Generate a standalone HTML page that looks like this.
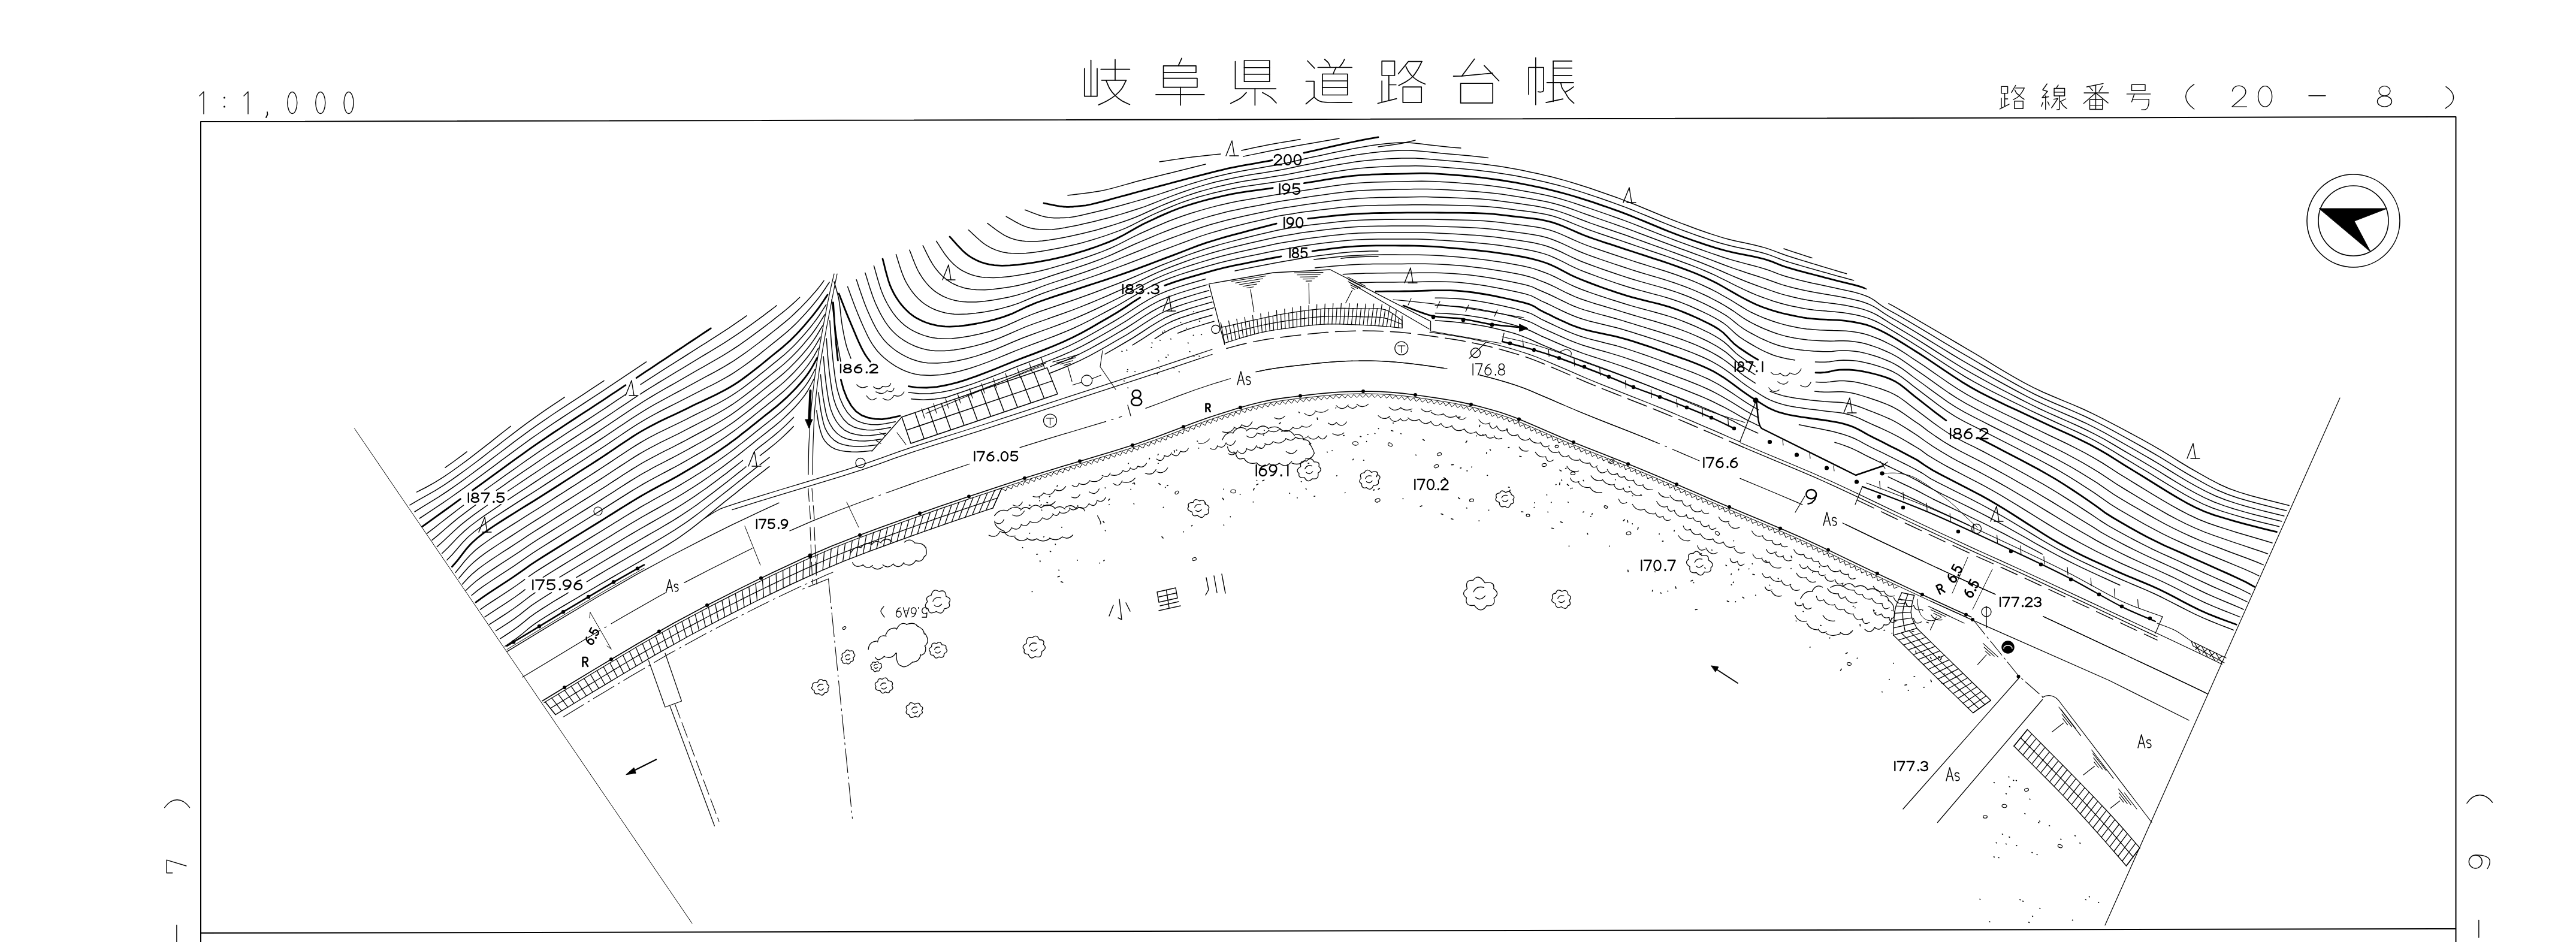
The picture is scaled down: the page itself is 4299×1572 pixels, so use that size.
<!DOCTYPE html>
<html><head><meta charset="utf-8"><title>岐阜県道路台帳</title>
<style>html,body{margin:0;padding:0;background:#fff;font-family:"Liberation Sans",sans-serif}svg{display:block}</style></head>
<body>
<svg width="4299" height="1572" viewBox="0 0 4299 1572" fill="none" stroke="#000" stroke-width="1.5" stroke-linecap="round" stroke-linejoin="round">
<path d="M335 1572L335 203L4098.5 195L4098.5 1572" stroke-width="2" stroke-linecap="butt"/>
<path d="M335 1557L4098.5 1550" stroke-width="2" stroke-linecap="butt"/>
<path d="M333 160L340 153L340 190" stroke-width="1.4"/>
<path d="M407 160L414 153L414 190" stroke-width="1.4"/>
<circle cx="374.5" cy="163" r="1.6" fill="#000" stroke="none"/>
<circle cx="374.5" cy="178" r="1.6" fill="#000" stroke="none"/>
<path d="M446 187L446.5 191L444 196" stroke-width="1.8"/>
<ellipse cx="487.8" cy="171.5" rx="8" ry="18" stroke-width="1.4"/>
<ellipse cx="534.8" cy="171.5" rx="8" ry="18" stroke-width="1.4"/>
<ellipse cx="582" cy="171.5" rx="8" ry="18" stroke-width="1.4"/>
<circle cx="3927.5" cy="368.5" r="77.5" stroke-width="1.6" fill="none"/>
<circle cx="3927.5" cy="368.5" r="58.5" stroke-width="1.6" fill="none"/>
<path d="M3870.5 348L3983.5 348L3929 369L3956 420Z" stroke-width="1" fill="#000"/>
<path d="M3661.7 140.7C3643 153 3643 169 3661.7 182" stroke-width="1.4"/>
<path d="M4082 144.6C4099 156 4099 170 4081 180.9" stroke-width="1.4"/>
<path d="M3725.5 152C3727 140 3747 140 3748 153C3748 160 3742 163 3725 178.1L3749.5 178.1" stroke-width="1.4"/>
<ellipse cx="3780.1" cy="160.9" rx="11.6" ry="17.3" stroke-width="1.4"/>
<path d="M3853 159.7L3881 159.7" stroke-width="1.4"/>
<ellipse cx="3979.5" cy="151.8" rx="9.5" ry="8.2" stroke-width="1.4"/>
<ellipse cx="3979.5" cy="169.2" rx="12" ry="9" stroke-width="1.4"/>
<path d="M274.7 1347.7C287 1330.5 304 1330.5 316.5 1347.7" stroke-width="1.4"/>
<path d="M287.7 1456.8L278.1 1456.8L278.1 1435.2L310.8 1445" stroke-width="1.4"/>
<path d="M294.9 1544L294.9 1572" stroke-width="1.4"/>
<path d="M4116.9 1340.4C4129 1322.5 4147 1322.5 4159.6 1339" stroke-width="1.4"/>
<circle cx="4131.3" cy="1438" r="11" stroke-width="1.4" fill="none"/>
<path d="M4131 1427C4148 1426 4156 1432 4155.3 1438C4155 1443 4153 1447 4151 1449.6" stroke-width="1.4"/>
<path d="M4136.8 1535.4L4136.8 1564.3" stroke-width="1.4"/>
<path d="M1809.8 114.4L1809.8 160.6L1831 160.6L1831 114.4" stroke-width="1.7"/>
<path d="M1820.6 100.6L1820.6 160.6" stroke-width="1.7"/>
<path d="M1861 99.4L1861 133.8" stroke-width="1.7"/>
<path d="M1837.2 115.6L1885.4 115.6" stroke-width="1.7"/>
<path d="M1838.5 133.8L1879.5 133.8" stroke-width="1.7"/>
<path d="M1879.5 133.8C1878.2 136.1 1875.1 143.7 1872 148C1868.9 152.3 1865 156.1 1861 159.4C1857 162.7 1852.6 165.4 1848 168C1843.4 170.6 1835.9 173.8 1833.5 175" stroke-width="1.7"/>
<path d="M1846 134.4C1847 136.7 1849.5 143.8 1852 148C1854.5 152.2 1857.7 156.1 1861 159.4C1864.3 162.7 1867.9 165.5 1872 168C1876.1 170.5 1883.2 173.3 1885.4 174.4" stroke-width="1.7"/>
<path d="M1972.2 97.2L1966.6 109.4" stroke-width="1.7"/>
<path d="M1941.6 145.6L1941.6 109.8L1996 109.8L1996 121.2L1941.6 121.2" stroke-width="1.7"/>
<path d="M1941.6 130.6L1997.9 130.6L1997.9 145.6L1941.6 145.6" stroke-width="1.7"/>
<path d="M1970 145.6L1970 175.6" stroke-width="1.7"/>
<path d="M1929 157.9L2009.8 157.9" stroke-width="1.7"/>
<path d="M2076.5 101L2118.8 101L2118.8 136.2L2076.5 136.2L2076.5 101" stroke-width="1.7"/>
<path d="M2076.5 112.9L2118.8 112.9" stroke-width="1.7"/>
<path d="M2076.5 124L2118.8 124" stroke-width="1.7"/>
<path d="M2061.5 102.5L2061.5 148.1L2129.4 148.1" stroke-width="1.7"/>
<path d="M2094.4 148.1L2094.4 175.6" stroke-width="1.7"/>
<path d="M2080 154.4C2078.3 156 2074.4 161 2070 164C2065.6 167 2056.5 171.1 2053.8 172.5" stroke-width="1.7"/>
<path d="M2106.9 154.4C2109.1 155.7 2116.2 159.1 2120 162C2123.8 164.9 2128.3 170.2 2130 171.9" stroke-width="1.7"/>
<path d="M2181.9 101.5L2193.8 113.8" stroke-width="1.7"/>
<path d="M2210.6 99C2211.7 100 2215.4 102.8 2217 105C2218.6 107.2 2219.5 111.2 2220 112.5" stroke-width="1.7"/>
<path d="M2243.8 99C2243.1 100.2 2241.5 103.8 2240 106C2238.5 108.2 2235.8 111.4 2235 112.5" stroke-width="1.7"/>
<path d="M2199.4 112.5L2256.2 112.5" stroke-width="1.7"/>
<path d="M2230 112.5C2229.5 113.4 2227.8 116.2 2227 118C2226.2 119.8 2225.3 122.6 2225 123.5" stroke-width="1.7"/>
<path d="M2206.9 123.5L2248.8 123.5L2248.8 158.5L2206.9 158.5L2206.9 123.5" stroke-width="1.7"/>
<path d="M2206.9 135L2248.8 135" stroke-width="1.7"/>
<path d="M2206.9 146.2L2248.8 146.2" stroke-width="1.7"/>
<path d="M2179.4 135.6L2193.1 135.6L2193.1 161.9L2179.4 173.5" stroke-width="1.7"/>
<path d="M2193.1 161.9C2194.1 162.8 2196.8 165.7 2199 167C2201.2 168.3 2202.8 169.3 2206.2 170C2209.8 170.7 2211.7 170.8 2220 171C2228.3 171.2 2250.2 171.2 2256.2 171.2" stroke-width="1.7"/>
<path d="M2306.2 101.9L2327.5 101.9L2327.5 126L2306.2 126L2306.2 101.9" stroke-width="1.7"/>
<path d="M2317.8 126L2317.8 168.1" stroke-width="1.7"/>
<path d="M2317.8 141.5L2329.8 141.5" stroke-width="1.7"/>
<path d="M2306.2 135L2306.2 170" stroke-width="1.7"/>
<path d="M2299.4 172.5L2330.6 164.6" stroke-width="1.7"/>
<path d="M2333.6 123.3L2350.4 102.6L2372.9 102.6" stroke-width="1.7"/>
<path d="M2372.9 102.6C2371.8 104.8 2368.6 111.8 2366 116C2363.4 120.2 2360.7 124.7 2357.5 128C2354.3 131.3 2350.9 133.6 2347 136C2343.1 138.4 2336.4 141.6 2334.3 142.7" stroke-width="1.7"/>
<path d="M2346.2 111C2347 112.5 2349.1 117.2 2351 120C2352.9 122.8 2354.8 125.5 2357.5 128C2360.2 130.5 2363.5 132.9 2367 135C2370.5 137.1 2376.6 139.4 2378.5 140.3" stroke-width="1.7"/>
<path d="M2341.3 145.1L2372.2 145.1L2372.2 171.1L2341.3 171.1L2341.3 145.1" stroke-width="1.7"/>
<path d="M2460.7 98.4L2439.7 126.8" stroke-width="1.7"/>
<path d="M2425.6 127.2L2439.7 126.8L2491 122" stroke-width="1.7"/>
<path d="M2476.9 109.4L2501.5 135" stroke-width="1.7"/>
<path d="M2437.6 139.2L2491.2 139.2L2491.2 171.9L2437.6 171.9L2437.6 139.2" stroke-width="1.7"/>
<path d="M2562.9 96.3L2562.9 174.7" stroke-width="1.7"/>
<path d="M2551.1 157.5L2551.1 112.5L2576 112.5L2576 148" stroke-width="1.7"/>
<path d="M2576 148C2575.9 148.7 2576.2 151.1 2575.5 152C2574.8 152.9 2573.4 153.3 2572 153.5C2570.6 153.7 2567.7 153.2 2566.8 153.2" stroke-width="1.7"/>
<path d="M2592.1 101.9L2592.1 169.4" stroke-width="1.7"/>
<path d="M2592.1 101.9L2623.3 101.9" stroke-width="1.7"/>
<path d="M2592.1 113.6L2623.3 113.6" stroke-width="1.7"/>
<path d="M2592.1 125.8L2623.3 125.8" stroke-width="1.7"/>
<path d="M2581.6 137.8L2625.9 137.8" stroke-width="1.7"/>
<path d="M2580.2 171.2L2608.3 165.2" stroke-width="1.7"/>
<path d="M2604.8 138.5C2605.2 139.9 2605.8 144.4 2607 147C2608.2 149.6 2610 151.1 2611.8 153.9C2613.6 156.7 2615.5 160.9 2618 164C2620.5 167.1 2625.2 170.8 2626.6 172.2" stroke-width="1.7"/>
<path d="M2625.9 144.8C2624.8 145.7 2621.3 148.5 2619 150C2616.7 151.5 2613 153.2 2611.8 153.9" stroke-width="1.7"/>
<path d="M3340 144.4L3350.6 144.4L3350.6 155.6L3340 155.6L3340 144.4" stroke-width="1.4"/>
<path d="M3345.6 155.6L3345.6 176.9" stroke-width="1.4"/>
<path d="M3345.6 165L3350.6 165" stroke-width="1.4"/>
<path d="M3340 163.8L3340 179.4" stroke-width="1.4"/>
<path d="M3337.5 181.9L3353.1 173.8" stroke-width="1.4"/>
<path d="M3356.9 154.4L3363.8 142.5" stroke-width="1.4"/>
<path d="M3363.8 146.9L3378.1 146.9" stroke-width="1.4"/>
<path d="M3378.1 146.9C3377.6 147.9 3376.3 150.9 3375 153C3373.7 155.1 3371.5 157.7 3370 159.4C3368.5 161.1 3367.7 161.9 3366 163C3364.3 164.1 3361 165.7 3360 166.2" stroke-width="1.4"/>
<path d="M3362.5 150C3362.9 150.8 3363.8 153.4 3365 155C3366.2 156.6 3368.5 158.1 3370 159.4C3371.5 160.7 3372.7 162 3374 163C3375.3 164 3377.4 165.2 3378.1 165.6" stroke-width="1.4"/>
<path d="M3361.9 168.8L3376.2 168.8L3376.2 181.2L3361.9 181.2L3361.9 168.8" stroke-width="1.4"/>
<path d="M3416.2 140L3409 150L3417 152.5L3408 163L3419 161.5" stroke-width="1.4"/>
<path d="M3413.8 160L3413.8 182.5" stroke-width="1.4"/>
<path d="M3409.4 170.6L3406.9 177.5" stroke-width="1.4"/>
<path d="M3417.5 170L3420 175.6" stroke-width="1.4"/>
<path d="M3435 141.9L3431.9 146.9" stroke-width="1.4"/>
<path d="M3428.1 147.5L3445.6 147.5L3445.6 160L3428.1 160L3428.1 147.5" stroke-width="1.4"/>
<path d="M3428.1 153.8L3445.6 153.8" stroke-width="1.4"/>
<path d="M3436.9 160L3436.9 182.5L3432.5 183.1" stroke-width="1.4"/>
<path d="M3427.5 165.6L3434.4 164.4L3423.8 180" stroke-width="1.4"/>
<path d="M3447.5 165L3438.8 169.4" stroke-width="1.4"/>
<path d="M3438.8 169.4C3439.5 170.5 3441.2 174 3443 176C3444.8 178 3448.3 180.4 3449.4 181.2" stroke-width="1.4"/>
<path d="M3510 139.4L3482.5 145" stroke-width="1.4"/>
<path d="M3497.5 142.5L3497.5 182.5" stroke-width="1.4"/>
<path d="M3478.1 155L3518.8 155" stroke-width="1.4"/>
<path d="M3487.5 145.6L3492.5 151.2" stroke-width="1.4"/>
<path d="M3508.8 143.8L3503.1 152.5" stroke-width="1.4"/>
<path d="M3497.5 155L3477.5 172.5" stroke-width="1.4"/>
<path d="M3497.5 155L3518.1 171.9" stroke-width="1.4"/>
<path d="M3487.5 166.2L3508.8 166.2L3508.8 182.5L3487.5 182.5L3487.5 166.2" stroke-width="1.4"/>
<path d="M3487.5 175.6L3508.8 175.6" stroke-width="1.4"/>
<path d="M3557.5 141.2L3580 141.2L3580 151.2L3557.5 151.2L3557.5 141.2" stroke-width="1.4"/>
<path d="M3549.4 156.9L3588.8 156.9" stroke-width="1.4"/>
<path d="M3561.9 156.9L3557.5 170" stroke-width="1.4"/>
<path d="M3558.8 165.6 L3586.2 165.6" stroke-width="1.4"/>
<path d="M3586.2 165.6C3586.2 166.8 3586.4 170.6 3586 173C3585.6 175.4 3584.8 178.3 3583.8 180C3582.8 181.7 3581.7 182.5 3580 183C3578.3 183.5 3574.8 183.1 3573.8 183.1" stroke-width="1.4"/>
<path d="M591.5 715L1155 1541" stroke-width="1"/>
<path d="M3905 664L3513 1544" stroke-width="1.2"/>
<path d="M872 1130L913.2 1105.2L972.2 1069.4L1038.2 1030.2L1100 995L1112 988.5" stroke-width="1.2" stroke-dasharray="150 10 3 10"/>
<path d="M1142 972.4L1184.8 950.2L1240.8 922.2L1255 915.3" stroke-width="1.2" stroke-dasharray="150 10 3 10"/>
<path d="M1318 885.9L1355.9 869.4L1400.4 851.5L1443.6 835.3L1488.3 819.2L1536.5 802L1587.2 784.6L1618 774.3" stroke-width="1.2" stroke-dasharray="150 10 3 10"/>
<path d="M1702 746.9L1747.8 732.6L1795 718.5L1839.7 705.2L1872 695.1" stroke-width="1.2" stroke-dasharray="150 10 3 10"/>
<path d="M1912 681.4L1938.1 671.7L1966.4 660.9L1993.3 651L2019.4 642.3L2043.6 634.7L2062 629.2" stroke-width="1.2" stroke-dasharray="150 10 3 10"/>
<path d="M2096 620.6L2115.3 616.7L2135.7 613.5L2155.5 611L2175 608.8L2194.2 606.6L2212.9 604.8L2231.4 603.4L2250 602.5L2268.5 602.1L2286.9 602.1L2305.5 602.6L2325 603.8L2346.1 605.8L2368.4 608.5L2390.3 611.5L2410 614.5L2415 615.3" stroke-width="1.2" stroke-dasharray="150 10 3 10"/>
<path d="M2468 625.5L2481.5 628.8L2497.1 633L2512.4 637.4L2526.7 641.9L2539 646.2L2549.5 650.2L2559.7 654.5L2571.6 659.6L2585.8 665.6L2601.1 672.2L2618.1 679.6L2637.6 687.8L2661 697.2L2688.4 708.1L2717.1 719.3L2743.9 730L2767.3 739.6L2788.8 748.7L2808.9 757.4L2827.9 765.5L2836 769" stroke-width="1.2" stroke-dasharray="150 10 3 10"/>
<path d="M2904 798.4L2931.9 810L2966 824.2L3001 839.1L3008 842.1" stroke-width="1.2" stroke-dasharray="150 10 3 10"/>
<path d="M3075 872.8L3104.4 886.9L3135 901.6L3164.8 915.7L3194 929.4L3222.6 942.8L3250.9 956L3277.9 968.4L3299.9 978.3L3322.8 988.6L3330 991.8" stroke-width="1.2" stroke-dasharray="150 10 3 10"/>
<path d="M3410 1028.8L3471.8 1057.7L3548.2 1093.5L3614 1124.4L3654 1143.3L3672.8 1152.3L3679.5 1155.6L3681.9 1157L3684 1158" stroke-width="1.2" stroke-dasharray="150 10 3 10"/>
<path d="M2096 620.6L2115.3 616.7L2135.7 613.5L2155.5 611L2175 608.8L2194.2 606.6L2212.9 604.8L2231.4 603.4L2250 602.5L2268.5 602.1L2286.9 602.1L2305.5 602.6L2325 603.8L2346.1 605.8L2368.4 608.5L2390.3 611.5L2410 614.5" stroke-width="1.3"/>
<path d="M2470 626L2485.4 629.8L2500.9 634.1L2516.1 638.6L2530 643L2541.8 647.2L2552 651.2L2562.5 655.7L2575 661L2589.5 667.2L2605.1 674L2622.7 681.5L2643 690L2667.6 699.9L2695.6 710.9L2724.1 722.1L2750 732.5L2760 736.6" stroke-width="1.3"/>
<path d="M3080 875.2L3104.4 886.9L3135 901.6L3164.8 915.7L3194 929.4L3222.6 942.8L3250.9 956L3277.9 968.4L3299.9 978.3L3322.8 988.6L3330 991.8" stroke-width="1.3"/>
<path d="M3410 1028.8L3471.8 1057.7L3548.2 1093.5L3614 1124.4L3654 1143.3L3672.8 1152.3L3679.5 1155.6L3681.9 1157L3684 1158" stroke-width="1.3"/>
<path d="M905 1169.7L939.6 1148.7L998.5 1113.1L1064 1074.2L1124.5 1039.7L1180.1 1010L1235.8 981.6L1289.9 955.2L1340.9 931.5L1386.7 911.8L1429.3 895L1471.9 879.3L1517.3 863L1565.8 845.8L1616.2 828.7L1666.8 811.9L1715.6 796.1L1762.6 781.4L1809.5 767.4L1854.5 754L1896 740.9L1932.3 728.3L1963.6 716.6L1991.1 706.1L2016.3 697.1L2041.2 688.9L2064.1 681.8L2085.2 675.7L2105.3 670.7L2124.2 666.9L2142.7 664.1L2161.5 661.7L2180.9 659.4L2199.5 657.3L2217.3 655.6L2234.6 654.3L2251.7 653.5L2269.2 653.1L2286.2 653.1L2303.3 653.5L2321.1 654.6L2340.5 656.4L2361.7 659L2382.9 662L2402.2 664.9L2418.2 667.5L2432 669.9L2444.8 672.6L2458.2 675.6L2472.4 679.2L2487 683.2L2501.1 687.3L2513.8 691.4L2523.7 694.9L2532.4 698.3L2542.4 702.6L2555.3 708L2569.2 714L2584.8 720.7L2602.8 728.5L2623.7 737.2L2648.8 747.3L2677 758.3L2705.3 769.5L2730.7 779.7L2753 789L2773.9 797.8L2793.6 806.3L2812.4 814.4L2827.8 821L2840.8 826.7L2855.6 833.2L2876 841.9L2904.4 853.8L2937.6 867.6L2972.3 882.3L3005.2 896.5L3036 910.7L3066.8 925.4L3097.6 940.3L3128.2 954.9L3157.8 968.8L3186.8 982.4L3215.3 995.7L3243.7 1008.8L3268.4 1020.1L3289.9 1029.7L3290 1029.7" stroke-width="1.6"/>
<path d="M1660 818.4L1704.9 803.7L1752 788.8L1799 774.7L1844.7 761.1L1887.2 748L1925.1 735.2L1957.6 723.1L1985.9 712.3L2011.3 703L2036.4 694.6L2059.7 687.3L2081.1 681L2101.3 675.8L2120.2 671.7L2138.6 668.7L2157.2 666.2L2176.5 664L2195.4 661.8L2213.3 660L2230.5 658.6L2247.6 657.6L2264.9 657.1L2281.9 657L2298.8 657.4L2316.4 658.3L2335 659.9L2355.9 662.3L2377.1 665.2L2397.1 668.2L2413.8 670.8L2427.9 673.3L2440.8 675.8L2453.8 678.7L2467.8 682.1L2482.3 686L2496.5 690.1L2509.6 694.2L2520.1 697.8L2528.7 701.1L2538.1 705.1L2550.3 710.3L2564 716.1L2579.1 722.6L2596.5 730.1L2616.6 738.6L2640.7 748.3L2668.3 759.3L2696.9 770.5L2723.3 781L2746.1 790.4L2767.2 799.3L2787.2 807.9L2806.2 816.1L2822.7 823.2L2836 828.9L2850 835.1L2868.6 843.1L2895.2 854.3L2927.5 867.7L2962.1 882.3L2995.7 896.7L3026.6 910.7L3057.4 925.3L3088.2 940.2L3118.9 954.9L3148.8 969L3177.9 982.6L3206.5 996L3234.9 1009.2L3261.1 1021.2L3282.8 1030.9L3290 1034.1" stroke-width="1"/>
<circle cx="942" cy="1147.3" r="3" fill="#000" stroke="none"/>
<circle cx="1020" cy="1100.2" r="3" fill="#000" stroke="none"/>
<circle cx="1100" cy="1053.4" r="3" fill="#000" stroke="none"/>
<circle cx="1180" cy="1010.1" r="3" fill="#000" stroke="none"/>
<circle cx="1270" cy="964.7" r="3" fill="#000" stroke="none"/>
<circle cx="1352" cy="926.6" r="3" fill="#000" stroke="none"/>
<circle cx="1435" cy="892.9" r="3" fill="#000" stroke="none"/>
<circle cx="1535" cy="856.6" r="3" fill="#000" stroke="none"/>
<circle cx="1617" cy="828.4" r="3" fill="#000" stroke="none"/>
<circle cx="1710" cy="797.9" r="3" fill="#000" stroke="none"/>
<circle cx="1802" cy="769.6" r="3" fill="#000" stroke="none"/>
<circle cx="1890" cy="742.9" r="3" fill="#000" stroke="none"/>
<circle cx="1975" cy="712.2" r="3" fill="#000" stroke="none"/>
<circle cx="2070" cy="680" r="3" fill="#000" stroke="none"/>
<circle cx="2170" cy="660.7" r="3" fill="#000" stroke="none"/>
<circle cx="2275" cy="653" r="3" fill="#000" stroke="none"/>
<circle cx="2362" cy="659.1" r="3" fill="#000" stroke="none"/>
<circle cx="2455" cy="674.9" r="3" fill="#000" stroke="none"/>
<circle cx="2535" cy="699.4" r="3" fill="#000" stroke="none"/>
<circle cx="2626" cy="738.1" r="3" fill="#000" stroke="none"/>
<circle cx="2717" cy="774.2" r="3" fill="#000" stroke="none"/>
<circle cx="2798" cy="808.2" r="3" fill="#000" stroke="none"/>
<circle cx="2886" cy="846.1" r="3" fill="#000" stroke="none"/>
<circle cx="2971" cy="881.7" r="3" fill="#000" stroke="none"/>
<circle cx="3051" cy="917.8" r="3" fill="#000" stroke="none"/>
<circle cx="3133" cy="957.1" r="3" fill="#000" stroke="none"/>
<circle cx="3208" cy="992.3" r="3" fill="#000" stroke="none"/>
<circle cx="3281" cy="1025.7" r="3" fill="#000" stroke="none"/>
<path d="M908 1172.6L941.7 1152.2L1000.6 1116.5L1066 1077.6L1126.5 1043.2L1182 1013.6L1237.6 985.1L1291.6 958.8L1342.5 935.2L1388.2 915.5L1430.7 898.8L1473.2 883.1L1518.6 866.7L1567.1 849.6L1617.5 832.5L1668.1 815.7L1672 814.4" stroke-width="1.2"/>
<path d="M927 1192.6L969.2 1167L1030.7 1130L1095.5 1091.7L1153 1059.5L1208.3 1030.3L1263.3 1002.5L1316.2 977L1365.3 954.6L1409.1 936.2L1450.7 920.1L1493.4 904.5L1539.6 887.9L1588.3 870.9L1638.7 853.8L1657 847.8" stroke-width="1.4"/>
<path d="M910 1171.4L927 1192.6M920.8 1164.9L937.3 1186.4M931.6 1158.3L947.7 1180.1M942.3 1151.8L958 1173.8M953.1 1145.2L968.3 1167.6M963.9 1138.7L978.7 1161.3M974.7 1132.2L989 1155M985.4 1125.7L999.4 1148.8M996.2 1119.1L1009.7 1142.5M1007 1112.6L1020.1 1136.3M1017.8 1106.2L1030.4 1130.1M1028.6 1099.7L1040.8 1123.9M1039.5 1093.3L1051.2 1117.7M1050.3 1086.8L1061.6 1111.5M1061.2 1080.5L1072 1105.4M1072.1 1074.1L1082.5 1099.3M1083 1067.8L1092.9 1093.2M1093.9 1061.5L1103.4 1087.2M1104.8 1055.3L1113.9 1081.2M1115.8 1049.1L1124.4 1075.2M1126.9 1043L1135 1069.4M1137.9 1037L1145.6 1063.6M1149 1031L1156.2 1057.8M1160.1 1025.1L1166.8 1052.1M1171.3 1019.2L1177.5 1046.4M1182.4 1013.3L1188.2 1040.8M1193.6 1007.5L1198.9 1035.2M1204.8 1001.7L1209.7 1029.6M1216 996L1220.4 1024.1M1227.3 990.3L1231.2 1018.6M1238.5 984.7L1242 1013.1M1249.8 979.1L1252.8 1007.7M1261.1 973.5L1263.6 1002.4M1272.5 968L1274.5 997M1283.8 962.5L1285.3 991.7M1295.2 957.1L1296.2 986.5M1306.6 951.7L1307.1 981.3M1318 946.4L1318.1 976.1M1329.4 941.1L1329 971M1340.9 935.9L1340 966M1352.4 930.8L1351 961M1364 925.7L1362 956M1375.6 920.8L1373.1 951.2M1387.2 915.9L1384.2 946.4M1398.9 911.2L1395.4 941.8M1410.6 906.5L1406.6 937.2M1422.3 902L1417.8 932.7M1434.1 897.5L1429.1 928.3M1445.9 893.1L1440.4 924M1457.7 888.7L1451.7 919.8M1469.6 884.4L1463 915.6M1481.4 880.2L1474.4 911.4M1493.3 875.9L1485.7 907.3M1505.1 871.6L1497.1 903.2M1517 867.3L1508.5 899.1M1528.8 863.1L1519.9 895M1540.7 858.9L1531.2 890.9M1552.6 854.7L1542.6 886.8M1564.5 850.5L1554 882.8M1576.4 846.4L1565.4 878.8M1588.3 842.3L1576.8 874.8M1600.3 838.3L1588.3 870.9M1612.2 834.2L1599.7 867M1624.1 830.2L1611.1 863.1M1636.1 826.3L1622.6 859.2M1648.1 822.3L1634.1 855.4M1660 818.3L1645.5 851.6M1672 814.4L1657 847.8" stroke-width="1.3"/>
<path d="M918.5 1182L929.1 1175.6L939.6 1169.2L950.2 1162.8L960.7 1156.4L971.3 1150L981.8 1143.6L992.4 1137.2L1003 1130.8L1013.5 1124.5L1024.1 1118.1L1034.7 1111.8L1045.3 1105.5L1056 1099.2L1066.6 1092.9L1077.3 1086.7L1087.9 1080.5L1098.6 1074.3L1109.4 1068.2L1120.1 1062.2L1130.9 1056.2L1141.7 1050.3L1152.6 1044.4L1163.5 1038.6L1174.4 1032.8L1185.3 1027L1196.3 1021.3L1207.2 1015.7L1218.2 1010L1229.2 1004.5L1240.3 998.9L1251.3 993.4L1262.4 987.9L1273.5 982.5L1284.6 977.1L1295.7 971.8L1306.9 966.5L1318 961.3L1329.2 956.1L1340.5 950.9L1351.7 945.9L1363 940.9L1374.3 936L1385.7 931.2L1397.1 926.5L1408.6 921.9L1420.1 917.4L1431.6 912.9L1443.1 908.6L1454.7 904.3L1466.3 900L1477.9 895.8L1489.5 891.6L1501.1 887.4L1512.7 883.2L1524.3 879L1536 874.9L1547.6 870.8L1559.2 866.7L1570.9 862.6L1582.6 858.6L1594.3 854.6L1605.9 850.6L1617.6 846.7L1629.3 842.7L1641.1 838.8L1652.8 835L1664.5 831.1" stroke-width="1.3"/>
<path d="M910 1171.4L927 1192.6" stroke-width="1.3"/>
<path d="M1672 814.4L1657 847.8" stroke-width="1.3"/>
<path d="M940 1196.5L988.8 1166.8L1052.1 1128.8L1115.9 1091.5L1171.5 1060.9L1226.7 1032.1L1281.1 1004.9L1333.2 980.1L1380.6 958.8L1390 954.9" stroke-width="1.1" stroke-dasharray="40 8 3 8"/>
<path d="M1672 815.5L1678.5 819.1L1681.5 812.4L1688 816L1691 809.3L1697.5 812.9L1700.6 806.2L1707 809.9L1710.1 803.1L1716.5 806.8L1719.6 800L1726.1 803.7L1729.2 797L1735.6 800.7L1738.7 794L1745.1 797.8L1748.3 791L1754.7 794.8L1757.8 788.1L1764.2 791.9L1767.4 785.2L1773.8 789L1777 782.3L1783.4 786.1L1786.6 779.4L1793 783.3L1796.2 776.6L1802.6 780.4L1805.8 773.7L1812.2 777.6L1815.4 770.9L1821.8 774.7L1825 768L1831.4 771.9L1834.6 765.2L1841 769L1844.2 762.3L1850.6 766.1L1853.8 759.4L1860.2 763.2L1863.3 756.5L1869.8 760.3L1872.9 753.5L1879.4 757.3L1882.5 750.5L1888.9 754.3L1892 747.5L1898.5 751.2L1901.5 744.4L1908 748L1911 741.1L1917.5 744.7L1920.5 737.9L1927 741.4L1929.9 734.5L1936.5 738L1939.3 731.1L1945.9 734.5L1948.7 727.6L1955.3 731L1958 724L1964.7 727.4L1967.4 720.5L1974 723.8L1976.7 716.9L1983.4 720.2L1986.1 713.3L1992.7 716.7L1995.5 709.8L2002 713.2L2004.9 706.3L2011.4 709.9L2014.3 703L2020.8 706.6L2023.8 699.8L2030.3 703.5L2033.3 696.7L2039.8 700.4L2042.8 693.6L2049.3 697.3L2052.4 690.6L2058.8 694.4L2061.9 687.6L2068.3 691.5L2071.5 684.8L2077.8 688.7L2081.2 682L2087.4 686L2090.8 679.4L2097 683.5L2100.5 677L2106.7 681.2L2110.3 674.7L2116.3 679.1L2120.1 672.8L2126 677.3L2130 671L2135.7 675.7L2139.9 669.5L2145.6 674.3L2149.8 668.1L2155.4 673L2159.7 666.9L2165.3 671.8L2169.7 665.8L2175.3 670.6L2179.6 664.6L2185.2 669.5L2189.6 663.4L2195.1 668.3L2199.5 662.3L2205.1 667.3L2209.5 661.3L2214.9 666.3L2219.4 660.4L2224.9 665.5L2229.4 659.7L2234.8 664.8L2239.4 659L2244.7 664.3L2249.4 658.6L2254.6 663.9L2259.4 658.2L2264.5 663.6L2269.4 658.1L2274.5 663.5L2279.4 658L2284.4 663.5L2289.5 658.1L2294.3 663.7L2299.5 658.4L2304.2 664.1L2309.5 658.9L2314.1 664.6L2319.5 659.5L2324 665.4L2329.4 660.3L2333.9 666.3L2339.4 661.3L2343.7 667.4L2349.3 662.5L2353.6 668.6L2359.3 663.8L2363.5 669.9L2369.2 665.1L2373.4 671.2L2379.1 666.5L2383.3 672.7L2389 668L2393.1 674.1L2398.9 669.5L2403 675.7L2408.8 671L2412.8 677.2L2418.7 672.6L2422.7 678.9L2428.5 674.4L2432.4 680.7L2438.4 676.3L2442.1 682.7L2448.1 678.4L2451.8 684.9L2457.9 680.7L2461.4 687.2L2467.6 683.1L2471.1 689.7L2477.3 685.7L2480.6 692.3L2486.9 688.3L2490.2 695L2496.6 691.2L2499.7 697.9L2506.1 694.1L2509.2 700.9L2515.6 697.3L2518.4 704.1L2525 700.7L2527.6 707.7L2534.3 704.5L2536.7 711.6L2543.5 708.5L2545.9 715.5L2552.7 712.4L2555.2 719.4L2561.9 716.3L2564.3 723.3L2571.1 720.2L2573.5 727.3L2580.3 724.2L2582.7 731.3L2589.5 728.2L2591.9 735.3L2598.7 732.2L2601.1 739.2L2607.9 736.1L2610.4 743.1L2617.1 739.9L2619.7 746.9L2626.4 743.7L2629 750.7L2635.7 747.4L2638.3 754.4L2645 751.1L2647.6 758.1L2654.3 754.8L2657 761.8L2663.6 758.5L2666.3 765.4L2672.9 762.1L2675.6 769.1L2682.3 765.8L2684.9 772.8L2691.6 769.5L2694.2 776.4L2700.9 773.1L2703.5 780.1L2710.2 776.8L2712.8 783.8L2719.5 780.6L2722.1 787.5L2728.8 784.3L2731.3 791.3L2738 788.1L2740.5 795.1L2747.3 792L2749.8 799L2756.5 795.9L2759 802.9L2765.7 799.8L2768.2 806.8L2774.9 803.7L2777.4 810.7L2784.1 807.7L2786.6 814.7L2793.3 811.6L2795.7 818.6L2802.5 815.6L2805 822.6L2811.7 819.5L2814.1 826.5L2820.9 823.5L2823.3 830.5L2830.1 827.5L2832.5 834.5L2839.3 831.5L2841.7 838.5L2848.4 835.5L2850.8 842.5L2857.6 839.5L2860.1 846.5L2866.8 843.4L2869.3 850.5L2876 847.4L2878.5 854.4L2885.3 851.3L2887.8 858.3L2894.5 855.1L2897 862.1L2903.7 859L2906.3 866L2913 862.8L2915.5 869.8L2922.2 866.6L2924.7 873.6L2931.5 870.5L2934 877.5L2940.7 874.3L2943.2 881.3L2950 878.2L2952.4 885.2L2959.2 882.1L2961.6 889.1L2968.4 886L2970.8 893L2977.6 889.9L2980 897L2986.8 893.9L2989.2 901L2996 897.9L2998.3 905L3005.1 902L3007.4 909.1L3014.2 906.1L3016.5 913.2L3023.3 910.3L3025.5 917.4L3032.4 914.6L3034.6 921.7L3041.5 918.8L3043.6 925.9L3050.5 923.1L3052.6 930.2L3059.5 927.5L3061.7 934.6L3068.5 931.8L3070.7 938.9L3077.6 936.1L3079.7 943.3L3086.6 940.5L3088.7 947.6L3095.6 944.8L3097.7 952L3104.6 949.2L3106.8 956.3L3113.7 953.5L3115.8 960.6L3122.7 957.8L3124.9 964.9L3131.8 962.1L3133.9 969.2L3140.8 966.3L3143 973.4L3149.9 970.6L3152.1 977.7L3158.9 974.8L3161.1 981.9L3168 979.1" stroke-width="1"/>
<path d="M846.4 1087.1L874.8 1069.9L930.5 1036.1L996.3 996.8L1061.1 959.4L1119 928L1176.4 898.4L1220 876.7" stroke-width="1.3"/>
<path d="M846 1083.8L885.6 1059.9L944.9 1024L1011.5 984.4L1074.5 948.5L1075 948.3" stroke-width="1"/>
<path d="M846 1078L883.1 1055.6L942.3 1019.7L1008.9 980.1L1072.1 944.2L1075 942.6" stroke-width="2.6"/>
<circle cx="857" cy="1071.4" r="3.2" fill="#000" stroke="none"/>
<circle cx="900" cy="1045.3" r="3.2" fill="#000" stroke="none"/>
<circle cx="940" cy="1021.1" r="3.2" fill="#000" stroke="none"/>
<circle cx="982" cy="996" r="3.2" fill="#000" stroke="none"/>
<circle cx="1024" cy="971.3" r="3.2" fill="#000" stroke="none"/>
<circle cx="1064" cy="948.6" r="3.2" fill="#000" stroke="none"/>
<path d="M1175 865.5L1179.5 862.6L1185.9 858.4L1192.8 854.2L1198.4 851.2L1202.3 849.2L1209.1 846.6L1223.1 841.9L1244.1 835.2L1270.2 827.1L1300 818L1335.3 807.3L1375.1 795.4L1413.5 783.7L1445.5 773.2L1472.6 763.6L1499.7 753.9L1531.2 743.3L1567.2 731.9L1605.3 720L1643 708L1679.3 696.2L1715.3 684.3L1752.3 672.2L1791.4 659.4L1832.4 646.1L1873.6 632.7L1913.3 619.6L1956 605.4L1995.5 592.2L2023 583" stroke-width="1.3"/>
<path d="M1222 850.7L1238.9 845.3L1263.4 837.6L1292.1 828.8L1325.1 818.8L1364 807.1L1403.6 795.1L1438.1 784.1L1466.5 774.3L1493.1 764.7L1522.5 754.6L1557.3 743.4L1594.9 731.6L1633 719.6L1669.7 707.7L1705.8 695.9L1742.3 683.9L1780.5 671.4L1821.1 658.2L1862.5 644.7L1902.5 631.6L1944.2 617.8L1985.8 603.9L2018.3 593L2023 591.4" stroke-width="1.3"/>
<path d="M1220 876.7L1273.4 851.3L1300 839.2" stroke-width="1.3"/>
<path d="M2047 581.5L2065 576.6L2088.9 570.9L2112.3 566.5L2134.2 563.3L2154.6 560.8L2174.1 558.5L2193.8 556.4L2213.5 554.6L2233.3 553.2L2253.2 552.4L2272.8 552L2292.5 552.2L2312.9 552.9L2334.4 554.3L2357.5 556.7L2380.8 559.7L2402.8 562.8L2422.2 565.8L2439.2 568.6L2454.8 571.5L2469.9 574.7L2485.6 578.3L2502.2 582.6L2518.7 587.2L2534.6 591.9L2549.4 596.8L2562.5 601.6L2574 606.2L2585 610.9L2598 616.4L2613.2 622.9L2629.2 629.9L2646.9 637.5L2667.4 645.9L2692.7 656L2721.1 667.2L2749.4 678.4L2774.9 688.7L2797.7 698.2L2818.8 707.2L2838.3 715.6L2856.6 723.4L2871.5 729.9L2884.7 735.7L2900 742.3L2910 746.6" stroke-dasharray="34 12"/>
<path d="M2386 554.4L2403.7 556.9L2423.1 559.9L2440.2 562.7L2456 565.6L2471.2 568.8L2487.1 572.5L2503.7 576.8L2520.4 581.4L2536.4 586.2L2551.4 591.1L2564.7 596L2576.3 600.7L2587.3 605.4L2600.3 610.9L2615.6 617.4L2631.6 624.4L2649.2 632L2669.6 640.4L2694.9 650.4L2723.3 661.6L2751.6 672.8L2777.2 683.1L2800 692.7L2821.1 701.6L2840.7 710.1L2859 717.9L2873.9 724.4L2887.1 730.2L2902.4 736.8L2905 737.9" stroke-width="1.2"/>
<path d="M2905 744.5L2928.4 754.4L2959.3 767.3L2994.2 781.8L3029.5 796.9L3062.7 811.8L3094.9 826.8L3126.2 841.9L3156.5 856.5L3186.1 870.5L3215.2 884.2L3243.8 897.5L3271.9 910.6L3298.7 922.9L3320.3 932.7L3343.4 943L3374.9 957.4L3423.1 979.8L3493 1012.4L3569.4 1048.3L3600 1062.6" stroke-width="1.3"/>
<path d="M3100 834.8L3124 846.4L3154.4 861L3184 875L3213.1 888.7L3241.7 902.1L3269.8 915.2L3296.6 927.5L3318.3 937.2L3341.3 947.5L3372.8 961.9L3421 984.3L3490.8 1016.9L3567.3 1052.8L3600 1068.1" stroke-width="1.4" stroke-dasharray="30 14"/>
<path d="M2905 739L2923.7 747L2953 759.2L2987.2 773.5L3022.8 788.5L3056.7 803.5L3089 818.5L3120.6 833.6L3151.2 848.4L3180.9 862.5L3210.1 876.3L3238.8 889.7L3267 902.8L3294.6 915.6L3317.1 925.8L3339.1 935.6L3367.9 948.7L3410.8 968.5L3476.3 999.1L3552.8 1034.9L3622.9 1067.8L3669.9 1090L3693.4 1101.2L3703.7 1106.3L3707.4 1108.2L3708.2 1108.6" stroke-width="1.2"/>
<path d="M3292.5 1035L3520 1135.5L3653 1202" stroke-width="1.3"/>
<path d="M1616.4 383.8L1617.9 385.1L1619.4 386.5L1620.8 387.8L1622.3 389.2L1623.7 390.6L1625.2 391.9L1626.6 393.3L1628.1 394.6L1629.5 396L1631 397.3L1632.5 398.6L1634 400L1635.5 401.3L1637 402.6L1638.6 403.8L1640.2 405.1L1641.8 406.3L1643.4 407.5L1645 408.6L1646.7 409.7L1648.4 410.7L1650.2 411.7L1651.9 412.7L1653.7 413.6L1655.6 414.5L1657.4 415.3L1659.2 416.1L1661.1 416.9L1663 417.6L1664.9 418.2L1666.8 418.8L1668.8 419.4L1670.7 419.9L1672.7 420.4L1674.7 420.9L1676.6 421.3L1678.6 421.6L1680.6 421.9L1682.7 422.2L1688 422.8L1700.3 423.2L1712.5 422.5L1724.6 421.2L1736.7 419.5L1748.8 417.5L1760.9 415.3L1772.9 412.9L1784.8 410.3L1796.8 407.5L1808.6 404.4L1820.4 401L1832.1 397.4L1843.8 393.6L1855.3 389.6L1866.8 385.4L1878.2 380.9L1889.2 375.7L1900.1 370.2L1910.9 364.5L1921.9 359.1L1933 354.1L1944.2 349.2L1955.5 344.5L1966.9 339.9L1978.3 335.7L1990 331.9L2001.7 328.3L2013.5 325.1L2025.4 322L2037.3 319.2L2049.2 316.5L2061.2 314L2073.3 311.8L2085.4 309.9L2097.5 308.2L2109.6 306.5L2121.7 304.7L2133.9 302.9L2146 301L2157.5 299L2168.8 296.9L2180.1 295L2191.3 293L2202.6 291L2213.9 289L2225.2 287L2236.5 285.2L2247.8 283.5L2259.2 282L2270.6 280.7L2282 279.7L2293.4 278.9L2304.8 278.2L2316.2 277.7L2327.7 277.3L2339.2 277.1L2350.6 276.9L2362.1 276.8L2373.5 276.9L2384.9 277.4L2396.4 278.1L2407.8 279L2419.2 279.9L2430.6 280.8L2442 281.8L2453.5 282.9L2464.9 284.1L2476.2 285.4L2487.6 286.8L2499 288.4L2510.3 290.2L2521.6 292.1L2532.9 294.1L2544.1 296.3L2555.4 298.5L2566.6 300.9L2577.8 303.5L2588.9 306.2L2600 309L2608.8 311.4L2617.6 313.9L2626.3 316.5L2635.1 319.1L2643.8 321.9L2652.4 324.7L2661.1 327.6L2669.7 330.5L2678.3 333.5L2686.9 336.5L2695.5 339.6L2704.1 342.7L2712.7 345.9L2721.2 349.2L2729.6 352.6L2738.1 356.1L2746.5 359.5L2754.9 363L2763.4 366.5L2771.8 370L2780.2 373.4L2788.7 376.8L2797.2 380.1L2805.8 383.4L2814.3 386.5L2822.9 389.6L2831.5 392.7L2840.1 395.7L2848.7 398.6L2857.4 401.5L2866.1 404.2L2874.9 406.8L2883.7 409.1L2892.5 411.2L2901.5 413.2L2910.4 415L2919.3 416.8L2928.2 418.8L2937.1 420.8L2945.1 423L2951.2 424.9L2957.4 427.1L2963.4 429.4L2969.4 431.8L2975.5 434.1L2981.6 436.2L2987.8 438.1L2994 440L3000.2 441.8L3006.4 443.6L3012.6 445.4L3018.8 447.2L3025 448.9L3031.3 450.7L3037.5 452.4L3043.7 454.2L3050 455.9L3056.2 457.7L3062.4 459.4L3068.6 461.2L3074.9 462.8L3081.1 464.5L3087.4 466.2L3093.6 467.9"/>
<path d="M1647.8 372.6L1649.3 373.7L1650.7 374.7L1652.2 375.8L1653.6 376.9L1655.1 378L1656.5 379.1L1658 380.2L1659.5 381.3L1660.9 382.4L1662.4 383.5L1663.9 384.6L1665.3 385.6L1666.9 386.7L1668.4 387.7L1669.9 388.7L1671.4 389.7L1673 390.7L1674.6 391.6L1676.1 392.5L1677.8 393.4L1679.4 394.2L1681.1 395L1682.8 395.8L1684.5 396.5L1686.3 397.2L1688 397.8L1689.8 398.4L1691.5 399L1693.3 399.5L1695.1 400L1696.9 400.4L1698.8 400.8L1700.6 401.2L1702.4 401.5L1704.3 401.8L1706.1 402.1L1708 402.3L1709.9 402.5L1711.7 402.7L1716.8 403.1L1728.2 403.1L1739.6 402.1L1750.9 400.6L1762.2 398.7L1773.4 396.7L1784.7 394.5L1795.9 392.1L1807 389.5L1818.1 386.8L1829.2 383.9L1840.2 380.8L1851.2 377.5L1862.1 374.1L1873 370.5L1883.8 366.7L1894.5 362.7L1905 358.3L1915.4 353.5L1925.7 348.7L1936.1 344.1L1946.6 339.8L1957.2 335.5L1967.9 331.4L1978.6 327.4L1989.4 323.7L2000.3 320.2L2011.3 317.1L2022.4 314.1L2033.5 311.3L2044.7 308.8L2055.8 306.3L2067.1 304.1L2078.4 302.1L2089.7 300.3L2101 298.6L2112.3 296.9L2123.6 295.1L2134.9 293.3L2146.2 291.4L2157.5 289.3L2168.7 286.9L2180 284.8L2191.3 282.7L2202.5 280.6L2213.8 278.4L2225.1 276.3L2236.4 274.3L2247.7 272.4L2259 270.6L2270.4 269.1L2281.8 267.8L2293.2 266.7L2304.6 265.7L2316 264.9L2327.5 264.4L2338.9 264.1L2350.4 263.9L2361.9 264.1L2373.3 264.7L2384.7 265.5L2396.1 266.5L2407.6 267.4L2419 268.4L2430.5 269.3L2441.9 270.4L2453.3 271.5L2464.7 272.7L2476.1 274L2487.5 275.4L2498.9 277L2510.2 278.8L2521.5 280.8L2532.8 282.8L2544.1 285L2555.3 287.4L2566.6 289.8L2577.7 292.4L2588.9 295.1L2600 298L2608.8 300.4L2617.6 302.9L2626.3 305.5L2635.1 308.2L2643.8 311L2652.5 313.8L2661.1 316.7L2669.8 319.7L2678.4 322.7L2687 325.7L2695.6 328.8L2704.2 331.9L2712.7 335.2L2721.2 338.5L2729.7 341.8L2738.2 345.3L2746.6 348.8L2755.1 352.2L2763.5 355.7L2771.9 359.2L2780.4 362.7L2788.9 366.1L2797.4 369.4L2805.9 372.6L2814.5 375.8L2823 379L2831.6 382.2L2840.2 385.2L2848.8 388.2L2857.5 391.1L2866.2 393.9L2874.9 396.6L2883.7 399L2892.6 401.2L2901.5 403.2L2910.4 405.1L2919.4 407L2928.3 409L2937.1 411.2L2945.1 413.4L2951.4 415.4L2957.7 417.6L2963.8 419.9L2970 422.3L2976.2 424.5L2982.5 426.7L2988.8 428.7L2995.1 430.7L3001.4 432.7L3007.7 434.6L3014 436.5L3020.3 438.5L3026.6 440.4L3033 442.3L3039.3 444.2L3045.6 446.1L3051.9 448L3058.3 449.9L3064.6 451.8L3070.9 453.7L3077.3 455.5L3081.5 456.7"/>
<path d="M1679.2 361.4L1680.7 362.2L1682.1 363L1683.6 363.9L1685 364.7L1686.5 365.5L1687.9 366.4L1689.4 367.2L1690.8 368L1692.3 368.8L1693.7 369.6L1695.2 370.5L1696.7 371.3L1698.2 372L1699.7 372.8L1701.2 373.6L1702.7 374.3L1704.2 375.1L1705.7 375.8L1707.3 376.5L1708.9 377.1L1710.5 377.7L1712.1 378.3L1713.7 378.9L1715.3 379.4L1717 379.8L1718.6 380.3L1720.3 380.7L1722 381.1L1723.6 381.4L1725.3 381.7L1727 382L1728.7 382.2L1730.5 382.4L1732.2 382.6L1733.9 382.8L1735.6 382.9L1737.4 383L1739.1 383.1L1740.8 383.2L1745.5 383.3L1756.1 383L1766.7 381.7L1777.2 380L1787.6 378L1798.1 375.9L1808.5 373.6L1818.8 371.2L1829.2 368.7L1839.5 366.1L1849.8 363.4L1860.1 360.5L1870.3 357.6L1880.5 354.5L1890.7 351.3L1900.8 348L1910.9 344.6L1920.8 340.8L1930.6 336.9L1940.4 332.9L1950.3 329.1L1960.2 325.4L1970.2 321.8L1980.3 318.3L1990.3 314.9L2000.5 311.6L2010.7 308.6L2020.9 305.8L2031.3 303.1L2041.6 300.7L2052 298.4L2062.5 296.2L2072.9 294.2L2083.4 292.3L2093.9 290.6L2104.5 288.9L2115 287.2L2125.5 285.5L2136 283.7L2146.5 281.8L2157.5 279.5L2168.7 277L2179.9 274.7L2191.2 272.4L2202.4 270.1L2213.7 267.8L2225 265.6L2236.3 263.4L2247.5 261.3L2258.9 259.3L2270.2 257.5L2281.6 255.9L2292.9 254.5L2304.3 253.2L2315.8 252.2L2327.2 251.4L2338.7 251.1L2350.2 251L2361.7 251.5L2373.1 252.4L2384.5 253.6L2395.9 254.8L2407.4 255.9L2418.8 256.9L2430.3 257.9L2441.7 258.9L2453.2 260L2464.6 261.2L2476 262.5L2483.6 263.5"/>
<path d="M2977 415L2983.4 417.2L2989.8 419.4L2996.2 421.5L3002.6 423.5L3009 425.6L3015.4 427.7L3021.8 429.8L3024 430.4"/>
<path d="M1710.6 350.2L1712.1 350.7L1713.5 351.3L1715 351.9L1716.4 352.4L1717.9 353L1719.3 353.6L1720.8 354.1L1722.2 354.7L1723.7 355.3L1725.1 355.8L1726.6 356.4L1728 356.9L1729.5 357.4L1731 358L1732.5 358.5L1733.9 359L1735.4 359.5L1736.9 359.9L1738.4 360.4L1739.9 360.8L1741.5 361.2L1743 361.6L1744.6 361.9L1746.1 362.2L1747.7 362.5L1749.2 362.8L1750.8 363L1752.4 363.2L1754 363.3L1755.6 363.5L1757.1 363.6L1758.7 363.7L1760.3 363.7L1761.9 363.7L1763.5 363.7L1765.1 363.7L1766.7 363.7L1768.3 363.7L1769.9 363.6L1774.3 363.5L1784.1 362.9L1793.8 361.4L1803.5 359.4L1813.1 357.3L1822.7 355.1L1832.2 352.8L1841.8 350.4L1851.4 347.9L1860.9 345.4L1870.4 342.9L1880 340.3L1889.5 337.6L1898.9 334.9L1908.4 332.2L1917.8 329.3L1927.3 326.4L1936.6 323.4L1945.9 320.3L1955.2 317.1L1964.5 314.1L1973.9 311.1L1983.2 308.1L1992.6 305.2L2002.1 302.4L2011.5 299.6L2021 297L2030.6 294.5L2040.1 292.2L2049.8 290L2059.4 288L2069.1 286L2078.8 284.2L2088.5 282.5L2098.2 280.9L2108 279.3L2117.7 277.6L2127.4 275.9L2137.1 274.1L2146.8 272.3L2157.5 269.8L2168.6 267L2179.8 264.5L2191.1 262.1L2202.4 259.7L2213.6 257.2L2224.9 254.8L2236.1 252.5L2247.4 250.2L2258.7 248L2270 245.9L2281.4 244L2292.7 242.3L2304.1 240.7L2315.5 239.4L2327 238.5L2338.5 238.1L2350 238.1L2361.5 238.9L2372.9 240.2L2384.3 241.7L2395.7 243.1L2407.2 244.3L2418.6 245.4L2430.1 246.4L2437.8 247.1"/>
<path d="M1742 339L1743.5 339.3L1744.9 339.6L1746.3 339.9L1747.8 340.2L1749.2 340.5L1750.7 340.8L1752.1 341.1L1753.6 341.4L1755 341.7L1756.5 342L1757.9 342.3L1759.4 342.5L1760.8 342.8L1762.3 343.1L1763.7 343.4L1765.2 343.6L1766.6 343.9L1768.1 344.1L1769.6 344.3L1771 344.5L1772.5 344.7L1774 344.9L1775.4 345L1776.9 345.1L1778.4 345.2L1779.9 345.3L1781.3 345.3L1782.8 345.3L1784.3 345.3L1785.8 345.2L1787.2 345.2L1788.7 345.1L1790.2 345L1791.7 344.8L1793.1 344.7L1794.6 344.6L1796.1 344.4L1797.5 344.3L1799 344.1L1803 343.7L1812 342.8L1820.9 341L1829.7 338.8L1838.5 336.6L1847.3 334.3L1856 331.9L1864.8 329.5L1873.5 327.2L1882.3 324.8L1891.1 322.4L1899.8 320L1908.6 317.7L1917.3 315.4L1926.1 313L1934.9 310.6L1943.6 308.3L1952.4 306L1961.1 303.6L1969.9 301.3L1978.7 299L1987.5 296.7L1996.2 294.4L2005 292.1L2013.8 289.8L2022.6 287.6L2031.4 285.4L2040.2 283.3L2049 281.2L2057.9 279.3L2066.8 277.6L2075.7 275.9L2084.6 274.3L2093.6 272.8L2102.5 271.2L2111.5 269.7L2120.4 268L2123.3 267.4" stroke-width="2.8"/>
<path d="M2176 255.2L2187.3 252.6L2198.5 250.1L2209.8 247.5L2221 244.9L2232.3 242.4L2243.5 239.9L2254.8 237.5L2266.1 235.1L2277.4 232.9L2288.7 230.8L2300.1 228.9" stroke-width="2.8"/>
<path d="M1495.4 424.6L1496.6 428.2L1497.7 431.9L1498.8 435.5L1500 439.2L1501.1 442.9L1502.3 446.5L1503.5 450.1L1504.7 453.7L1506.1 457.3L1507.5 460.9L1509 464.4L1510.6 467.9L1512.4 471.3L1514.3 474.7L1516.3 478L1518.4 481.2L1520.6 484.4L1522.9 487.5L1525.3 490.5L1527.8 493.4L1530.4 496.3L1533.1 499L1536 501.6L1538.9 504.1L1542 506.5L1545.1 508.7L1548.4 510.7L1551.8 512.7L1555.2 514.4L1558.7 516L1562.3 517.5L1566 518.8L1569.7 520L1573.4 521L1577.1 521.9L1580.9 522.7L1584.7 523.3L1588.6 523.8L1592.4 524.2L1599.9 524.6L1614.5 524.1L1629.1 522.6L1643.6 520.4L1658.1 517.7L1672.3 514.4L1686.5 510.5L1700.4 505.9L1713.9 500.3L1727.3 494.5L1741 489.2L1754.9 484.4L1768.8 479.8L1782.7 475.2L1796.7 470.6L1810.6 465.9L1824.5 461.1L1838.3 456.2L1852 451.2L1865.7 446.1L1879.5 441L1893.2 435.8L1906.9 430.5L1920.6 425.2L1934.2 419.9L1948 414.7L1961.7 409.6L1975.5 404.5L1989.2 399.4L2003 394.4L2017 389.9L2031.1 385.7L2045.2 381.8L2059.4 378.1L2073.6 374.6L2087.9 371.1L2102.2 367.7L2116.4 364.4L2130.7 361.1L2145.1 358.5L2157.3 356.7L2168.3 354.8L2179.3 353.3L2190.4 351.9L2201.4 350.5L2212.5 349.2L2223.5 347.9L2234.6 346.6L2245.7 345.5L2256.8 344.6L2267.9 343.8L2279 343.3L2290.2 342.9L2301.3 342.6L2312.4 342.4L2323.6 342.2L2334.7 342.1L2345.8 341.9L2357 341.8L2368.1 341.7L2379.3 341.7L2390.4 341.9L2401.5 342.1L2412.7 342.3L2423.8 342.5L2434.9 342.8L2446.1 343.1L2457.2 343.4L2468.3 343.9L2479.4 344.6L2490.5 345.4L2501.6 346.6L2512.6 348L2523.7 349.5L2534.7 351L2545.8 352.3L2556.8 353.7L2567.8 355.4L2578.8 357.4L2589.6 360L2598.6 362.7L2607.5 365.9L2616.2 369.3L2624.9 372.9L2633.6 376.4L2642.3 379.9L2651.1 383.3L2660 386.4L2668.9 389.5L2677.8 392.5L2686.7 395.5L2695.6 398.5L2704.5 401.4L2713.5 404.5L2722.3 407.5L2731.2 410.6L2740.1 413.6L2749 416.7L2757.9 419.7L2766.8 422.8L2775.7 425.8L2784.6 428.9L2793.5 432L2802.3 435.2L2811.1 438.5L2820 441.8L2828.7 445.1L2837.5 448.6L2846.1 452.3L2854.7 456L2863.3 459.9L2871.7 464.1L2880.1 468.2L2888.4 472.4L2896.8 476.6L2905.2 480.7L2913.6 484.6L2922.1 488.5L2930.8 492.1L2938.8 495.2L2945.4 497.6L2952 499.9L2958.6 502.2L2965.3 504.3L2972 506.2L2978.7 508L2985.5 509.7L2992.4 511.2L2999.2 512.6L3006.1 514L3012.9 515.3L3019.8 516.3L3026.8 517.2L3033.7 517.9L3040.7 518.6L3047.6 519.1L3054.6 519.7L3061.5 520.3L3068.5 521L3075.4 521.8L3082.3 522.8L3089.2 524L3096.1 525.3L3102.9 526.7L3109.7 528.5L3116.4 530.6L3122.9 533L3129.4 535.8L3135.7 538.8L3141.8 542.1L3147.8 545.7L3153.8 549.3L3159.8 552.9L3165.8 556.5L3171.8 560.1L3177.7 563.8L3183.7 567.4L3189.7 571.1L3195.6 574.8L3207.4 582.1L3221.9 591.6L3236.3 601.1L3250.8 610.6L3265.4 619.9L3280.1 629L3295.2 637.6L3310.4 645.9L3325.7 653.9L3341.2 661.6L3356.7 669.3L3372.2 676.9L3387.7 684.6L3403.4 692L3419.1 699.3L3434.8 706.5L3450.6 713.6L3466.4 720.8L3482 728.2L3497.4 736.1L3512.5 744.6L3527.4 753.4L3542.1 762.5L3557 771.4L3571.8 780.3L3586.6 789.2L3601.4 798.3L3616.1 807.4L3630.9 816.4L3645.9 825.1L3661 833.4L3676.6 841.1L3692.5 847.8L3708.9 853.4L3725.4 858.4L3742 863.3L3758.8 867.7L3775.6 871.9L3792.4 876.1L3803.6 878.8"/>
<path d="M1517.8 417.2L1519.1 420.3L1520.3 423.5L1521.5 426.6L1522.7 429.8L1523.9 432.9L1525.2 436L1526.4 439.2L1527.7 442.3L1529.1 445.4L1530.5 448.5L1532 451.5L1533.6 454.5L1535.4 457.5L1537.2 460.4L1539 463.2L1541 466L1543.1 468.8L1545.2 471.4L1547.4 474.1L1549.7 476.6L1552.1 479L1554.7 481.4L1557.2 483.6L1559.9 485.8L1562.7 487.8L1565.5 489.7L1568.5 491.5L1571.5 493.2L1574.6 494.7L1577.7 496.1L1580.9 497.4L1584.2 498.6L1587.5 499.6L1590.8 500.6L1594.1 501.4L1597.5 502.1L1600.9 502.7L1604.3 503.2L1607.7 503.6L1614.7 504.1L1629 503.9L1643.2 502.7L1657.3 500.7L1671.4 498.3L1685.3 495.4L1699.1 491.9L1712.8 487.9L1726.1 483L1739.4 477.9L1752.7 473.1L1766.3 468.6L1779.8 464.2L1793.4 459.7L1806.9 455.2L1820.4 450.5L1833.8 445.6L1847.1 440.4L1860.2 435.1L1873.3 429.6L1886.5 424.3L1899.7 419L1913 413.6L1926.2 408.3L1939.5 403.1L1952.8 398L1966.2 393.1L1979.6 388.3L1993.1 383.5L2006.6 379L2020.2 374.8L2033.9 370.9L2047.7 367.3L2061.6 364L2075.5 360.8L2089.4 357.8L2103.4 354.8L2117.3 351.9L2131.2 348.9L2145.3 346.6L2157.4 344.7L2168.4 342.9L2179.5 341.3L2190.6 339.8L2201.7 338.3L2212.9 336.8L2224 335.3L2235.1 334L2246.3 332.8L2257.4 331.8L2268.6 330.9L2279.8 330.4L2291 329.9L2302.2 329.6L2313.4 329.4L2324.7 329.3L2335.9 329.1L2347.1 328.9L2358.3 328.7L2369.5 328.5L2380.7 328.6L2391.9 328.9L2403.1 329.2L2414.4 329.6L2425.6 330L2436.7 330.4L2447.9 330.9L2459.1 331.5L2470.3 332.1L2481.5 333L2492.6 334L2503.8 335.4L2514.9 336.9L2526 338.5L2537.1 340.1L2548.2 341.7L2559.3 343.3L2570.3 345.2L2581.3 347.4L2592.2 350L2601.1 352.6L2610 355.6L2618.7 358.8L2627.4 362.1L2636.1 365.5L2644.8 368.8L2653.6 372.1L2662.4 375.1L2671.2 378.2L2680.1 381.2L2688.9 384.2L2697.7 387.2L2706.6 390.3L2715.4 393.3L2724.1 396.5L2732.9 399.6L2741.7 402.8L2750.5 406L2759.2 409.1L2768 412.3L2776.8 415.4L2785.6 418.6L2794.4 421.8L2803.1 425L2811.9 428.2L2820.6 431.4L2829.4 434.7L2838.1 438L2846.7 441.5L2855.4 445L2864 448.6L2872.5 452.3L2880.9 456L2889.4 459.6L2897.9 463.2L2906.5 466.7L2915 470.2L2923.7 473.5L2932.4 476.7L2940.3 479.6L2946.8 481.8L2953.2 484.1L2959.7 486.4L2966.1 488.5L2972.7 490.6L2979.2 492.4L2985.8 494.1L2992.5 495.7L2999.1 497.2L3005.8 498.7L3012.5 500L3019.2 501.2L3025.9 502.3L3032.7 503.2L3039.4 504.1L3046.2 504.9L3052.9 505.7L3059.7 506.6L3066.4 507.5L3073.1 508.5L3079.9 509.6L3086.6 510.9L3093.3 512.2L3099.9 513.7L3106.6 515.4L3113.1 517.4L3119.5 519.7L3125.8 522.4L3131.9 525.5L3137.8 528.9L3143.5 532.5L3149.3 536.2L3155.1 539.8L3160.9 543.3L3166.8 546.8L3172.7 550.3L3178.6 553.8L3184.4 557.3L3190.3 560.8L3202.2 568.1L3217.1 577.5L3231.9 587L3246.7 596.4L3261.6 605.7L3276.6 614.9L3291.9 623.6L3307.2 632.2L3322.7 640.6L3338.2 648.8L3353.8 656.9L3369.4 665L3385 672.9L3400.8 680.7L3416.8 688.1L3432.8 695.3L3448.9 702.4L3465 709.5L3480.9 717L3496.6 724.9L3512.1 733.2L3527.3 742L3542.4 751L3557.6 759.8L3572.8 768.7L3587.9 777.6L3603 786.7L3617.9 796L3632.9 805.2L3648.1 814.1L3663.5 822.6L3679.1 830.6L3695.1 837.8L3711.6 843.9L3728.3 849.2L3745.2 854.1L3762.2 858.7L3779.3 863L3796.3 867.2L3807.7 870"/>
<path d="M1540.2 409.8L1541.5 412.4L1542.8 415L1544.1 417.7L1545.4 420.3L1546.7 423L1548 425.6L1549.4 428.2L1550.7 430.8L1552.1 433.5L1553.6 436L1555.1 438.6L1556.6 441.1L1558.3 443.6L1560 446.1L1561.8 448.5L1563.6 450.8L1565.5 453.1L1567.5 455.4L1569.6 457.6L1571.7 459.7L1573.9 461.8L1576.2 463.7L1578.5 465.6L1580.9 467.4L1583.4 469.1L1586 470.8L1588.6 472.3L1591.2 473.7L1594 475L1596.7 476.2L1599.5 477.4L1602.4 478.4L1605.3 479.3L1608.2 480.2L1611.1 480.9L1614 481.6L1617 482.1L1620 482.6L1623 483L1629.6 483.6L1643.4 483.7L1657.2 482.7L1671 481.1L1684.7 478.9L1698.3 476.4L1711.8 473.3L1725.1 469.8L1738.3 465.7L1751.4 461.3L1764.5 457L1777.7 452.8L1790.9 448.6L1804 444.2L1817.2 439.7L1830.2 435L1843.1 430.1L1855.9 424.7L1868.4 419L1880.9 413.2L1893.6 407.5L1906.3 402.1L1919.1 396.7L1931.8 391.4L1944.7 386.2L1957.6 381.2L1970.7 376.5L1983.8 372.1L1996.9 367.7L2010.1 363.6L2023.4 359.7L2036.8 356.2L2050.3 352.8L2063.8 349.9L2077.4 347.1L2091 344.5L2104.6 341.9L2118.1 339.3L2131.7 336.8L2145.4 334.6L2157.4 332.8L2168.6 330.9L2179.7 329.2L2190.9 327.6L2202.1 326L2213.2 324.4L2224.4 322.8L2235.6 321.4L2246.8 320L2258.1 318.9L2269.3 318.1L2280.6 317.4L2291.9 317L2303.2 316.7L2314.5 316.4L2325.7 316.3L2337 316.1L2348.3 315.9L2359.6 315.6L2370.9 315.4L2382.2 315.5L2393.5 315.8L2404.8 316.3L2416 316.8L2427.3 317.4L2438.6 318L2449.8 318.7L2461.1 319.5L2472.3 320.4L2483.6 321.4L2494.8 322.7L2506 324.1L2517.1 325.7L2528.3 327.5L2539.4 329.2L2550.6 331L2561.7 332.9L2572.8 335L2583.8 337.3L2594.8 340L2603.7 342.5L2612.5 345.3L2621.3 348.3L2630 351.4L2638.7 354.6L2647.4 357.7L2656.1 360.8L2664.8 363.9L2673.6 366.9L2682.3 369.9L2691.1 372.9L2699.8 376L2708.6 379.1L2717.3 382.2L2725.9 385.4L2734.6 388.7L2743.3 392L2751.9 395.2L2760.6 398.5L2769.2 401.8L2777.9 405L2786.6 408.3L2795.3 411.5L2803.9 414.7L2812.6 417.8L2821.3 421L2830 424.2L2838.7 427.4L2847.4 430.7L2856 433.9L2864.7 437.2L2873.2 440.5L2881.8 443.7L2890.4 446.9L2899.1 449.9L2907.8 452.8L2916.4 455.7L2925.2 458.5L2933.9 461.3L2941.9 463.9L2948.2 466L2954.5 468.2L2960.8 470.5L2967 472.8L2973.3 474.9L2979.7 476.8L2986.1 478.6L2992.6 480.2L2999.1 481.8L3005.6 483.3L3012.1 484.8L3018.6 486.1L3025.1 487.3L3031.6 488.5L3038.2 489.6L3044.7 490.7L3051.3 491.8L3057.8 492.9L3064.3 494L3070.9 495.2L3077.4 496.5L3083.9 497.8L3090.5 499.2L3097 500.7L3103.4 502.3L3109.8 504.2L3116.1 506.5L3122.2 509.1L3128.1 512.1L3133.8 515.6L3139.2 519.4L3144.7 523.2L3150.3 526.7L3156.1 530.1L3161.9 533.4L3167.7 536.7L3173.4 540.1L3179.2 543.5L3184.9 546.9L3197 554.1L3212.2 563.5L3227.4 572.9L3242.6 582.2L3257.8 591.5L3273.1 600.7L3288.6 609.7L3304.1 618.5L3319.6 627.3L3335.2 636L3350.8 644.5L3366.5 653L3382.3 661.3L3398.3 669.3L3414.5 676.9L3430.8 684.1L3447.2 691.2L3463.5 698.3L3479.8 705.7L3495.8 713.6L3511.6 721.9L3527.2 730.6L3542.7 739.4L3558.2 748.2L3573.7 757.1L3589.2 766L3604.5 775.2L3619.7 784.5L3634.9 793.9L3650.3 803.1L3665.9 811.8L3681.6 820.1L3697.7 827.8L3714.3 834.3L3731.3 839.9L3748.4 845L3765.6 849.6L3782.9 854L3800.3 858.3L3811.8 861.1"/>
<path d="M1562.6 402.4L1564 404.5L1565.4 406.6L1566.8 408.7L1568.1 410.9L1569.5 413L1570.9 415.2L1572.3 417.3L1573.7 419.4L1575.1 421.5L1576.6 423.6L1578.1 425.7L1579.7 427.7L1581.3 429.7L1582.9 431.7L1584.6 433.7L1586.3 435.6L1588 437.5L1589.9 439.3L1591.7 441.1L1593.7 442.8L1595.6 444.5L1597.7 446.1L1599.8 447.6L1601.9 449.1L1604.1 450.5L1606.4 451.8L1608.6 453L1611 454.2L1613.3 455.3L1615.7 456.4L1618.1 457.3L1620.6 458.2L1623.1 459L1625.5 459.7L1628.1 460.4L1630.6 461L1633.2 461.5L1635.7 462L1638.3 462.4L1644.5 463.1L1657.9 463.6L1671.3 462.8L1684.7 461.4L1698 459.6L1711.2 457.3L1724.4 454.8L1737.5 451.8L1750.5 448.4L1763.4 444.7L1776.2 440.9L1789.1 437L1801.9 432.9L1814.7 428.7L1827.4 424.3L1840 419.6L1852.5 414.5L1864.7 408.9L1876.6 402.9L1888.6 396.7L1900.6 390.8L1912.9 385.3L1925.1 379.8L1937.5 374.5L1949.9 369.3L1962.5 364.5L1975.1 360L1987.9 355.8L2000.8 351.9L2013.7 348.1L2026.7 344.6L2039.7 341.4L2052.8 338.4L2066 335.7L2079.2 333.4L2092.5 331.2L2105.8 329L2119 326.8L2132.3 324.6L2145.6 322.6L2157.5 320.8L2168.7 318.9L2179.9 317.2L2191.2 315.5L2202.4 313.7L2213.6 312L2224.9 310.3L2236.1 308.7L2247.4 307.3L2258.7 306.1L2270 305.2L2281.4 304.5L2292.7 304L2304.1 303.7L2315.5 303.5L2326.8 303.3L2338.2 303.1L2349.6 302.8L2360.9 302.5L2372.3 302.3L2383.7 302.4L2395 302.8L2406.4 303.4L2417.7 304.1L2429.1 304.8L2440.4 305.7L2451.7 306.5L2463 307.5L2474.3 308.6L2485.6 309.8L2496.9 311.3L2508.2 312.8L2519.4 314.6L2530.6 316.4L2541.8 318.4L2553 320.4L2564.1 322.5L2575.3 324.8L2586.4 327.3L2597.4 330L2606.3 332.5L2615 335.1L2623.8 337.9L2632.5 340.7L2641.2 343.7L2649.9 346.6L2658.6 349.6L2667.3 352.6L2675.9 355.6L2684.6 358.6L2693.3 361.7L2701.9 364.7L2710.6 367.9L2719.2 371.1L2727.7 374.4L2736.3 377.8L2744.8 381.1L2753.4 384.5L2761.9 387.9L2770.4 391.3L2779 394.6L2787.6 397.9L2796.2 401.2L2804.8 404.4L2813.4 407.5L2822 410.6L2830.7 413.7L2839.3 416.8L2848 419.9L2856.7 422.9L2865.3 425.8L2874 428.7L2882.7 431.5L2891.5 434.1L2900.2 436.5L2909 438.9L2917.9 441.2L2926.7 443.5L2935.5 445.9L2943.5 448.2L2949.7 450.2L2955.8 452.4L2961.8 454.7L2967.9 457.1L2974 459.3L2980.2 461.2L2986.5 463L2992.7 464.7L2999 466.4L3005.3 468L3011.6 469.5L3017.9 471L3024.3 472.4L3030.6 473.8L3036.9 475.1L3043.3 476.5L3049.6 477.8L3056 479.2L3062.3 480.5L3068.6 481.9L3075 483.3L3081.3 484.7L3087.6 486.1L3094 487.6L3100.3 489.2L3106.5 491.1L3112.6 493.2L3118.6 495.7L3124.4 498.8L3129.8 502.4L3134.9 506.3L3140.2 510.1L3145.6 513.6L3151.2 516.9L3156.9 520.1L3162.6 523.2L3168.3 526.4L3173.9 529.6L3179.5 532.9L3191.8 540.1L3207.4 549.4L3222.9 558.7L3238.5 568.1L3254 577.4L3269.6 586.6L3285.3 595.7L3300.9 604.9L3316.6 614L3332.2 623.1L3347.9 632.2L3363.7 641L3379.6 649.7L3395.8 658L3412.2 665.7L3428.8 673L3445.4 680L3462.1 687.1L3478.7 694.5L3495 702.3L3511.2 710.6L3527.1 719.2L3543 727.9L3558.9 736.7L3574.7 745.5L3590.5 754.5L3606.1 763.6L3621.5 773.1L3636.9 782.7L3652.5 792L3668.3 800.9L3684.1 809.7L3700.3 817.8L3717 824.8L3734.2 830.7L3751.6 835.8L3769.1 840.5L3786.6 845L3804.2 849.4L3815.9 852.3"/>
<path d="M1414.6 478.4L1416.3 483.1L1418 487.7L1419.7 492.4L1421.4 497.1L1423.1 501.8L1424.9 506.4L1426.6 511.1L1428.4 515.7L1430.3 520.3L1432.1 524.9L1434.1 529.5L1436 534.1L1438 538.7L1440 543.3L1442 547.8L1444.1 552.3L1446.2 556.8L1448.4 561.3L1450.7 565.7L1453.1 570L1455.7 574.2L1458.5 578.3L1461.5 582.3L1464.6 586.2L1467.9 589.8L1471.4 593.4L1475.1 596.7L1478.9 599.9L1482.8 603L1486.8 605.9L1490.9 608.6L1495.1 611.3L1499.4 613.7L1503.8 616L1508.3 618.1L1512.9 620L1517.6 621.6L1522.3 623.1L1527.2 624.3L1535.9 625.8L1552.6 626.6L1569.3 625.5L1585.9 623L1602.3 619.2L1618.4 614.7L1634.3 609.4L1650 603.6L1665.6 597.4L1681.1 591L1696.6 584.6L1712.3 578.6L1728 572.7L1743.7 566.9L1759.4 561L1774.9 554.8L1790.3 548.2L1805.5 541.1L1820.5 533.6L1835.3 525.9L1850 518L1864.8 510.1L1879.3 501.7L1893.6 493.1L1908 484.7L1922.7 476.8L1938 469.8L1953.6 463.7L1969.4 458.1L1985.4 453L2001.4 448.2L2017.5 443.5L2033.7 439L2049.9 434.9L2066.3 431.3L2082.7 427.8L2099.1 424.4L2115.5 421L2132 417.8L2148.5 414.9L2161.1 412.7L2171.6 410.8L2182.2 409.2L2192.9 407.7L2203.5 406.3L2214.2 405L2224.9 403.7L2235.6 402.5L2246.2 401.4L2257 400.5L2267.7 399.9L2278.4 399.5L2289.2 399.2L2299.9 399L2310.7 399L2321.4 398.9L2332.1 399L2342.9 399L2353.6 399L2364.4 399.1L2375.1 399.3L2385.9 399.8L2396.6 400.4L2407.3 401L2418 401.7L2428.7 402.4L2439.5 403.2L2450.2 404L2460.9 404.9L2471.6 405.9L2482.3 407L2492.9 408.2L2503.6 409.6L2514.2 411.2L2524.9 412.7L2535.5 414.4L2546.1 416.2L2556.6 418.2L2567.1 420.7L2577.4 423.6L2586.1 426.6L2594.5 430.2L2602.8 434.1L2611 438.2L2619.1 442.4L2627.4 446.4L2635.8 450.1L2644.3 453.5L2652.9 456.8L2661.5 459.9L2670.1 463.1L2678.8 466.1L2687.4 469.1L2696.1 472.1L2704.8 475L2713.5 477.8L2722.3 480.5L2731.1 483L2740 485.4L2748.8 487.7L2757.7 490.1L2766.6 492.4L2775.4 494.9L2784.2 497.5L2792.9 500.3L2801.6 503.3L2810.2 506.6L2818.7 510L2827.1 513.7L2835.4 517.5L2843.7 521.4L2852 525.4L2860.1 529.6L2868.1 534.1L2875.9 539L2883.1 544.5L2889.8 550.7L2896.4 556.9L2903.6 562.6L2910.8 567.4L2917.5 571.5L2924.3 575.5L2931.1 579.4L2938 583.1L2945.1 586.6L2952.3 589.8L2959.6 592.7L2967.1 595.1L2974.7 597.1L2982.5 598.8L2990.2 600.1L2995.4 600.9"/>
<path d="M3029.5 604L3037.4 604.3L3045.3 604.3L3053.1 603.7L3060.9 602.5L3068.6 601.4L3076.5 601L3084.3 601.2L3092.2 601.7L3100 602.6L3107.8 604L3115.5 605.7L3123.1 607.6L3130.7 609.7L3138.2 612.1L3145.7 614.6L3153 617.5L3160.1 620.8L3167 624.7L3173.6 629.1L3179.9 633.8L3186.1 638.7L3192.2 643.6L3198.5 648.4L3209.4 656.6L3222.6 666.6L3235.8 676.6L3249.2 686.2L3263.2 695.2L3277.6 703.2L3292.4 710.7L3307.2 718L3321.9 725.6L3336.6 733.1L3351.4 740.7L3366.1 748.2L3380.8 755.8L3395.5 763.4L3410.1 771.1L3424.6 779L3439 787.2L3453.2 795.6L3467.2 804.4L3481.1 813.3L3495 822.4L3508.5 831.9L3522 841.4L3536.1 850.1L3550.4 858.4L3564.7 866.7L3579.2 874.8L3593.7 882.7L3608.3 890.3L3623.2 897.6L3638.2 904.5L3653.3 911.3L3668.5 917.9L3683.7 924.2L3699 930.5L3714.3 936.8L3729.6 943.1L3744.8 949.4L3759.9 956.1L3769.7 960.9"/>
<path d="M1429.2 466.8L1430.8 471.3L1432.3 475.9L1433.8 480.4L1435.4 485L1436.9 489.5L1438.5 494.1L1440.1 498.6L1441.7 503.1L1443.4 507.6L1445.2 512L1447 516.5L1448.9 520.9L1450.9 525.3L1452.8 529.7L1454.9 534L1457 538.3L1459.2 542.6L1461.4 546.8L1463.8 551L1466.3 555.1L1469 559L1471.8 562.9L1474.8 566.7L1477.9 570.2L1481.3 573.7L1484.8 576.9L1488.4 580L1492.2 583L1496.1 585.8L1500.1 588.4L1504.1 590.9L1508.3 593.2L1512.5 595.4L1516.9 597.4L1521.3 599.2L1525.8 600.8L1530.4 602.2L1535 603.4L1539.7 604.4L1548.2 605.7L1564.5 606L1580.8 604.7L1596.9 602.2L1612.9 598.7L1628.7 594.4L1644.2 589.3L1659.5 583.7L1674.6 577.5L1689.7 571L1704.8 564.8L1720.1 559L1735.4 553.4L1750.8 547.9L1766.1 542.3L1781.4 536.4L1796.5 530.3L1811.5 523.8L1826.3 517L1841 510L1855.6 502.9L1870.2 495.7L1884.6 488.2L1898.9 480.4L1913.3 472.7L1927.8 465.4L1942.8 458.9L1958 452.9L1973.4 447.4L1988.9 442.2L2004.5 437.4L2020.2 432.8L2035.9 428.3L2051.7 424.2L2067.7 420.5L2083.6 416.9L2099.6 413.4L2115.5 410L2131.5 406.6L2147.6 403.8L2160.1 401.7L2170.8 399.8L2181.5 398.2L2192.2 396.8L2202.9 395.5L2213.7 394.1L2224.4 392.8L2235.2 391.7L2246 390.6L2256.8 389.8L2267.6 389.1L2278.4 388.7L2289.2 388.4L2300 388.2L2310.8 388.1L2321.7 388L2332.5 388L2343.3 388L2354.1 388L2365 388L2375.8 388.2L2386.6 388.6L2397.4 389L2408.2 389.5L2419 390.1L2429.8 390.6L2440.6 391.2L2451.4 391.9L2462.2 392.6L2473 393.5L2483.8 394.5L2494.6 395.6L2505.3 397L2516 398.5L2526.7 400L2537.4 401.5L2548.1 403.2L2558.8 405.1L2569.3 407.4L2579.8 410.2L2588.5 413.2L2597.1 416.7L2605.5 420.5L2613.8 424.6L2622.1 428.6L2630.5 432.5L2639 436.2L2647.6 439.5L2656.3 442.8L2665 445.9L2673.7 449L2682.4 452L2691.2 455L2700 458L2708.7 460.9L2717.5 463.7L2726.4 466.5L2735.2 469.1L2744.1 471.6L2753 474.1L2761.9 476.6L2770.8 479.1L2779.7 481.7L2788.5 484.5L2797.3 487.4L2806 490.5L2814.6 493.8L2823.2 497.3L2831.7 501L2840.1 504.9L2848.4 508.8L2856.7 513L2864.9 517.3L2872.9 521.9L2880.8 526.7L2888.3 532L2895.4 537.8L2902.5 543.5L2910 548.8L2917.4 553.3L2924.1 557L2930.9 560.6L2937.7 564.1L2944.6 567.3L2951.6 570.4L2958.8 573.2L2966 575.8L2973.4 578L2980.9 579.8L2988.4 581.4L2996 582.7L3003.7 583.8L3011.3 584.7L3019 585.3L3026.7 585.9L3034.4 586.3L3042.1 586.7L3049.8 586.7L3057.5 586.4L3065.1 585.6L3072.7 585L3080.3 585L3088 585.5L3095.6 586.2L3103.2 587.3L3110.8 588.9L3118.2 590.9L3125.6 593L3132.9 595.3L3140.1 597.9L3147.3 600.7L3154.3 603.7L3161.2 607.1L3167.9 611L3174.4 615.2L3180.6 619.7L3186.8 624.3L3192.9 629L3199.1 633.5L3210.2 641.5L3223.6 651.4L3237.1 661.2L3250.7 670.8L3264.7 679.9L3279.1 688.2L3293.9 695.9L3308.8 703.4L3323.6 711L3338.5 718.5L3353.4 725.9L3368.3 733.4L3383.2 740.9L3398.1 748.4L3412.9 756L3427.7 763.6L3442.4 771.6L3456.9 779.7L3471.2 788.1L3485.4 796.8L3499.5 805.7L3513.2 815.1L3527 824.6L3541.2 833.3L3555.5 841.8L3569.9 850.2L3584.3 858.5L3598.8 866.7L3613.5 874.7L3628.3 882.2L3643.3 889.4L3658.5 896.3L3673.8 902.9L3689.3 908.9L3704.9 914.8L3720.4 920.7L3736 926.5L3751.6 932.3L3767 938.3L3777.2 942.6"/>
<path d="M1443.8 455.2L1445.2 459.6L1446.6 464L1447.9 468.4L1449.3 472.9L1450.7 477.3L1452.1 481.7L1453.6 486.1L1455.1 490.5L1456.6 494.8L1458.3 499.2L1460 503.5L1461.8 507.7L1463.7 511.9L1465.7 516.1L1467.8 520.3L1469.9 524.4L1472.1 528.4L1474.5 532.4L1476.9 536.3L1479.5 540.1L1482.2 543.9L1485 547.5L1488.1 551L1491.3 554.3L1494.6 557.5L1498.1 560.5L1501.7 563.4L1505.5 566L1509.3 568.5L1513.3 570.9L1517.3 573.1L1521.5 575.1L1525.6 577L1529.9 578.7L1534.2 580.3L1538.6 581.6L1543.1 582.8L1547.6 583.8L1552.2 584.6L1560.5 585.5L1576.4 585.5L1592.2 584L1607.9 581.5L1623.5 578.1L1638.9 574L1654.1 569.3L1669 563.7L1683.7 557.5L1698.2 551.1L1712.9 544.9L1727.8 539.4L1742.9 534.1L1757.9 528.8L1772.9 523.5L1787.9 518.1L1802.7 512.4L1817.5 506.5L1832.1 500.4L1846.7 494.2L1861.2 487.8L1875.7 481.4L1890 474.6L1904.2 467.6L1918.5 460.7L1932.9 454.1L1947.6 448L1962.5 442.2L1977.4 436.7L1992.4 431.4L2007.6 426.6L2022.8 422L2038.2 417.6L2053.6 413.5L2069 409.8L2084.5 406.1L2100 402.5L2115.5 399L2131.1 395.5L2146.7 392.7L2159.2 390.7L2169.9 388.8L2180.7 387.3L2191.5 385.9L2202.3 384.6L2213.2 383.3L2224 382L2234.8 380.9L2245.7 379.8L2256.6 379L2267.4 378.3L2278.3 377.8L2289.2 377.5L2300.1 377.3L2311 377.2L2321.9 377.1L2332.8 377L2343.8 377L2354.7 376.9L2365.6 377L2376.5 377.1L2387.4 377.3L2398.3 377.7L2409.2 378L2420 378.4L2430.9 378.8L2441.8 379.2L2452.7 379.7L2463.6 380.3L2474.5 381L2485.3 381.9L2496.2 383L2507 384.4L2517.8 385.9L2528.6 387.3L2539.4 388.7L2550.2 390.2L2561 391.9L2571.6 394.1L2582.2 396.8L2591 399.7L2599.7 403.2L2608.2 406.9L2616.7 410.9L2625.1 414.9L2633.6 418.7L2642.2 422.3L2650.9 425.6L2659.7 428.8L2668.5 431.9L2677.3 434.9L2686.1 437.9L2695 440.9L2703.8 443.8L2712.7 446.7L2721.5 449.6L2730.4 452.5L2739.4 455.2L2748.3 457.9L2757.2 460.5L2766.2 463.1L2775.1 465.8L2784 468.6L2792.8 471.5L2801.7 474.6L2810.4 477.7L2819.1 481.1L2827.7 484.6L2836.3 488.4L2844.8 492.3L2853.2 496.3L2861.4 500.6L2869.7 505L2877.8 509.6L2885.7 514.5L2893.5 519.5L2901 524.9L2908.5 530.2L2916.4 535L2924 539.1L2930.7 542.5L2937.5 545.7L2944.3 548.7L2951.2 551.5L2958.2 554.2L2965.3 556.7L2972.4 558.9L2979.7 560.9L2987 562.6L2994.4 564.1L3001.8 565.3L3009.3 566.3L3016.7 567.2L3024.2 567.8L3031.8 568.3L3039.3 568.7L3046.8 569L3054.3 569.2L3061.8 569.1L3069.3 568.8L3076.7 568.7L3084.2 569.1L3091.6 569.8L3099.1 570.7L3106.4 572.1L3113.7 573.8L3120.9 576L3128 578.4L3135.1 580.9L3142 583.7L3148.9 586.7L3155.7 589.9L3162.3 593.4L3168.8 597.2L3175.1 601.3L3181.3 605.6L3187.4 609.9L3193.6 614.3L3199.7 618.6L3211 626.4L3224.7 636.1L3238.3 645.9L3252.1 655.5L3266.2 664.6L3280.6 673.2L3295.4 681.1L3310.3 688.8L3325.3 696.4L3340.4 703.8L3355.5 711.2L3370.6 718.5L3385.6 726L3400.7 733.4L3415.7 740.8L3430.8 748.3L3445.7 755.9L3460.5 763.8L3475.2 771.9L3489.7 780.3L3504 789.1L3518 798.4L3531.9 807.7L3546.2 816.5L3560.6 825.1L3575 833.8L3589.5 842.3L3604 850.7L3618.6 859L3633.4 866.9L3648.4 874.4L3663.7 881.4L3679.2 887.9L3694.9 893.6L3710.8 899.1L3726.6 904.6L3742.5 909.9L3758.4 915.2L3774.2 920.5L3784.6 924.3"/>
<path d="M1458.4 443.6L1459.7 447.9L1460.9 452.2L1462.1 456.5L1463.3 460.8L1464.5 465L1465.8 469.3L1467.1 473.6L1468.4 477.8L1469.8 482.1L1471.3 486.3L1473 490.4L1474.7 494.5L1476.6 498.6L1478.6 502.6L1480.6 506.5L1482.8 510.4L1485.1 514.2L1487.5 518L1490 521.6L1492.7 525.2L1495.4 528.7L1498.3 532.1L1501.4 535.3L1504.6 538.4L1507.9 541.3L1511.4 544.1L1515 546.7L1518.8 549.1L1522.6 551.3L1526.5 553.4L1530.5 555.3L1534.6 557L1538.8 558.6L1542.9 560.1L1547.2 561.3L1551.5 562.4L1555.9 563.4L1560.2 564.1L1564.6 564.7L1572.7 565.3L1588.2 564.9L1603.6 563.2L1618.9 560.7L1634.1 557.6L1649.1 553.7L1664 549.2L1678.5 543.8L1692.7 537.5L1706.8 531.1L1721.1 525.1L1735.6 519.8L1750.3 514.7L1765 509.8L1779.7 504.8L1794.3 499.7L1808.9 494.5L1823.5 489.2L1838 483.8L1852.4 478.3L1866.8 472.7L1881.2 467L1895.4 461L1909.6 454.9L1923.8 448.8L1938 442.8L1952.4 437.1L1966.9 431.5L1981.4 425.9L1996 420.7L2010.7 415.8L2025.5 411.2L2040.4 406.9L2055.4 402.9L2070.4 399L2085.4 395.3L2100.5 391.6L2115.6 387.9L2130.6 384.4L2145.9 381.6L2158.2 379.7L2169 377.8L2179.9 376.3L2190.8 375L2201.7 373.7L2212.6 372.4L2223.5 371.2L2234.5 370.1L2245.4 369.1L2256.4 368.2L2267.3 367.5L2278.3 367L2289.3 366.7L2300.2 366.4L2311.2 366.3L2322.2 366.2L2333.2 366.1L2344.2 366L2355.2 365.9L2366.1 365.9L2377.1 366L2388.1 366.1L2399.1 366.3L2410.1 366.5L2421 366.8L2432 367L2443 367.2L2454 367.6L2464.9 368L2475.9 368.6L2486.9 369.4L2497.8 370.4L2508.7 371.8L2519.6 373.2L2530.5 374.6L2541.4 375.8L2552.3 377.2L2563.1 378.8L2573.9 380.8L2584.6 383.4L2593.5 386.3L2602.3 389.6L2611 393.4L2619.5 397.2L2628.1 401.1L2636.7 404.9L2645.4 408.4L2654.2 411.6L2663.1 414.8L2672 417.8L2680.9 420.8L2689.8 423.8L2698.8 426.8L2707.7 429.7L2716.6 432.6L2725.5 435.6L2734.5 438.5L2743.5 441.3L2752.4 444.1L2761.4 446.9L2770.4 449.7L2779.3 452.5L2788.3 455.5L2797.2 458.5L2806 461.7L2814.8 464.9L2823.6 468.3L2832.3 471.9L2840.9 475.7L2849.4 479.7L2857.9 483.8L2866.2 488.2L2874.4 492.8L2882.6 497.4L2890.7 502.2L2898.7 507.1L2906.6 512L2914.6 516.8L2922.8 521.3L2930.6 525L2937.3 527.9L2944.1 530.7L2950.9 533.3L2957.8 535.8L2964.7 538L2971.8 540.1L2978.8 542.1L2985.9 543.8L2993.1 545.3L3000.3 546.7L3007.6 547.9L3014.9 548.9L3022.2 549.6L3029.5 550.2L3036.8 550.7L3044.2 551L3051.5 551.3L3058.8 551.6L3066.2 551.7L3073.5 551.9L3080.7 552.3L3088 553.1L3095.3 554.1L3102.5 555.2L3109.6 556.8L3116.7 558.8L3123.6 561.1L3130.5 563.7L3137.3 566.5L3143.9 569.5L3150.5 572.8L3157 576.2L3163.4 579.7L3169.7 583.5L3175.9 587.4L3182.1 591.4L3188.1 595.5L3194.2 599.6L3200.4 603.7L3211.8 611.2L3225.7 620.9L3239.6 630.5L3253.5 640.1L3267.7 649.4L3282.1 658.1L3296.9 666.3L3311.9 674.2L3327.1 681.7L3342.3 689.1L3357.5 696.4L3372.8 703.7L3388 711.1L3403.3 718.4L3418.5 725.7L3433.8 733L3449 740.3L3464.1 747.9L3479.1 755.7L3493.9 763.9L3508.5 772.5L3522.7 781.6L3536.9 790.9L3551.3 799.7L3565.7 808.5L3580.2 817.3L3594.6 826.1L3609.2 834.8L3623.8 843.3L3638.5 851.5L3653.5 859.3L3668.8 866.5L3684.5 872.8L3700.5 878.3L3716.6 883.4L3732.7 888.5L3748.9 893.3L3765.1 898L3781.3 902.7L3792 906"/>
<path d="M1473 432L1474.1 436.1L1475.2 440.3L1476.2 444.5L1477.2 448.6L1478.3 452.8L1479.4 456.9L1480.6 461.1L1481.7 465.2L1483 469.3L1484.4 473.4L1485.9 477.4L1487.6 481.3L1489.5 485.2L1491.4 489L1493.5 492.7L1495.7 496.4L1498.1 500L1500.5 503.5L1503.1 507L1505.8 510.3L1508.7 513.5L1511.6 516.6L1514.7 519.6L1517.9 522.5L1521.2 525.2L1524.7 527.7L1528.3 530L1532 532.1L1535.9 534.1L1539.8 535.9L1543.7 537.5L1547.8 539L1551.9 540.3L1556 541.4L1560.2 542.4L1564.4 543.3L1568.6 543.9L1572.9 544.5L1577.1 544.8L1585 545.1L1600.1 544.3L1615.1 542.5L1629.9 540L1644.7 537L1659.4 533.4L1673.8 529.1L1688 523.9L1701.7 517.6L1715.3 511.1L1729.2 505.3L1743.4 500.2L1757.7 495.4L1772.1 490.7L1786.4 486.1L1800.8 481.4L1815.1 476.7L1829.5 472L1843.8 467.3L1858.1 462.5L1872.4 457.7L1886.6 452.6L1900.8 447.4L1914.9 442.1L1929 436.8L1943.1 431.4L1957.3 426.1L1971.3 420.7L1985.4 415.2L1999.5 409.9L2013.8 404.9L2028.2 400.5L2042.7 396.2L2057.2 392.2L2071.8 388.3L2086.3 384.4L2101 380.6L2115.6 376.9L2130.2 373.2" stroke-width="2.8"/>
<path d="M2182.8 364.9L2193.8 363.6L2204.8 362.4L2215.8 361.2L2226.8 360L2237.8 358.9L2248.8 358L2259.8 357.1L2270.9 356.5L2281.9 356.1L2293 355.7L2304 355.5L2315.1 355.3L2326.2 355.2L2337.2 355.1L2348.3 354.9L2359.4 354.8L2370.4 354.8L2381.5 354.9L2392.5 354.9L2403.6 355L2414.7 355.1L2425.7 355.1L2436.8 355.2L2447.9 355.3L2458.9 355.5L2470 355.8L2481 356.3L2492.1 357.1L2503.1 358.3L2514.1 359.6L2525 361L2536 362.2L2547 363.4L2558 364.6L2569 366.2L2579.8 368.3L2590 370.9L2599 373.9L2607.9 377.3L2616.6 381L2625.3 384.8L2634 388.6L2642.7 392.2L2651.6 395.6L2660.5 398.7L2669.5 401.8L2678.5 404.8L2687.5 407.7L2696.5 410.7L2705.5 413.6L2714.5 416.6L2723.6 419.5L2732.6 422.5L2741.6 425.4L2750.6 428.4L2759.6 431.3L2768.6 434.2L2777.6 437.2L2786.6 440.3L2795.5 443.4L2804.4 446.6L2813.3 449.9L2822.2 453.3L2831 456.8L2839.7 460.5L2848.4 464.4L2856.9 468.5L2865.4 472.8L2873.7 477.4L2881.9 482.1L2890.1 486.8L2898.4 491.5L2906.6 496.1L2915 500.6L2923.5 504.8L2932.1 508.7L2939.5 511.7L2946.2 514.2L2953 516.5L2959.8 518.6L2966.7 520.6L2973.6 522.5L2980.6 524.1L2987.6 525.7L2994.6 527.1L3001.6 528.5L3008.7 529.8L3015.7 530.9L3022.9 531.7L3030 532.3L3037.1 532.8L3044.3 533.2L3051.4 533.5L3058.6 533.8L3065.8 534.1L3072.9 534.6L3080 535.3L3087.1 536.3L3094.2 537.5L3101.2 538.8L3108.2 540.3L3115.1 542.2L3121.9 544.5L3128.6 547.2L3135.1 550.1L3141.6 553.2L3147.9 556.5L3154.2 560L3160.4 563.6L3166.5 567.2L3172.6 571L3178.7 574.8L3184.8 578.6L3190.9 582.4L3196.9 586.2L3203 590L3217.3 599.3L3231.4 608.8L3245.5 618.4L3259.7 627.9L3274 637.2L3288.6 646L3303.4 654.3L3318.6 662.1L3333.9 669.6L3349.3 676.9L3364.8 684.1L3380.2 691.3L3395.6 698.6L3411 705.8L3426.5 712.9L3442 720L3457.5 727.1L3472.9 734.4L3488.1 742.1L3503.1 750.2L3517.8 758.8L3532.2 767.9L3546.6 777L3561.2 785.9L3575.7 794.8L3590.2 803.8L3604.6 812.8L3619.2 821.7L3633.8 830.5L3648.6 838.9L3663.7 846.8L3679.3 853.8L3695.3 859.6L3711.6 864.5L3728 869.3L3744.4 873.9L3760.9 878.2L3777.4 882.3L3794 886.3L3799.5 887.6" stroke-width="2.8"/>
<path d="M1400 490L1401.9 494.8L1403.7 499.6L1405.6 504.4L1407.5 509.2L1409.3 514L1411.2 518.8L1413.1 523.6L1415.1 528.4L1417.1 533.1L1419.1 537.8L1421.1 542.6L1423.1 547.3L1425.1 552.1L1427.1 556.8L1429.1 561.6L1431.1 566.3L1433.2 571L1435.4 575.7L1437.6 580.3L1440 584.9L1442.5 589.4L1445.2 593.8L1448.2 598L1451.3 602.1L1452.4 603.4" stroke-width="2.8"/>
<path d="M1516.3 644.6L1529.3 646.7L1546.5 647L1563.6 645.6L1580.5 642.5L1597.2 638.3L1613.6 633.3L1629.8 627.6L1645.9 621.5L1661.9 615.3L1677.8 608.8L1693.8 602.3L1709.8 596.1L1725.9 590.1L1741.9 583.9L1757.9 577.5L1773.7 570.8L1789.3 563.5L1804.6 555.7L1819.6 547.4L1834.5 538.8L1849.4 530.2L1864.2 521.5L1878.7 512.2L1893 502.7L1902.7 496.6" stroke-width="2.8"/>
<path d="M1943.8 476.4L1960 470.6L1976.3 465.4L1992.8 460.6L2009.4 455.9L2025.9 451.2L2042.5 446.8L2059.3 443.2L2076.2 439.8L2093 436.4L2109.9 433.1L2126.8 430L2138.1 427.9" stroke-width="2.8"/>
<path d="M2190.1 419.1L2200.6 417.7L2211.2 416.3L2221.8 414.9L2232.4 413.7L2243 412.5L2253.6 411.6L2264.3 410.9L2274.9 410.4L2285.6 410.1L2296.2 409.9L2306.9 409.9L2317.6 409.9L2328.2 409.9L2338.9 410L2349.6 410L2360.2 410.1L2370.9 410.3L2381.6 410.8L2392.2 411.4L2402.9 412.2L2413.5 413.1L2424.1 414L2434.7 414.9L2445.4 415.9L2456 416.9L2466.6 418L2477.2 419.1L2487.8 420.4L2498.4 421.8L2508.9 423.3L2519.5 424.9L2530 426.6L2540.5 428.5L2550.9 430.6L2561.3 433.1L2571.6 436L2580.7 439L2589.1 442.4L2597.4 446.3L2605.5 450.5L2613.5 454.7L2621.6 458.9L2629.8 462.8L2638.2 466.3L2646.7 469.6L2655.1 472.9L2663.7 476.1L2672.2 479.2L2680.8 482.3L2689.4 485.2L2698 488.1L2706.7 490.9L2715.3 493.6L2724.1 496.1L2732.9 498.4L2741.7 500.6L2750.5 502.8L2759.4 505L2768.2 507.2L2777 509.6L2785.7 512.2L2794.3 515.1L2802.9 518.2L2811.3 521.6L2819.7 525.1L2828 528.8L2836.3 532.6L2844.5 536.4L2852.7 540.4L2860.7 544.8L2868.4 549.5L2875.7 555L2882.2 561.4L2888.3 568.1L2894.8 574.4L2902 580L2908.7 584.5L2915.4 589L2922.2 593.4L2929.1 597.6L2933.8 600.2" stroke-width="2.8"/>
<path d="M3030 621.9L3038.1 622L3046.1 621.4L3054.1 620L3062 618.2L3069.9 617.1L3078 616.9L3086.1 617L3094.2 617.6L3102.2 618.6L3110.1 620L3118 621.7L3125.9 623.5L3133.7 625.5L3141.5 627.8L3149.1 630.4L3156.6 633.4L3163.8 637.1L3170.6 641.4L3177.1 646.3L3183.3 651.4L3189.5 656.6L3195.7 661.7L3204.4 668.3L3217.3 678.5L3230.2 688.6L3243.3 698.4L3247.8 701.6" stroke-width="2.8"/>
<path d="M3300.7 730.2L3315.3 737.7L3329.9 745.3L3344.5 752.9L3359 760.5L3373.5 768.1L3388 775.8L3402.5 783.6L3416.8 791.6L3431 799.9L3445 808.6L3458.7 817.5L3472.4 826.7L3485.9 835.9L3499.4 845.3L3512.5 855.2L3526.4 864L3540.5 872.3L3554.8 880.5L3569.2 888.4L3583.6 896.2L3598.3 903.6L3613.1 910.7L3628.1 917.3L3643.2 923.9L3658.1 930.7L3673.1 937.3L3688.2 944L3703.2 950.7L3718.2 957.4L3733.1 964.2L3747.9 971.3L3762.3 979.3" stroke-width="2.8"/>
<path d="M1585 395L1586.5 396.6L1588 398.2L1589.4 399.8L1590.9 401.5L1592.3 403.1L1593.8 404.7L1595.2 406.3L1596.7 408L1598.2 409.6L1599.7 411.2L1601.2 412.7L1602.7 414.3L1604.2 415.9L1605.7 417.4L1607.3 418.9L1608.9 420.4L1610.5 421.9L1612.2 423.3L1613.9 424.7L1615.6 426L1617.4 427.3L1619.2 428.4L1621.1 429.6L1623 430.7L1624.8 431.8L1626.8 432.8L1628.7 433.8L1630.7 434.7L1632.7 435.6L1634.7 436.5L1636.7 437.3L1638.8 438L1640.9 438.7L1642.9 439.3L1645 439.9L1647.2 440.4L1649.3 440.9L1651.4 441.4L1653.6 441.7L1659.3 442.6L1672.3 443.4L1685.4 442.9L1698.4 441.8L1711.3 440.2L1724.2 438.3L1737.1 436.2L1749.9 433.8L1762.7 431.1L1775.4 428.2L1788 424.9L1800.5 421.2L1813 417.3L1825.4 413.2L1837.6 408.8L1849.8 404.1L1861.8 399L1873.5 393.1L1884.8 386.8L1896.2 380.3L1907.7 374.1L1919.4 368.5L1931.2 362.9L1943.1 357.6L1955.1 352.5L1967.3 347.7L1979.6 343.5L1992.1 339.6L2004.6 336L2017.2 332.7L2029.9 329.6L2042.6 326.6L2055.4 323.9L2068.2 321.6L2081.1 319.6L2094 317.8L2106.9 316.1L2119.9 314.3L2124.2 313.7" stroke-width="2.8"/>
<path d="M2176.4 305.7L2187.7 303.9L2199 302.1L2210.2 300.2L2221.5 298.4L2232.9 296.6L2244.2 295L2255.5 293.7L2266.9 292.6L2278.4 291.8L2289.8 291.2L2301.2 290.8L2312.7 290.5L2324.1 290.3L2335.6 290.1L2347 289.9L2358.4 289.5L2369.9 289.2L2381.3 289.2L2392.8 289.6L2404.2 290.3L2415.6 291.1L2427 292L2438.4 292.9L2449.8 294L2461.2 295.1L2472.6 296.4L2483.9 297.8L2495.3 299.3L2506.6 301L2517.9 302.8L2529.2 304.7L2540.4 306.8L2551.7 309L2562.9 311.3L2574 313.7L2585.2 316.3L2596.3 319.1L2605.9 321.6L2614.7 324L2623.4 326.5L2632.1 329.1L2640.8 331.8L2649.5 334.6L2658.2 337.4L2666.8 340.4L2675.4 343.3L2684 346.3L2692.6 349.4L2701.2 352.4L2709.8 355.6L2718.3 358.9L2726.7 362.3L2735.2 365.7L2743.6 369.1L2752 372.6L2760.4 376.1L2768.8 379.6L2777.3 383.1L2785.7 386.5L2794.2 389.8L2802.7 393L2811.3 396.2L2819.9 399.2L2828.5 402.3L2837.1 405.2L2845.7 408.1L2854.4 410.9L2863.1 413.6L2871.9 416.1L2880.7 418.5L2889.5 420.7L2898.4 422.6L2907.4 424.4L2916.3 426.1L2925.2 427.9L2934.1 429.8L2943 432L2949.1 433.8L2955.1 435.8L2961 438.1L2966.8 440.5L2972.7 442.9L2978.7 445L2984.7 446.9L2990.8 448.7L2996.9 450.4L3003 452.1L3009.1 453.7L3015.3 455.3L3021.4 456.9L3027.5 458.5L3033.7 460.1L3039.8 461.7L3045.9 463.3L3052.1 464.9L3058.2 466.5L3064.3 468.1L3070.5 469.7L3076.6 471.1L3082.8 472.6L3088.9 474.1L3095.1 475.6L3101.2 477.3L3107.2 479.2L3111.2 480.7" stroke-width="2.8"/>
<path d="M3113.1 481.5L3115.1 482.4"/>
<path d="M3152 506.7L3157.6 509.7L3163.1 512.7L3168.7 515.8L3174.2 519L3186.6 526.1L3202.5 535.4L3218.4 544.6L3234.3 553.9L3250.2 563.2L3266.1 572.5L3282 581.8L3297.8 591.2L3313.5 600.7L3329.2 610.3L3345 619.8L3360.9 629.1L3376.9 638.1L3393.2 646.6L3409.8 654.5L3426.7 661.8L3443.7 668.9L3460.7 675.9L3477.6 683.2L3494.2 691.1L3510.7 699.3L3527.1 707.8L3543.3 716.4L3559.5 725.1L3575.7 733.9L3591.7 742.9L3607.7 752.1L3623.3 761.7L3638.9 771.5L3654.7 781L3670.7 790.1L3686.7 799.2L3703 807.7L3719.8 815.2L3737.1 821.4L3754.7 826.7L3772.5 831.5L3790.3 836.1L3808.2 840.5L3820.1 843.5"/>
<path d="M1935 270C1944.2 268.7 1973 264.2 1990 262C2007 259.8 2029.2 257.8 2037 257"/>
<path d="M2072 251C2080 249.3 2103.7 244.1 2120 241C2136.3 237.9 2161.7 233.9 2170 232.5"/>
<path d="M2075 261C2087.5 258.5 2123.3 251 2150 246C2176.7 241 2220.8 233.5 2235 231"/>
<path d="M1782 326C1791.7 324.7 1820.3 322 1840 318C1859.7 314 1880 307.2 1900 302C1920 296.8 1941.3 291.7 1960 287C1978.7 282.3 2003.3 276.2 2012 274"/>
<path d="M2300 245C2305.8 244.2 2324.7 241.8 2335 240C2345.3 238.2 2357.5 235 2362 234"/>
<path d="M2295.9 486.4L2305.5 486.3L2315.1 486.2L2324.7 486.1L2334.3 486.1L2343.9 486L2353.5 485.8L2363 485.6L2372.6 485.3L2382.2 485L2391.8 484.7L2401.4 484.6L2411 484.6L2420.6 484.7L2430.2 485.1L2439.7 485.8L2449.3 486.8L2458.8 488L2468.3 489.5L2477.8 491L2487.2 492.7L2496.6 494.5L2506 496.5L2515.4 498.5L2524.8 500.6L2534.1 502.8L2543.4 505.1L2552.6 507.8L2561.3 511.8L2569.3 517.1L2577.9 521.4L2586.6 525.6L2595.2 529.9L2603.9 534.1L2612.7 538.1L2621.5 542L2630.6 545.4L2639.7 548.5L2649 551.1L2658.4 553.3L2667.8 555.3L2677.3 557.3L2686.7 559.3L2696.1 561.4L2705.5 563.8L2714.8 566.4L2724 569.2L2733.2 572.1L2742.4 575.1L2751.6 578.1L2760.7 581.3L2769.8 584.5L2778.9 587.8L2787.9 591.1L2797 594.3L2806.1 597.6L2815.2 600.8L2824.3 604.2L2833.2 607.7L2842.1 611.5L2850.9 615.5L2859.6 619.8L2867.9 624.6L2876.1 629.7L2884 635.2L2891.9 640.8L2899.6 646.6L2907.4 652.3L2915.3 657.9L2923.3 663.3L2930.2 667.6L2936.5 671.6L2942.8 675.6L2949.2 679.4L2955.9 682.8L2962.8 685.7L2969.8 688.2L2977 690.2L2984.3 692L2991.6 693.4L2998.9 694.7L3006.3 695.9L3013.7 696.9L3021.1 698L3028.5 699L3035.9 700L3043.3 701L3050.7 702.1L3058 703.3L3065.4 704.6L3072.7 706.2L3079.9 708.1L3087 710.4L3094 713L3100.7 716.2L3107.3 719.8L3113.8 723.5L3120.3 727.1L3127 730.5L3133.7 733.8L3140.3 737.1L3147 740.5L3153.7 743.9L3160.3 747.2L3167 750.6L3173.6 754.1L3180.2 757.5L3186.8 761L3193.4 764.4L3200 768L3212.5 776.6L3225.5 784.7L3238.9 791.9L3252.5 798.9L3266 805.9L3279.6 812.9L3293.1 819.9L3306.5 827.1L3319.9 834.5L3333.1 842.2L3346.1 850.1L3359 858.2L3371.9 866.5L3384.7 874.7L3397.6 882.9L3410.5 891.1L3423.5 899.1L3436.6 906.8L3450 914.1L3463.5 921.2L3477.2 927.9L3491 934.4L3504.9 940.8L3518.7 947.1L3532.6 953.4L3546.7 959.5L3560.8 965.3L3574.9 971.1L3588.9 977L3602.8 983.3L3616.5 990.1L3630 997.1L3643.5 1004.2L3657.1 1011.3L3670.7 1018L3684.7 1024.2L3698.8 1029.9L3713.1 1035.3L3727.5 1040.5L3732.2 1042.2" stroke-width="2.8"/>
<path d="M2268.7 471.7L2278.3 471.4L2287.9 471.3L2297.5 471.1L2307.1 471L2316.8 470.9L2326.4 470.9L2336 470.8L2345.6 470.8L2355.3 470.6L2364.9 470.4L2374.5 470.2L2384.1 470.1L2393.7 470L2403.4 470L2413 470.2L2422.6 470.6L2432.2 471.1L2441.8 471.9L2451.4 472.9L2460.9 474.2L2470.4 475.6L2479.9 477.1L2489.4 478.7L2498.9 480.4L2508.3 482.3L2517.8 484.2L2527.2 486.2L2536.5 488.3L2545.9 490.6L2555.1 493.4L2563.6 497.6L2572.1 502.1L2580.8 506L2589.4 510.1L2598 514.3L2606.6 518.5L2615.2 522.5L2623.9 526.3L2632.8 529.8L2641.9 532.8L2651 535.4L2660.3 537.8L2669.5 540L2678.8 542.2L2688 544.5L2697.3 546.8L2706.5 549.3L2715.6 552L2724.8 554.8L2733.9 557.7L2743 560.5L2752 563.5L2761.1 566.4L2770.1 569.5L2779.2 572.5L2788.2 575.7L2797.2 578.8L2806.2 581.9L2815.2 585.2L2824.1 588.6L2832.9 592.2L2841.7 596L2850.3 600L2858.8 604.4L2867.1 609.1L2875.1 614.2L2883 619.6L2890.7 625.2L2898.2 631.1L2905.7 637L2913.3 642.7L2921.2 648L2927.6 652.1L2934 656.2L2940.4 660.2L2947 664L2953.8 667.4L2960.8 670.3L2967.9 672.8L2975.2 674.9L2982.6 676.7L2990 678.2L2997.5 679.5L3005 680.6L3012.5 681.7L3020 682.7L3027.5 683.6L3035.1 684.5L3042.6 685.5L3050.1 686.4L3057.6 687.3L3065.1 688.1L3072.5 689.1L3079.8 690.5L3087.1 692.3L3094.2 694.6L3101.2 697.4L3108 700.5L3114.8 703.8L3121.6 706.9L3128.5 710L3135.4 713L3142.3 716.1L3149.2 719.4L3156 722.7L3162.8 726.1L3169.5 729.7L3176.1 733.4L3182.6 737.2L3189.1 741L3195.6 744.8L3204.4 750.1L3216.8 759.3L3230 767.4L3243.4 775.1L3257 782.5L3270.7 789.7L3284.5 796.8L3298.2 803.9L3311.9 811.2L3325.4 818.7L3338.9 826.4L3352.1 834.3L3365.4 842.4L3378.5 850.5L3391.7 858.7L3404.8 866.9L3418 875L3431.3 883.1L3444.6 890.9L3458.1 898.5L3471.7 905.9L3485.3 913.2L3499 920.3L3512.9 927.1L3526.8 933.9L3540.8 940.5L3554.9 946.8L3569.1 953L3583.3 959.1L3597.5 965.4L3611.5 971.9L3625.4 978.7L3639.2 985.7L3653 992.8L3666.9 999.7L3680.9 1006.3L3695.1 1012.4L3709.5 1018.2L3723.9 1023.9L3738.2 1029.6"/>
<path d="M2241.3 457.8L2250.9 457.2L2260.6 456.8L2270.2 456.4L2279.9 456.1L2289.5 455.9L2299.2 455.8L2308.8 455.7L2318.5 455.6L2328.1 455.6L2337.8 455.6L2347.4 455.5L2357.1 455.4L2366.7 455.3L2376.4 455.2L2386 455.2L2395.7 455.3L2405.3 455.6L2415 456L2424.6 456.5L2434.2 457.2L2443.9 458L2453.5 459.1L2463 460.3L2472.6 461.6L2482.1 463L2491.7 464.6L2501.2 466.2L2510.7 468L2520.1 469.8L2529.6 471.7L2539 473.7L2548.4 476L2557.6 478.9L2566.2 483L2575 486.8L2583.6 490.5L2592.2 494.5L2600.6 498.7L2609.1 502.8L2617.6 506.9L2626.2 510.7L2635 514.1L2643.9 517.1L2653 519.8L2662 522.4L2671.1 524.9L2680.2 527.3L2689.3 529.7L2698.3 532.3L2707.4 534.9L2716.4 537.7L2725.4 540.4L2734.4 543.2L2743.4 545.9L2752.5 548.7L2761.5 551.5L2770.4 554.3L2779.4 557.2L2788.4 560.1L2797.3 563.2L2806.2 566.3L2815 569.6L2823.8 573L2832.5 576.6L2841.1 580.5L2849.6 584.5L2858 588.9L2866.2 593.5L2874.2 598.5L2881.9 603.9L2889.4 609.6L2896.6 615.7L2903.7 621.8L2911.2 627.5L2918.6 632.4L2925 636.6L2929.3 639.4"/>
<path d="M2954 653L2961.2 655.9L2968.5 658.3L2975.9 660.4L2983.4 662.1L2991 663.5L2998.6 664.7L3006.3 665.8L3013.9 666.8L3021.6 667.7L3029.2 668.5L3036.9 669.3L3044.5 670.1L3052.2 670.6L3059.8 671L3067.3 671.3L3074.8 671.8L3082.3 673L3089.8 674.6L3097 676.7L3104.2 679.2L3111.3 681.9L3118.3 684.7L3125.5 687.4L3132.6 690.2L3139.8 693.1L3146.8 696.1L3153.8 699.2L3160.8 702.7L3167.5 706.3L3174.1 710.3L3180.6 714.4L3187.1 718.5L3193.5 722.7L3200 726.8L3212.7 736L3225.6 744.9L3238.9 753.2L3252.4 761.2L3266.2 768.8L3280.2 776L3294.2 783.1L3308.1 790.3L3321.9 797.8L3335.7 805.5L3349.3 813.2L3362.9 821.2L3376.4 829.2L3389.9 837.2L3403.4 845.3L3416.8 853.5L3430.2 861.7L3443.6 869.9L3457.1 877.9L3470.7 885.8L3484.3 893.6L3497.8 901.5L3511.6 909L3525.6 916.1L3539.6 923.2L3553.7 930L3568 936.6L3582.3 943.1L3596.6 949.6L3610.9 956.1L3625.2 962.7L3639.3 969.6L3653.4 976.6L3667.5 983.5L3681.7 990.2L3696.1 996.6L3710.6 1002.7L3725.1 1008.7L3739.5 1014.9L3744.2 1017"/>
<path d="M2194.6 447L2204.2 446.1L2213.9 445.2L2223.5 444.3L2233.1 443.5L2242.8 442.7L2252.4 442L2262.1 441.5L2271.8 441.1L2281.5 440.8L2291.2 440.6L2300.8 440.5L2310.5 440.4L2320.2 440.4L2329.9 440.4L2339.6 440.4L2349.3 440.3L2358.9 440.3L2368.6 440.2L2378.3 440.3L2388 440.5L2397.7 440.8L2407.3 441.3L2417 441.8L2426.7 442.4L2436.3 443.2L2446 444.1L2455.6 445.2L2465.2 446.4L2474.8 447.6L2484.4 448.9L2494 450.4L2503.5 451.9L2513 453.6L2522.6 455.3L2532.1 457.1L2541.6 459.1L2551 461.4L2560.1 464.3L2569 467.9L2577.9 471.3L2586.5 475L2594.9 478.9L2603.2 483.1L2611.6 487.3L2619.9 491.3L2628.5 495.1L2637.1 498.5L2645.9 501.5L2654.7 504.4L2663.6 507.2L2672.5 509.8L2681.4 512.5L2690.4 515.1L2699.3 517.8L2708.2 520.6L2717.1 523.3L2726 526L2734.9 528.6L2743.9 531.2L2752.8 533.8L2761.8 536.3L2770.7 539L2779.6 541.7L2788.5 544.5L2797.3 547.5L2806.1 550.6L2814.8 553.9L2823.4 557.4L2832 561.1L2840.5 565L2848.9 569L2857.2 573.3L2865.3 577.9L2873.1 582.8L2880.8 588.2L2887.9 594.1L2894.7 600.4L2901.6 606.6L2909 612.2L2916 616.9L2922.5 621.2L2929.1 625.4"/>
<path d="M3028.5 653L3036.3 653.7L3044.1 654.2L3051.9 654.3L3059.6 654L3067.2 653.7L3074.9 653.8L3082.6 654.6L3090.2 655.8L3097.7 657.5L3105.1 659.6L3112.4 661.9L3119.8 664.3L3127.2 666.7L3134.6 669.3L3141.9 672L3149.2 674.9L3156.3 678L3163.3 681.6L3170 685.5L3176.6 689.8L3183 694.3L3189.3 698.8L3195.7 703.3L3204.4 709.2L3217 718.9L3230.1 728L3243.4 736.8L3257 745L3271 752.7L3285.2 759.9L3299.5 767.1L3313.6 774.4L3327.7 782L3341.7 789.6L3355.6 797.4L3369.5 805.3L3383.3 813.2L3397.1 821.2L3410.8 829.3L3424.5 837.5L3438.1 845.8L3451.7 854.2L3465.2 862.6L3478.8 870.9L3492.4 879.2L3505.8 887.8L3519.6 895.6L3533.7 903.1L3547.8 910.5L3562 917.6L3576.4 924.6L3590.8 931.4L3605.3 938L3619.8 944.6L3634.3 951.3L3648.7 958.2L3663.1 965.1L3677.5 971.8L3692 978.5L3706.6 984.9L3721.3 991.2L3735.9 997.6L3750.3 1004.4"/>
<path d="M2192.8 433L2202.5 432L2212.1 430.9L2221.8 429.8L2231.4 428.8L2241.1 427.8L2250.8 427L2260.4 426.4L2270.1 425.9L2279.9 425.6L2289.6 425.3L2299.3 425.2L2309 425.1L2318.7 425.1L2328.4 425.1L2338.1 425.2L2347.9 425.2L2357.6 425.2L2367.3 425.2L2377 425.4L2386.7 425.7L2396.4 426.2L2406.1 426.8L2415.8 427.5L2425.5 428.2L2435.2 429L2444.8 429.9L2454.5 430.9L2464.2 432L2473.8 433.1L2483.4 434.3L2493.1 435.7L2502.7 437.1L2512.3 438.6L2521.8 440.2L2531.4 441.9L2540.9 443.8L2550.4 445.9L2559.7 448.4L2568.9 451.5L2577.9 454.7L2586.4 458.1L2594.8 462L2603 466.1L2611.2 470.3L2619.4 474.4L2627.8 478.3L2636.3 481.8L2644.9 485L2653.5 488.1L2662.2 491.1L2670.9 494L2679.7 496.9L2688.4 499.7L2697.2 502.5L2706 505.3L2714.8 508L2723.6 510.6L2732.5 513.1L2741.3 515.5L2750.2 517.9L2759.1 520.3L2768 522.7L2776.8 525.2L2785.6 527.9L2794.4 530.8L2803 533.9L2811.7 537.2L2820.2 540.7L2828.6 544.3L2837 548.1L2845.3 552.1L2853.6 556.2L2861.7 560.6L2869.5 565.4L2877.1 570.6L2884 576.6L2890.5 583.1L2897.1 589.5L2904.3 595.2L2911.2 599.9L2917.8 604.3L2924.5 608.7L2929 611.5"/>
<path d="M3030.5 637.6L3038.4 638.1L3046.4 638L3054.2 637.3L3062 636.3L3069.8 635.5L3077.7 635.6L3085.5 636.2L3093.3 637.1L3101.1 638.5L3108.7 640.3L3116.4 642.3L3124 644.4L3131.6 646.6L3139.2 649L3146.7 651.7L3154 654.6L3161.2 658.1L3168.1 662L3174.7 666.5L3181 671.2L3187.3 676.1L3193.6 680.9L3200 685.6L3212.9 695.4L3225.8 705.1L3238.9 714.5L3252.4 723.5L3266.3 731.7L3280.7 739.1L3295.3 746.2L3309.7 753.5L3324 761.1L3338.3 768.7L3352.5 776.4L3366.8 784.1L3381 791.9L3395.1 799.8L3409.2 807.7L3423.1 815.9L3437 824.3L3450.7 833L3464.3 841.7L3477.8 850.5L3491.4 859.3L3504.7 868.5L3518.3 877.1L3532.4 885.1L3546.6 892.9L3560.8 900.5L3575.2 907.9L3589.7 915.2L3604.3 922.1L3619.1 928.8L3633.8 935.4L3648.5 942.2L3663.2 948.9L3677.9 955.7L3692.7 962.4L3707.5 969L3722.3 975.5L3737 982.2L3751.5 989.3L3756.3 991.8"/>
<path d="M2395.3 535.1L2404.9 535.6L2414.4 536.2L2424 537L2433.6 537.9L2443.1 539L2452.6 540.2L2462.1 541.7L2471.6 543.3L2481.1 545.1L2490.5 547.1L2499.8 549.2L2509.2 551.5L2518.5 553.9L2527.7 556.5L2536.8 559.6L2545.8 563.1L2554.6 566.8L2563.3 570.8L2572.1 574.7L2580.7 578.4L2589.3 582L2598 585.6L2606.6 589.2L2615.2 592.7L2623.8 596.2L2632.5 599.6L2641.2 603L2650 606.2L2658.7 609.4L2667.5 612.5L2676.3 615.7L2685 618.8L2693.8 622L2702.5 625.2L2711.2 628.5L2720 631.8L2728.7 635.2L2737.4 638.5L2746.1 641.9L2754.8 645.3L2763.5 648.7L2772.1 652.1L2780.8 655.5L2789.5 658.9L2798.2 662.3L2806.9 665.7L2815.6 669.1L2824.3 672.6L2832.9 676L2841.5 679.6L2850.1 683.2L2858.7 686.9L2867.1 690.8L2875.6 694.6L2884 698.6L2892.3 702.7L2900.5 707.1L2908.8 711.4L2917.2 715.4L2924.3 718.6L2931.3 721.8L2933.7 722.9"/>
<path d="M3150.7 813.1L3157.7 816.4L3164.8 819.6L3171.8 822.9L3178.9 826.2L3185.9 829.4L3193 832.7L3200 836L3212.9 842.4L3225.9 848.6L3238.9 854.7L3252 860.8L3265.1 866.8L3278.2 872.9L3286.9 877"/>
<path d="M2395.2 522.5L2404.8 522.8L2414.4 523.3L2424 523.9L2433.5 524.7L2443.1 525.7L2452.6 527L2462.1 528.4L2471.6 530L2481 531.8L2490.4 533.7L2499.8 535.7L2509.2 537.9L2518.5 540.2L2527.7 542.7L2536.9 545.6L2545.9 548.8L2554.8 552.3L2563.5 556.5L2572.1 560.7L2580.8 564.5L2589.4 568.2L2598 572L2606.6 575.7L2615.3 579.4L2624 582.9L2632.8 586.3L2641.6 589.6L2650.5 592.6L2659.4 595.5L2668.4 598.4L2677.3 601.2L2686.2 604.1L2695.1 607.1L2704 610.1L2712.9 613.2L2721.7 616.4L2730.6 619.6L2739.4 622.9L2748.2 626.2L2757 629.5L2765.8 632.9L2774.6 636.3L2783.4 639.7L2792.2 643L2800.9 646.4L2809.7 649.8L2818.5 653.2L2827.2 656.7L2836 660.2L2844.6 663.9L2853.2 667.8L2861.7 671.8L2870 676L2878.4 680.2L2886.6 684.6L2894.8 689.2L2902.9 693.9L2911.1 698.5L2919.4 702.8L2926.3 706.2L2933.2 709.6L2935.4 710.7"/>
<path d="M3151.4 795.8L3158.4 799.1L3165.3 802.4L3172.3 805.7L3179.2 809L3186.1 812.3L3193.1 815.6L3200 819L3212.8 825.9L3225.8 832.7L3238.9 839L3252.1 845.3L3265.3 851.6L3278.6 857.9L3291.7 864.3L3304.9 870.7L3318 877.2L3331 883.8L3344 890.5L3356.9 897.3L3369.8 904.2L3382.7 911.1L3395.6 917.9L3408.5 924.8"/>
<path d="M2395.1 509.9L2404.7 510.1L2414.3 510.4L2423.9 510.9L2433.5 511.6L2443 512.5L2452.6 513.7L2462.1 515.1L2471.5 516.7L2481 518.4L2490.4 520.2L2499.8 522.2L2509.2 524.3L2518.5 526.5L2527.8 528.9L2537 531.6L2546.1 534.5L2555.1 537.9L2563.6 542.2L2572.1 546.7L2580.8 550.6L2589.4 554.5L2598 558.4L2606.7 562.3L2615.4 566.1L2624.2 569.7L2633.1 573.1L2642 576.2L2651.1 579L2660.1 581.7L2669.2 584.3L2678.3 586.8L2687.4 589.4L2696.5 592.1L2705.6 594.9L2714.6 597.9L2723.5 601L2732.5 604.1L2741.4 607.3L2750.3 610.5L2759.3 613.8L2768.1 617.1L2777 620.5L2785.9 623.8L2794.8 627.1L2803.7 630.5L2812.6 633.8L2821.4 637.2L2830.2 640.8L2839 644.4L2847.7 648.2L2856.2 652.3L2864.7 656.6L2872.9 661.1L2881.1 665.9L2889.2 670.7L2897.3 675.6L2905.3 680.6L2913.4 685.6L2921.6 690.2L2928.3 693.8L2935 697.4"/>
<path d="M3062 738.2L3069.2 740.4L3076.4 742.9L3083.6 745.5L3090.6 748.4L3097.5 751.6L3104.3 755L3111.1 758.6L3117.8 762L3124.7 765.3L3131.6 768.6L3138.4 771.9L3145.3 775.2L3152.2 778.5L3159 781.8L3165.9 785.1L3172.7 788.5L3179.5 791.8L3186.4 795.2L3193.2 798.6L3200 802L3212.7 809.5L3225.7 816.7L3238.9 823.3L3252.2 829.8L3265.6 836.4L3278.9 842.9L3292.2 849.5L3305.4 856.2L3318.6 863L3331.7 869.9L3344.7 877.1L3357.6 884.3L3370.5 891.6L3383.4 898.9L3396.2 906.3L3409.1 913.5L3422.1 920.7L3435.2 927.7L3448.4 934.5L3461.6 941.1L3475 947.6L3488.4 953.9L3501.9 960.1L3515.4 966.3L3528.9 972.5L3537.9 976.5"/>
<path d="M2395.1 497.3L2404.7 497.3L2414.3 497.5L2423.8 497.9L2433.4 498.5L2443 499.3L2452.5 500.4L2462 501.8L2471.5 503.3L2480.9 505L2490.4 506.8L2499.8 508.7L2509.2 510.7L2518.5 512.9L2527.8 515.1L2537.1 517.6L2546.3 520.2L2555.3 523.4L2563.8 527.9L2572.1 532.6L2580.8 536.7L2589.4 540.8L2598.1 544.9L2606.8 548.9L2615.5 552.8L2624.4 556.4L2633.3 559.8L2642.4 562.8L2651.6 565.4L2660.8 567.8L2670.1 570.1L2679.4 572.4L2688.7 574.7L2697.9 577.1L2707.1 579.8L2716.2 582.6L2725.3 585.6L2734.4 588.6L2743.5 591.7L2752.5 594.9L2761.5 598.1L2770.5 601.4L2779.5 604.7L2788.4 608L2797.4 611.3L2806.4 614.6L2815.4 617.9L2824.3 621.3L2833.2 624.9L2842 628.6L2850.8 632.5L2859.3 636.8L2867.7 641.4L2875.9 646.3L2883.9 651.5L2891.8 656.7L2899.7 662L2907.6 667.4L2915.6 672.7L2923.8 677.6L2930.3 681.4L2934.6 683.9"/>
<path d="M3002.5 708.8L3009.9 710.2L3017.2 711.7L3024.6 713.2L3031.9 714.6L3039.3 716.1L3046.6 717.6L3054 719.1L3061.3 720.8L3068.5 722.7L3075.8 724.7L3082.9 727.1L3090 729.8L3096.9 732.8L3103.6 736.2L3110.2 739.8L3116.8 743.4L3123.6 746.8L3130.3 750.1L3137.1 753.4L3143.9 756.7L3150.7 760.1L3157.4 763.4L3164.2 766.8L3170.9 770.1L3177.6 773.5L3184.4 776.9L3191.1 780.4L3197.8 783.8L3208.7 790L3221.2 798.3L3234.4 805.3L3247.9 812.1L3261.3 818.9L3274.8 825.6L3288.2 832.4L3301.6 839.3L3314.8 846.4L3328 853.6L3341.1 861.1L3354 868.7L3366.9 876.4L3379.8 884.2L3392.6 892L3405.5 899.8L3418.4 907.4L3431.5 914.8L3444.7 922L3458.1 928.9L3471.6 935.6L3485.2 942L3498.8 948.4L3512.5 954.6L3526.2 960.9L3540 967L3553.8 972.9L3567.7 978.7L3581.5 984.6L3595.2 990.8L3608.8 997.3L3622.2 1004.1L3635.6 1011L3649 1017.9L3662.5 1024.6L3676.1 1030.9L3690 1036.8L3703.9 1042.4L3718 1047.8L3727.3 1051.4"/>
<path d="M1516.1 654.8L1534.6 657.1L1552.9 656.7L1570.9 654.6L1588.5 650.9L1605.5 646.3L1622.3 640.9L1638.7 634.9L1654.8 628.8L1671.1 622.4L1686.9 615.8L1702.7 609.5L1718.7 603.5L1734.8 597.4L1750.9 591.1L1767.1 584.6L1783.1 577.6L1798.9 569.9L1814.4 561.7L1829.6 553.2L1844.5 544.6L1859.4 536L1874.4 526.9L1889 517.4L1903.2 508.1L1917.5 499.6L1932.1 492.1L1947.3 485.8L1963.1 480.1L1979.3 475L1995.6 470.2L2012.1 465.5"/>
<path d="M1520.6 665.8L1540.9 667.2L1559.9 666.1L1578.8 663.3L1690.7 625.1L1706.3 618.9L1722.2 612.8L1738.4 606.7L1754.6 600.4L1770.9 593.8L1787.3 586.6L1803.5 578.8L1819.2 570.5L1834.5 561.9L1849.5 553.3L1864.5 544.6L1879.8 535.3L1894.5 525.7L1908.5 516.6L1922.4 508.3L1936.2 501.2L1950.9 495.1L1966.3 489.6L1982.2 484.6L1998.4 479.8L2014.8 475.1"/>
<path d="M1752.8 611.9L1769.3 605.3L1785.9 598.2L1802.5 590.4L1818.7 582.1L1834.3 573.5L1849.6 564.8L1864.4 556.2L1880 547L1895.1 537.3L1909.3 527.9L1922.9 519.5L1936.1 512.3L1949.6 506.3L1964.3 500.8L1979.9 495.8L1995.8 490.9L2012 486.3L2017.5 484.7"/>
<path d="M1751 623.3L1767.5 616.8L1784.3 609.8L1801.4 602.1L1818 593.8L1834 585.1L1849.5 576.4L1864.5 567.7L1879.9 558.8L1895.7 548.8L1910.1 539.3L1923.6 530.8L1936.4 523.4L1949 517.4L1962.8 512L1977.7 506.9L1993.3 502.1L2009.3 497.5L2020.2 494.4"/>
<path d="M1844.2 590.9L1859.6 582.1L1874.4 573.5L1890.5 564L1906.1 554L1920.2 544.7L1933 536.8L1945 530.2L1957.1 524.8L1970.9 519.7L1985.8 514.8L2001.4 510.1L2017.4 505.5L2022.9 504"/>
<path d="M1890.1 575.9L1906.6 565.6L1921.1 556.1L1934 547.8L1945.7 541.1L1956.9 535.8L1969.6 530.8L1983.8 526L1999 521.3L2014.8 516.7L2025.6 513.6"/>
<path d="M1927.1 565.3L1939.7 557.2L1950.9 550.8L1961.3 545.9L1973.3 541.1L1987.2 536.4L2002.1 531.8L2017.8 527.3L2023.1 525.8"/>
<path d="M1965.7 556L1977.1 551.5L1990.6 546.9L2005.3 542.4L2020.8 537.8L2026.1 536.3"/>
<path d="M2061.1 452L2078 448.6L2094.7 445.2L2111.6 442L2128.4 438.8L2145.2 435.7L2160.1 433.2L2170.6 431.3L2180.9 429.5L2191.3 428L2201.8 426.6L2212.4 425.2L2222.9 423.9L2233.4 422.6L2243.9 421.5L2254.3 420.6L2264.7 419.9L2275.2 419.4L2285.8 419.1L2296.3 418.9L2299.9 418.9"/>
<path d="M2237.9 431.2L2248.2 430.1L2258.4 429.3L2268.7 428.7L2279 428.3L2289.4 428L2300 427.9"/>
<path d="M1390.5 505L1391.6 522.5L1393.3 547.5L1395.3 573.2L1397.6 594.5L1398.4 601.4" stroke-width="2.8"/>
<path d="M1403.3 633.6L1407.8 650.1L1413.5 664.5L1420.4 676.8L1428.4 686.4L1438.1 693.1L1449 697.1L1460.4 699.2L1472.1 699.7L1485.3 697.7L1496.8 695.1L1502 694" stroke-width="2.8"/>
<path d="M1384.8 535L1385.9 550.6L1387.5 573L1389.5 595.8L1391.7 614.9L1394.1 633.1L1397.3 649.8L1401.7 664.5L1407.4 677.4L1414.1 688.3L1422 697L1431.5 702.9L1442.2 706.5L1453.3 708.4L1464.9 708.7L1477.8 707L1489.1 704.7L1494.2 703.7"/>
<path d="M1379.2 565L1380.2 578.7L1381.8 598.4L1383.8 618.5L1386 635.3L1388.3 651.3L1391.4 666L1395.8 678.9L1401.3 690.2L1407.9 699.9L1415.6 707.5L1424.9 712.7L1435.4 715.8L1446.4 717.5L1457.7 717.8L1470.3 716.3L1481.4 714.2L1486.4 713.4"/>
<path d="M1374.2 595L1375.2 606.8L1376.7 623.8L1378.7 641.2L1380.8 655.7L1383.1 669.5L1386.1 682.2L1390.4 693.3L1395.7 703.1L1402.1 711.4L1409.7 718L1418.7 722.5L1429 725.2L1439.6 726.7L1450.6 726.9L1462.9 725.6L1473.7 723.8L1478.6 723.1"/>
<path d="M1369.4 625L1370.4 635L1371.9 649.3L1373.8 663.9L1375.9 676.1L1378.1 687.7L1381 698.4L1385.1 707.7L1390.3 716L1396.6 723L1403.9 728.5L1412.7 732.3L1422.6 734.6L1432.9 735.8L1443.6 736L1455.6 734.9L1466.1 733.4L1470.8 732.8"/>
<path d="M1365.9 655L1366.9 663.1L1368.3 674.7L1370.1 686.6L1372.1 696.5L1374.2 705.9L1377 714.6L1381 722.2L1385.9 728.8L1391.9 734.5L1398.9 739L1407.3 742.1L1416.9 743.9L1426.8 744.9L1437 745.1L1448.4 744.2L1458.5 743L1463 742.5"/>
<path d="M1362.8 685L1363.7 691.2L1365 700.1L1366.7 709.2L1368.6 716.8L1370.7 724.1L1373.3 730.7L1377.1 736.6L1381.8 741.7L1387.5 746.1L1394.2 749.5L1402.2 751.9L1411.3 753.3L1420.7 754.1L1430.4 754.2L1441.3 753.5L1450.9 752.6L1455.2 752.2"/>
<path d="M1392 470C1393.3 475 1397.8 488.3 1400 500C1402.2 511.7 1403 527.5 1405 540C1407 552.5 1409.5 565.3 1412 575C1414.5 584.7 1418.7 594.2 1420 598"/>
<path d="M1388 500C1388.8 506.7 1391.3 527.5 1393 540C1394.7 552.5 1396.3 564.5 1398 575C1399.7 585.5 1402.2 598.3 1403 603"/>
<path d="M842.7 1078.5L852.7 1071.8L862.5 1064.9L871.9 1057.5L881.1 1049.7L890.6 1042.4L900.5 1035.7L910.7 1029.2L920.9 1022.9L931.1 1016.7L941.4 1010.5L951.7 1004.4L962.1 998.3L972.4 992.2L982.8 986.1L993.1 980.1L1002.3 974.6L1009.3 970.6L1016.3 966.5L1023.3 962.5L1030.3 958.4L1037.3 954.4L1044.3 950.4L1051.3 946.4L1058.3 942.4L1065.3 938.3L1072.3 934.3L1079.3 930.3L1086.2 926.2L1093.2 922.1L1100.1 917.9L1107 913.7L1113.9 909.5L1120.7 905.2L1127.5 900.8L1134.2 896.3L1140.8 891.6L1147.4 886.9L1153.9 882.1L1160.3 877.2L1166.6 872.2L1172.9 867.1L1179.2 862L1185.4 856.9L1191.6 851.8L1197.9 846.7L1203.9 841.9L1209.7 837.2L1215.5 832.6L1221.4 827.9L1227.2 823.3L1233 818.6L1238.8 813.9L1244.6 809.3L1250.5 804.6L1256.3 800L1262.2 795.4L1268.1 790.9L1274 786.3L1279.9 781.7L1283.8 778.6"/>
<path d="M835.2 1065.6L845.3 1059L855.3 1052.3L865.1 1045.3L874.5 1037.8L883.9 1030.2L893.6 1023.1L903.7 1016.5L913.9 1010.1L924.1 1003.7L934.4 997.5L944.7 991.3L948.2 989.2"/>
<path d="M979.3 970.8L989.6 964.6L1000 958.5L1007 954.4L1014 950.2L1021 946.1L1028 942L1035 937.9L1042 933.8L1049.1 929.7L1056.1 925.7L1063.1 921.6L1070.2 917.5L1077.2 913.5L1084.2 909.4L1091.3 905.3L1098.3 901.2L1105.2 897.1L1112.2 892.9L1119.1 888.7L1126 884.4L1132.8 879.9L1139.6 875.4L1146.3 870.8L1152.9 866.1L1159.4 861.3L1165.9 856.5L1172.4 851.5L1178.7 846.5L1185.1 841.5L1191.5 836.5L1197.8 831.4L1204 826.5L1209.9 821.9L1215.7 817.3L1221.6 812.7L1227.4 808L1233.2 803.4L1239 798.8L1244.8 794.1L1250.7 789.4L1256.5 784.8L1262.3 780.2L1264.3 778.7"/>
<path d="M1268.2 775.6L1274.1 771.1L1280 766.5L1283.9 763.4"/>
<path d="M827.6 1052.7L837.8 1046.2L847.9 1039.6L857.9 1032.8L867.7 1025.6L877.1 1018.1L886.7 1010.7L896.7 1003.9L906.8 997.3L917.1 990.9L920.5 988.8"/>
<path d="M961.9 963.7L972.3 957.5L982.7 951.3L993.1 945.1L1002.3 939.6L1009.4 935.4L1016.4 931.2L1023.4 927L1030.4 922.9L1037.5 918.7L1044.5 914.5L1051.5 910.4L1058.6 906.3L1065.7 902.2L1072.7 898.1L1079.8 894L1086.9 889.9L1094 885.9L1101.1 881.8L1108.1 877.6L1115.2 873.5L1122.2 869.3L1129.1 865L1136 860.6L1142.8 856.1L1149.6 851.6L1156.3 847L1163 842.3L1169.5 837.5L1176.1 832.6L1182.6 827.7L1189.1 822.8L1195.5 817.8L1202 812.8L1208.1 808.1L1214 803.6L1219.8 799L1225.6 794.4L1231.5 789.7L1237.3 785.1L1243.1 780.5L1245 778.9"/>
<path d="M1268.4 760.4L1274.2 755.9L1280.1 751.3L1285.9 746.7L1291.7 742L1297.4 737.2L1303 732.3L1308.4 727.2L1313.8 722.1L1319.1 716.9L1324.3 711.5"/>
<path d="M816.6 1042.2L826.8 1035.6L837 1029L847.2 1022.3L857.2 1015.5L867.1 1008.4L876.7 1001L886.4 993.7L893 989.1"/>
<path d="M934.1 963.2L944.5 956.9L954.9 950.6L965.3 944.4L975.7 938.1L986.1 931.9L996.5 925.6L1004.7 920.7L1011.7 916.4L1018.8 912.2L1025.8 907.9L1032.9 903.7L1039.9 899.4L1047 895.2L1054 891L1061.1 886.9L1068.2 882.7L1075.4 878.6L1082.5 874.5L1089.6 870.5L1096.8 866.4L1103.9 862.3L1111.1 858.2L1118.2 854.1L1125.2 850L1132.3 845.7L1139.2 841.3L1146.1 836.9L1153 832.4L1159.8 827.8L1166.5 823.2L1173.2 818.5L1179.9 813.8L1186.5 808.9L1193.1 804.1L1199.7 799.2L1206.2 794.2L1212.2 789.8L1218 785.2L1223.9 780.6L1229.7 776.1L1235.6 771.5L1239.4 768.4"/>
<path d="M1260.7 751.4L1266.5 746.7L1272.4 742.2L1278.3 737.6L1284.1 733L1289.9 728.4L1295.6 723.6L1301.3 718.8L1306.8 713.8L1312.2 708.7L1317.5 703.5L1322.7 698.2L1324.4 696.4"/>
<path d="M809 1029.6L819.2 1022.9L829.4 1016.2L839.6 1009.6L849.8 1002.9L859.9 996L869.8 988.9L876.2 983.9"/>
<path d="M906.4 963.3L916.7 956.8L927.1 950.4L937.5 944L947.9 937.6L958.3 931.3L968.7 925L979.2 918.7L989.6 912.3L1000 906L1007.1 901.7L1014.1 897.4L1021.2 893.1L1028.2 888.7L1035.3 884.4L1042.4 880.1L1049.4 875.9L1056.5 871.6L1063.7 867.4L1070.8 863.2L1078 859.1L1085.2 855L1092.4 851L1099.6 847L1106.8 842.9L1114 838.9L1121.2 834.8L1128.4 830.7L1135.5 826.4L1142.5 822.1L1149.5 817.7L1156.4 813.3L1163.3 808.8L1170.2 804.3L1177 799.6L1183.8 795L1190.5 790.2L1197.2 785.4L1203.9 780.6L1210.3 775.9L1216.2 771.4L1222.1 766.9L1228 762.3L1233.8 757.8L1239.7 753.2L1245.5 748.5L1251.3 743.9L1257 739.3L1262.8 734.6L1268.7 730L1274.5 725.4L1280.3 720.8L1286.1 716.2L1291.9 711.6L1297.6 706.9L1303.3 702L1308.7 697L1314.1 691.9L1319.4 686.7L1324.6 681.4L1329.6 675.9L1334.5 670.4L1339.2 664.6L1343.7 658.7L1347.7 652.5L1351.4 646L1354.8 639.5L1358 632.9"/>
<path d="M801.5 1017.2L811.6 1010.2L821.8 1003.5L832 996.8L842.3 990.1L852.5 983.4L862.6 976.5L872.5 969.3L875.8 966.9"/>
<path d="M882.3 962.1L892.4 955.1L902.7 948.5L913.1 942L923.5 935.5L933.9 929L944.3 922.6L954.7 916.2L965.2 909.8L975.6 903.4L986.1 897L996.5 890.6L1004.7 885.6L1011.8 881.2L1018.9 876.8L1025.9 872.4L1033 868.1L1040.1 863.7L1047.2 859.4L1054.3 855L1061.5 850.8L1068.6 846.5L1075.8 842.4L1083.1 838.3L1090.4 834.2L1097.6 830.2L1104.9 826.2L1112.2 822.2L1119.5 818.2L1126.7 814.1L1133.9 810L1141.1 805.7L1148.2 801.4L1155.3 797.1L1162.3 792.7L1169.3 788.3L1176.2 783.8L1183.2 779.3L1190 774.7L1196.9 770L1203.7 765.2L1210.4 760.4L1216.4 756L1222.3 751.6L1228.2 747.1L1234 742.5L1239.9 738L1245.7 733.3L1251.5 728.7L1257.2 724.1L1263 719.4L1268.8 714.8L1274.6 710.2L1280.5 705.6L1286.3 701L1292.1 696.4L1297.8 691.7L1303.4 686.9L1308.9 681.9L1314.3 676.8L1319.6 671.6L1324.7 666.3L1329.8 660.9L1334.7 655.4L1339.5 649.7L1344.1 643.9L1348.3 637.8L1352.1 631.5L1355.7 625L1359.1 618.5L1360.2 616.3"/>
<path d="M794.1 1005.1L804 997.8L814.1 990.9L824.3 984.1L834.6 977.3L845 970.6L855.2 963.9L865.3 956.9L875.3 949.8L885.3 942.7L895.6 935.9L906 929.3L916.4 922.8L926.8 916.2L937.2 909.7L947.7 903.3L958.1 896.8L968.6 890.4L979.1 883.9L989.5 877.5L1000 871L1007.1 866.6L1014.2 862.1L1021.3 857.7L1028.4 853.2L1035.5 848.8L1042.6 844.4L1049.7 840L1056.8 835.6L1064 831.3L1071.2 827L1078.5 822.9L1085.8 818.8L1093.2 814.8L1100.5 810.8L1107.9 806.8L1115.3 802.9L1122.6 798.9L1129.9 794.9L1137.2 790.8L1144.4 786.5L1151.6 782.3L1158.8 778L1165.9 773.8L1173 769.4L1180.1 765L1187.1 760.6L1194.1 756L1201 751.4L1207.9 746.7L1214.5 742.1L1220.5 737.7L1226.4 733.3L1232.3 728.8L1238.1 724.2L1244 719.7L1249.8 715.1L1255.5 710.4L1261.3 705.8L1267.1 701.2L1272.9 696.5L1278.7 691.9L1284.5 687.4L1290.3 682.7L1296 678.1L1301.7 673.3L1307.2 668.4L1312.7 663.4L1318 658.2L1323.2 653L1328.3 647.7L1333.3 642.2L1338.2 636.6L1342.9 630.9L1347.3 625L1351.5 618.9L1355.3 612.6L1358.9 606.2L1362.4 599.7L1363.5 597.5" stroke-width="2.8"/>
<path d="M787.1 993.5L796.6 985.7L806.5 978.4L816.7 971.5L827 964.6L837.3 957.9L847.7 951.2L858 944.4L868.1 937.4L878.2 930.3L888.4 923.4L898.8 916.7L909.2 910.1L919.7 903.5L930.1 897L940.6 890.4L951.1 883.9L961.6 877.4L972 870.9L982.5 864.4L993 857.9L1002.4 852L1009.5 847.5L1016.6 843L1023.7 838.5L1030.8 834L1037.9 829.5L1045.1 825L1052.2 820.5L1059.4 816.1L1066.6 811.8L1073.9 807.5L1081.2 803.4L1088.6 799.3L1096 795.3L1103.5 791.4L1110.9 787.5L1118.3 783.5L1125.8 779.6L1133.2 775.6L1140.5 771.5L1147.8 767.4L1155.1 763.2L1162.4 759L1169.6 754.8L1176.9 750.6L1184 746.3L1191.2 741.9L1198.3 737.4L1205.3 732.9L1212.3 728.2L1218.6 723.7L1224.6 719.4L1230.5 715L1236.4 710.5L1242.2 706L1248 701.4L1253.8 696.8L1259.6 692.2L1265.4 687.5L1271.1 682.9L1276.9 678.3L1282.7 673.7L1288.5 669.1L1294.2 664.4L1299.9 659.7L1305.6 654.9L1311 650L1316.4 644.9L1321.6 639.7L1326.8 634.4L1331.8 629L1336.8 623.5L1341.6 617.9L1346.2 612.1L1350.6 606.2L1354.7 600.1L1358.6 593.8L1362.2 587.4L1365.8 580.9"/>
<path d="M777.5 985.3L786.4 976.8L795.8 968.8L805.7 961.4L815.9 954.3L826.2 947.5L836.5 940.7L846.9 933.9L857.3 927.1L867.6 920.3L877.8 913.3L888.1 906.4L898.5 899.7L909 893.1L919.5 886.5L930 879.9L940.5 873.3L951 866.7L961.5 860.1L972 853.5L982.5 847L993 840.4L1002.4 834.5L1009.5 829.9L1016.7 825.4L1023.8 820.8L1030.9 816.2L1038 811.6L1045.2 807L1052.3 802.5L1059.5 798.1L1066.8 793.7L1074.1 789.4L1081.5 785.3L1088.9 781.2L1096.4 777.2L1103.9 773.3L1111.5 769.4L1119 765.5L1126.5 761.7L1134 757.7L1141.4 753.7L1148.8 749.6L1156.2 745.5L1163.6 741.4L1171 737.4L1178.3 733.2L1185.6 729L1192.9 724.7L1200.1 720.4L1207.2 715.9L1214.3 711.2L1220.7 706.8L1226.7 702.6L1232.6 698.2L1238.5 693.7L1244.4 689.2L1250.2 684.7L1256 680.1L1261.7 675.4L1267.5 670.8L1273.2 666.2L1279 661.5L1284.7 656.9L1290.5 652.3L1296.3 647.7L1302 643L1307.6 638.2L1313 633.2L1318.3 628.1L1323.6 622.9L1328.7 617.5L1333.7 612.1L1338.6 606.6L1343.4 601L1348 595.2L1352.5 589.4L1356.7 583.3L1360.6 577.1L1364.3 570.8L1368 564.4L1369.2 562.2"/>
<path d="M771.5 974.9L779.8 965.9L788.7 957.3L798.2 949.4L808.2 942L818.4 934.9L828.8 928L839.2 921.2L849.7 914.5L860.1 907.7L870.5 900.8L880.8 893.9L891.3 887.2L901.8 880.5L912.3 873.9L922.8 867.2L933.3 860.5L943.9 853.9L954.4 847.3L964.9 840.6L975.4 834L986 827.4L996.5 820.7L1004.8 815.4L1012 810.8L1019.1 806.2L1026.2 801.5L1033.4 796.9L1040.5 792.2L1047.7 787.6L1054.9 783L1062.1 778.6L1069.4 774.2L1076.8 769.9L1084.3 765.8L1091.8 761.8L1099.3 757.8L1106.9 753.9L1114.5 750.1L1122.2 746.3L1129.7 742.4L1137.3 738.5L1144.8 734.6L1152.3 730.5L1159.8 726.5L1167.3 722.5L1174.8 718.5L1182.3 714.5L1189.7 710.4L1197.1 706.2L1204.4 701.9L1211.6 697.4L1218.8 692.8L1224.8 688.6L1230.8 684.3L1236.7 679.9L1242.6 675.5L1248.5 670.9L1254.3 666.4L1260 661.8L1265.8 657.2L1271.5 652.5L1277.2 647.9L1283 643.3L1288.7 638.6L1294.5 634L1300.2 629.4L1305.9 624.6L1311.4 619.7L1316.8 614.7L1322 609.5L1327.2 604.3L1332.2 598.9L1337.2 593.4L1342 587.9L1346.8 582.2L1351.4 576.5L1355.8 570.6L1360 564.5L1363.9 558.3L1367.7 552L1371.5 545.7L1372.7 543.6"/>
<path d="M765.8 965L773.8 955.6L782.1 946.3L791.1 937.8L800.7 929.8L810.8 922.4L821.1 915.4L831.5 908.5L842 901.7L852.5 895L863 888.2L873.5 881.4L884 874.6L894.5 868L905.1 861.3L915.6 854.6L926.2 847.9L936.7 841.2L947.3 834.5L957.8 827.8L968.4 821.1L978.9 814.4L989.5 807.7L1000 801L1007.2 796.4L1014.4 791.7L1021.5 786.9L1028.7 782.2L1035.8 777.5L1043 772.8L1050.2 768.1L1057.4 763.5L1064.7 759L1072.1 754.6L1079.6 750.4L1087.1 746.3L1094.7 742.3L1102.3 738.4L1110 734.6L1117.7 730.8L1125.4 727.1L1133.1 723.3L1140.7 719.4L1148.3 715.4L1155.9 711.5L1163.5 707.6L1171.1 703.7L1178.7 699.8L1186.3 695.8L1193.8 691.8L1201.3 687.6L1208.7 683.4L1216 678.9L1222.9 674.5L1228.9 670.3L1234.9 666L1240.9 661.6L1246.7 657.2L1252.6 652.7L1258.3 648.1L1264.1 643.5L1269.8 638.9L1275.5 634.2L1281.3 629.6L1287 625L1292.7 620.4L1298.5 615.7L1304.2 611L1309.7 606.2L1315.2 601.3L1320.5 596.2L1325.7 591L1330.8 585.7L1335.8 580.2L1340.7 574.7L1345.4 569.1L1350.1 563.4L1354.7 557.7L1359.1 551.8L1363.3 545.7L1367.3 539.6L1371.2 533.3L1375 527.1L1376.3 525"/>
<path d="M760.2 955.4L768.1 945.8L775.9 936L784.3 926.7L793.4 918.1L803.2 910.3L813.4 903L823.7 895.9L834.2 889L844.8 882.2L855.4 875.5L866 868.8L876.5 862.1L887.2 855.4L897.8 848.8L908.4 842.1L919 835.3L929.5 828.5L940.1 821.8L950.7 815L961.3 808.3L971.8 801.5L982.4 794.8L993 788L1002.4 781.9L1009.6 777.2L1016.8 772.5L1024 767.7L1031.1 762.9L1038.3 758.1L1045.5 753.3L1052.7 748.6L1060 744L1067.4 739.5L1074.8 735.1L1082.3 730.9L1090 726.8L1097.6 722.9L1105.4 719.1L1113.1 715.3L1120.9 711.6L1128.7 707.8L1136.4 704.1L1144.1 700.3L1151.8 696.4L1159.5 692.5L1167.3 688.7L1175 684.9L1182.7 681.1L1190.4 677.2L1198 673.3L1205.6 669.2L1213.1 664.9L1220.5 660.4L1227 656.2L1233.1 652L1239.1 647.8L1245 643.4L1250.8 638.9L1256.6 634.4L1262.4 629.9L1268.1 625.2L1273.9 620.6L1279.6 616L1285.3 611.3L1291 606.7L1296.7 602.1L1302.4 597.4L1308.1 592.7L1313.6 587.8L1319 582.8L1324.2 577.7L1329.3 572.4L1334.3 567L1339.3 561.5L1344.1 556L1348.8 550.4L1353.5 544.7L1358.1 538.9L1362.5 533L1366.7 527L1370.7 520.9L1374.7 514.7L1378.7 508.5"/>
<path d="M754.4 945.7L762.7 936.3L770.3 926.3L778.1 916.3L786.5 907L795.8 898.5L805.7 890.7L816 883.4L826.4 876.4L837 869.5L847.6 862.8L858.3 856.1L869 849.4L879.7 842.8L890.4 836.2L901.1 829.5L911.7 822.8L922.3 816L932.9 809.2L943.5 802.4L954.1 795.6L964.7 788.7L975.3 781.9L985.9 775.1L996.5 768.3L1004.8 762.8L1012.1 758L1019.3 753.2L1026.4 748.3L1033.6 743.4L1040.8 738.6L1048 733.8L1055.3 729L1062.6 724.4L1070.1 719.9L1077.6 715.6L1085.2 711.4L1092.9 707.4L1100.6 703.5L1108.4 699.7L1116.3 696L1124.1 692.4L1132 688.7L1139.8 685L1147.6 681.2L1155.4 677.3L1163.2 673.6L1171.1 669.9L1178.9 666.2L1186.8 662.5L1194.6 658.7L1202.3 654.8L1210 650.7L1217.6 646.5L1225 642L1231.2 638L1237.2 633.8L1243.2 629.5L1249.1 625.1L1254.9 620.7L1260.7 616.2L1266.5 611.6L1272.2 607L1277.9 602.3L1283.6 597.7L1289.3 593L1295 588.4L1300.7 583.8L1306.4 579.1L1311.9 574.3L1317.4 569.4L1322.7 564.3L1327.9 559.1L1332.9 553.8L1337.9 548.3L1342.7 542.8L1347.5 537.2L1352.2 531.6L1356.9 525.9L1361.4 520.2L1365.8 514.3L1370.1 508.3L1374.2 502.2L1378.3 496.1L1381 492" stroke-width="2.8"/>
<path d="M746 934.6L755 925.3L763.4 915.5L771.8 905.8L780.8 896.5L790.6 888L800.9 880.1L811.4 872.6L822.1 865.2L832.9 858.1L843.8 851L854.7 844L865.6 837L876.5 830L887.5 823.1L898.4 816.1L909.3 809L920.1 802L931 794.9L941.9 787.8L952.8 780.8L963.7 773.8L974.6 766.8L985.5 759.7L996.4 752.7L1004.9 747.1L1012.2 742.3L1019.5 737.4L1026.8 732.4L1034.1 727.5L1041.3 722.6L1048.7 717.7L1056 712.9L1063.4 708.2L1070.9 703.6L1078.4 699.1L1086.1 694.8L1093.8 690.6L1101.5 686.5L1109.3 682.5L1117.2 678.5L1125 674.6L1132.9 670.7L1140.7 666.7L1148.5 662.7L1156.3 658.6L1164.1 654.6L1171.9 650.7L1179.7 646.7L1187.6 642.8L1195.4 638.8L1203.1 634.7L1210.8 630.4L1218.4 626L1225.8 621.3L1232 617.2L1238.1 613L1244.2 608.7L1250.1 604.3L1256.1 599.9L1262 595.3L1267.8 590.8L1273.6 586.2L1279.4 581.5L1285.2 576.9L1291 572.2L1296.8 567.6L1302.5 562.9L1308.3 558.2L1313.9 553.4L1319.4 548.5L1324.8 543.4L1330.1 538.2L1335.3 532.8L1340.3 527.4L1345.3 521.9L1350.2 516.4L1355.1 510.8L1359.8 505.1L1364.5 499.3L1369 493.4L1373.2 487.3L1377.4 481.2L1381.4 475L1384.2 470.8"/>
<path d="M737.7 923.5L747.3 914.3L756.4 904.7L765.5 895.2L775.2 886.1L785.4 877.5L796 869.5L806.8 861.7L817.8 854.1L828.9 846.6L836.2 841.7"/>
<path d="M847.3 834.3L858.5 826.9L869.6 819.6L880.8 812.3L891.9 805L903.1 797.7L914.2 790.4L925.4 783L936.5 775.8L947.7 768.5L958.9 761.3L970.1 754L981.4 746.8L992.5 739.5L1002.5 733L1009.9 728.1L1017.3 723.2L1024.7 718.2L1032 713.2L1039.4 708.3L1046.8 703.3L1054.2 698.4L1061.7 693.6L1069.2 688.8L1076.8 684.2L1084.4 679.6L1092.1 675.2L1099.9 670.9L1107.7 666.6L1115.5 662.4L1123.3 658.2L1131.1 654L1138.9 649.9L1146.7 645.6L1154.5 641.3L1162.3 637.1L1170.1 632.9L1177.9 628.7L1185.8 624.5L1193.5 620.3L1201.3 616L1209 611.6L1216.6 607L1224.2 602.3L1230.8 597.9L1237 593.7L1243.1 589.4L1249.2 585L1255.2 580.5L1261.2 576L1267.2 571.5L1273.1 566.9L1279 562.3L1284.9 557.7L1290.7 553L1296.6 548.4L1302.4 543.7L1308.3 538.9L1314 534.1L1319.6 529.2L1325.1 524.1L1330.5 518.9L1335.9 513.7L1341.1 508.3L1346.2 502.9L1351.3 497.4L1356.3 491.8L1361.2 486.2L1366 480.4L1370.6 474.5L1375 468.4"/>
<path d="M729.4 912.4L739.6 903.3L749.4 894L759.3 884.7L769.5 875.6L780.2 867.1L791.1 858.8L802.3 850.8L813.5 843"/>
<path d="M847.4 819.7L858.8 812L870.1 804.4L881.5 796.7L892.9 789.1L904.3 781.5L915.7 773.9L927.2 766.3L938.6 758.8L950.1 751.3L961.7 743.9L973.2 736.4L984.7 729L996.2 721.5L1005 715.7L1012.5 710.7L1020 705.7L1027.5 700.7L1034.9 695.7L1042.4 690.6L1049.9 685.6L1057.4 680.7L1065 675.8L1072.6 670.9L1080.2 666.2L1087.9 661.5L1095.6 656.9L1103.4 652.4L1111.2 647.9L1119 643.5L1126.8 639.1L1134.6 634.6L1142.4 630.2L1150.2 625.7L1157.9 621.2L1165.7 616.7L1173.5 612.3L1181.3 607.9L1189.1 603.4L1196.9 598.9L1204.7 594.4L1212.4 589.7L1220 584.9L1227.5 580L1233.8 575.8L1240 571.4L1246.1 567.1L1252.3 562.7L1258.4 558.2L1264.4 553.7L1270.5 549.1L1276.5 544.6L1282.5 540L1288.5 535.3L1294.4 530.7L1300.3 526L1306.2 521.3L1312.1 516.5L1317.9 511.6L1323.5 506.6L1329.1 501.5L1334.6 496.3"/>
<path d="M721 901.3L731.9 892.4L742.4 883.2L753 874.1L763.8 865.2L775 856.6L786.3 848.2L793.9 842.7"/>
<path d="M828.4 818.4L840 810.3L851.5 802.2L863.1 794.2L874.7 786.2L886.3 778.3L897.9 770.3L909.6 762.5L921.3 754.6L933.1 746.9L944.9 739.2L956.7 731.5L968.5 723.8L980.3 716.2L992.1 708.5L1002.5 701.7L1010.1 696.6L1017.7 691.6L1025.3 686.5L1032.8 681.4L1040.4 676.3L1048 671.3L1055.6 666.2L1063.2 661.2"/>
<path d="M1068.3 657.9L1075.9 653L1083.6 648.1L1091.4 643.3L1099.1 638.5L1106.9 633.8L1114.7 629.1L1122.5 624.4L1130.3 619.7L1138 615.1L1145.8 610.4L1153.6 605.6L1161.4 600.9L1169.2 596.2L1176.9 591.5L1184.7 586.8L1192.5 582.1L1200.3 577.4L1208 572.6L1215.7 567.7L1223.3 562.7L1230.4 557.9L1236.7 553.6L1243 549.2L1249.2 544.8L1255.4 540.3L1261.6 535.9L1267.7 531.4L1273.9 526.8L1280 522.2L1286.1 517.6L1292.1 513L1296.1 509.9"/>
<path d="M712.7 890.1L724.2 881.4L735.4 872.5L746.8 863.6L758.2 854.8L769.7 846.1L773.6 843.2"/>
<path d="M808.8 817.9L820.6 809.5L832.4 801.1L844.1 792.7L855.9 784.3L867.7 776L879.5 767.7L891.4 759.4L903.3 751.2L915.3 743.1L927.4 735.1L939.4 727.2L951.5 719.2L963.7 711.4L975.8 703.5L987.9 695.6L1000 687.7L1007.7 682.6L1015.4 677.5L1023 672.4L1030.7 667.2L1038.4 662.1L1043.5 658.7"/>
<path d="M1069.1 641.7L1076.8 636.6L1084.5 631.6L1092.3 626.6L1100 621.6L1107.8 616.7L1115.6 611.7L1123.3 606.8L1131.1 601.9L1138.9 597L1146.7 592L1154.4 587.1L1162.2 582.1L1170 577.2L1177.8 572.3L1185.5 567.3L1193.3 562.4L1201.1 557.4L1208.8 552.4L1216.5 547.3L1224.1 542.1L1231.3 537.2L1237.6 532.8L1243.9 528.4L1246 526.9"/>
<path d="M704.4 879L716.4 870.4L728.5 861.7L740.5 853L752.5 844.3L764.5 835.6L768.5 832.7" stroke-width="2.8"/>
<path d="M788.6 818.2L800.6 809.6L812.6 800.9L824.6 792.1L836.6 783.4L848.6 774.6L860.6 765.9L872.6 757.3L884.7 748.7L896.9 740.2L909.1 731.8L921.4 723.5L933.8 715.3L946.2 707.1L958.6 699L971 690.9L983.5 682.9L995.9 674.7L1005.2 668.6L1013 663.4L1020.7 658.2L1028.5 653.1L1036.2 647.9L1044 642.7" stroke-width="2.8"/>
<path d="M1062.1 630.6L1069.9 625.4L1077.6 620.2L1085.4 615.1L1093.2 609.9L1100.9 604.7L1108.7 599.6L1116.5 594.4L1124.2 589.2L1132 584L1139.8 578.9L1147.5 573.7L1155.3 568.5L1163.1 563.3L1170.8 558.2L1178.6 553L1186.3 547.8" stroke-width="2.8"/>
<path d="M700.3 865L713 856.6L725.7 848.1L738.5 839.6L751 831L763.5 822.2L775.8 813.3L788.1 804.4L800.4 795.4L812.6 786.4L824.8 777.3L837 768.2L849.3 759.2L861.5 750.1L873.8 741.1L886.1 732.2L898.6 723.5L911.1 714.9L923.7 706.4L936.4 698L949.1 689.6L961.8 681.3L974.6 673L987.3 664.7L1000 656.3L1007.9 651.1L1015.7 645.9L1023.6 640.7L1031.4 635.4L1039.3 630.2L1047.1 624.9L1055 619.7L1062.8 614.4L1070.7 609.2L1078.5 603.9"/>
<path d="M692.1 854L705.5 845.6L719 837.4L732.4 829.1L745.5 820.5L758.4 811.7L771.1 802.6L783.6 793.5L796.2 784.2L808.7 774.8L821.1 765.4L833.5 756L845.9 746.6L858.4 737.2L870.9 727.9L883.5 718.7L896.2 709.6L909 700.8L921.9 692L934.9 683.4L947.9 674.8L960.9 666.3L974 657.8L987 649.2L1000 640.7L1008 635.4"/>
<path d="M684 842.9L698 834.7L712.3 826.7L726.4 818.6L740 810.1L753.3 801.2L766.3 791.9L779.2 782.5L792 773L804.7 763.3L817.3 753.5L830 743.8L842.6 734L855.3 724.3L868 714.6L880.8 705.1L893.8 695.8L906.9 686.6L920.1 677.7L933.3 668.8L942.2 662.9"/>
<path d="M695.5 821.2L710.5 813.5L725.1 805.3L739.2 796.7L752.7 787.5L765.9 778L779.1 768.3L792.1 758.4L805 748.4L817.9 738.3L830.7 728.2L843.6 718L852.2 711.3"/>
<path d="M743.1 780.2L756.8 770.5L770.2 760.6L779.1 753.9"/>
<path d="M1397 457C1395.8 462.8 1393.3 474.8 1390 492C1386.7 509.2 1380.8 538.7 1377 560C1373.2 581.3 1369.8 600 1367 620C1364.2 640 1361.7 660 1360 680C1358.3 700 1357.7 721.3 1357 740C1356.3 758.7 1356.2 783.3 1356 792" stroke-width="1.2"/>
<path d="M1392 457C1390.7 462.8 1387.5 474.8 1384 492C1380.5 509.2 1374.8 538.7 1371 560C1367.2 581.3 1363.8 600 1361 620C1358.2 640 1355.8 660 1354 680C1352.2 700 1350.8 721.3 1350 740C1349.2 758.7 1349.2 783.3 1349 792" stroke-width="1.2"/>
<path d="M1352.5 652L1350 708" stroke-width="4"/>
<path d="M1344 700L1356 700L1350 714Z" stroke-width="1" fill="#000"/>
<path d="M1505 696L1747.5 613.8L1765 657.5L1520 740ZM1527 688.5L1542.3 732.5M1549.1 681L1564.5 725M1571.1 673.6L1586.8 717.5M1593.2 666.1L1609.1 710M1615.2 658.6L1631.4 702.5M1637.3 651.1L1653.6 695M1659.3 643.7L1675.9 687.5M1681.4 636.2L1698.2 680M1703.4 628.7L1720.5 672.5M1725.5 621.2L1742.7 665M1512.5 718L1756.2 635.6"/>
<path d="M1505 696L1455 753" stroke-width="1.3"/>
<path d="M1478 727L1468 722" stroke-width="1.2"/>
<path d="M1470 740L1462 735" stroke-width="1.2"/>
<path d="M1497 722L1512 742" stroke-width="1.1"/>
<path d="M1545 690L1745 606" stroke-width="1.1"/>
<path d="M1538 682L1543 698M1558 673.6L1563 689.6M1578 665.2L1583 681.2M1598 656.8L1603 672.8M1618 648.4L1623 664.4M1638 640L1643 656M1658 631.6L1663 647.6M1678 623.2L1683 639.2M1698 614.8L1703 630.8M1718 606.4L1723 622.4M1738 598L1743 614" stroke-width="1.1"/>
<path d="M1600 664L1742 610" stroke-width="1"/>
<circle cx="1813.8" cy="635" r="9" stroke-width="1.3" fill="none"/>
<path d="M1790 642.5L1805 638" stroke-width="1.2"/>
<path d="M1822.5 632L1837.5 626" stroke-width="1.2"/>
<path d="M1756.9 604.1L1799.1 591.9M1763.1 605.9L1794.8 596.8M1769.4 607.8L1790.5 601.7M1775.6 609.6L1786.2 606.6M1781.9 611.5L1789 636.5" stroke-width="1.1"/>
<path d="M1840 585L1836 612L1862 650" stroke-width="1.1"/>
<path d="M2043.8 575L2017.5 473.8L2125 455L2220 450L2387.5 536.2L2387.5 552.5" stroke-width="1.3"/>
<path d="M2250 470L2385 549" stroke-width="1.2"/>
<path d="M2037.3 538.4L2043.8 572.5M2045.3 544.8L2050 570.6M2050.5 535.4L2056.2 568.7M2058.5 541.8L2062.4 566.7M2063.9 532.4L2068.7 564.8M2071.6 538.8L2074.9 562.9M2077.2 529.4L2081.2 561.1M2084.7 535.8L2087.4 559.3M2090.5 526.4L2093.7 557.6M2097.9 533L2100.1 556M2103.8 523.6L2106.4 554.6M2111.1 530.1L2112.8 553.2M2117.1 520.7L2119.2 552M2124.2 527.3L2125.6 551M2130.4 517.9L2132.1 550M2137.5 524.6L2138.6 549M2143.8 515.5L2145 548.2M2150.7 522.4L2151.5 547.3M2157.2 513.4L2157.9 546.4M2164.1 520.4L2164.4 545.6M2170.7 511.4L2170.9 544.8M2177.4 518.5L2177.3 544M2184.2 509.7L2183.8 543.3M2190.8 516.9L2190.3 542.6M2197.7 508.2L2196.8 542M2204.2 515.6L2203.3 541.5M2211.3 507.1L2209.8 541.1M2217.7 514.7L2216.3 540.9M2224.8 506.5L2222.9 540.8M2231.1 514.4L2229.4 540.8M2238.4 506.4L2235.9 540.9M2244.6 514.4L2242.4 541.1M2252 506.5L2248.9 541.3M2258.1 514.6L2255.5 541.6M2265.6 506.8L2262 541.9M2271.5 514.9L2268.5 542.2M2279.2 507.1L2275 542.5M2285 515L2281.5 542.8M2292.8 507L2288 543.1M2298.5 514.9L2294.5 543.5M2306.4 507.6L2301 543.9M2311.8 516.9L2307.5 544.4M2319.2 511.6L2314 544.9M2323.8 523L2320.5 545.5M2330.2 518.9L2327 546.1M2334.6 531L2333.5 546.8M2340 527L2340 547.5" stroke-width="1.2"/>
<path d="M2038.8 546.2L2045.3 544.8L2051.9 543.3L2058.5 541.8L2065 540.3L2071.6 538.8L2078.2 537.3L2084.7 535.8L2091.3 534.4L2097.9 533L2104.5 531.5L2111.1 530.1L2117.7 528.7L2124.2 527.3L2130.8 525.9L2137.5 524.6L2144.1 523.5L2150.7 522.4L2157.4 521.4L2164.1 520.4L2170.7 519.4L2177.4 518.5L2184.1 517.7L2190.8 516.9L2197.5 516.2L2204.2 515.6L2210.9 515.1L2217.7 514.7L2224.4 514.5L2231.1 514.4L2237.9 514.4L2244.6 514.4L2251.3 514.5L2258.1 514.6L2264.8 514.8L2271.5 514.9L2278.3 515L2285 515L2291.7 514.9L2298.5 514.9L2305.2 515.5L2311.8 516.9L2318 519.5L2323.8 523L2329.3 526.8L2334.6 531L2340 535" stroke-width="1.2"/>
<path d="M2043.8 572.5L2050 570.6L2056.2 568.7L2062.4 566.7L2068.7 564.8L2074.9 562.9L2081.2 561.1L2087.4 559.3L2093.7 557.6L2100.1 556L2106.4 554.6L2112.8 553.2L2119.2 552L2125.6 551L2132.1 550L2138.6 549L2145 548.2L2151.5 547.3L2157.9 546.4L2164.4 545.6L2170.9 544.8L2177.3 544L2183.8 543.3L2190.3 542.6L2196.8 542L2203.3 541.5L2209.8 541.1L2216.3 540.9L2222.9 540.8L2229.4 540.8L2235.9 540.9L2242.4 541.1L2248.9 541.3L2255.5 541.6L2262 541.9L2268.5 542.2L2275 542.5L2281.5 542.8L2288 543.1L2294.5 543.5L2301 543.9L2307.5 544.4L2314 544.9L2320.5 545.5L2327 546.1L2333.5 546.8L2340 547.5" stroke-width="1.2"/>
<path d="M2041.2 559.4L2047.7 557.7L2054.1 556L2060.4 554.2L2066.9 552.5L2073.3 550.9L2079.7 549.2L2086.1 547.6L2092.5 546L2099 544.5L2105.5 543L2111.9 541.7L2118.4 540.4L2124.9 539.1L2131.5 537.9L2138 536.8L2144.6 535.8L2151.1 534.8L2157.7 533.9L2164.2 533L2170.8 532.1L2177.4 531.3L2184 530.5L2190.6 529.7L2197.2 529.1L2203.8 528.6L2210.4 528.1L2217 527.8L2223.6 527.6L2230.3 527.6L2236.9 527.6L2243.5 527.7L2250.1 527.9L2256.8 528.1L2263.4 528.3L2270 528.6L2276.6 528.8L2283.3 528.9L2289.9 529L2296.5 529.2L2303.1 529.7L2309.7 530.7L2316 532.2L2322.2 534.2L2328.2 536.5L2334.1 538.9L2340 541.2" stroke-width="1.2"/>
<path d="M2340 535L2340 547.5" stroke-width="1.2"/>
<path d="M2055.4 469.5L2112.6 460.5M2061.7 472.3L2107.5 465M2068 475L2102.3 469.6M2074.3 477.8L2097.2 474.1M2080.6 480.5L2092 478.7M2086.9 483.3L2092.8 520.8" stroke-width="1.1"/>
<path d="M2160 455.4L2208 454.6M2164.9 458.8L2203.3 458.2M2169.7 462.3L2198.5 461.7M2174.6 465.7L2193.8 465.3M2179.4 469.1L2189 468.9M2184.3 472.5L2184.9 506.5" stroke-width="1.1"/>
<path d="M2248.9 462.3L2279.1 477.7M2250.4 466.7L2274.7 479M2252 471.1L2270.2 480.3M2253.6 475.5L2265.7 481.6M2255.2 479.9L2261.2 482.9M2256.7 484.3L2245.8 505.6" stroke-width="1.1"/>
<circle cx="2028.8" cy="549.5" r="7" stroke-width="1.3" fill="none"/>
<path d="M2342 510C2350 512.8 2373.7 523.3 2390 527C2406.3 530.7 2423.8 529.7 2440 532C2456.2 534.3 2469.5 538.5 2487 541C2504.5 543.5 2535.3 546 2545 547" stroke-width="2.6"/>
<circle cx="2392" cy="529" r="3.4" fill="#000" stroke="none"/>
<circle cx="2442" cy="534" r="3.4" fill="#000" stroke="none"/>
<circle cx="2490" cy="542" r="3.4" fill="#000" stroke="none"/>
<path d="M2536 541L2550 548L2536 553Z" stroke-width="1" fill="#000"/>
<path d="M2325 500C2337.5 501.3 2375.8 505 2400 508C2424.2 511 2446.2 514.3 2470 518C2493.8 521.7 2530.8 528 2543 530" stroke-width="1.1"/>
<path d="M2355 498L2350 509M2403 503L2398 514M2451 509L2446 520M2499 517L2494 528" stroke-width="1.1"/>
<path d="M2387.5 552.5L2505 573" stroke-width="1.2"/>
<path d="M2510 556L2507 570" stroke-width="1.3"/>
<path d="M2507 570C2515.8 572.3 2544.2 579.4 2560 584C2575.8 588.6 2581.2 590 2602 597.5C2622.8 605 2664.3 620.7 2685 628.8C2705.7 636.8 2711.8 640.4 2726 646C2740.2 651.6 2755.2 656.8 2770 662.5C2784.8 668.2 2800.7 674.2 2815 680C2829.3 685.8 2842.8 691.2 2856 697C2869.2 702.8 2887.7 712 2894 715" stroke-width="2.4"/>
<circle cx="2520" cy="573" r="3.2" fill="#000" stroke="none"/>
<circle cx="2560" cy="584" r="3.2" fill="#000" stroke="none"/>
<circle cx="2602" cy="597.5" r="3.2" fill="#000" stroke="none"/>
<circle cx="2644" cy="612" r="3.2" fill="#000" stroke="none"/>
<circle cx="2685" cy="628.8" r="3.2" fill="#000" stroke="none"/>
<circle cx="2726" cy="646" r="3.2" fill="#000" stroke="none"/>
<circle cx="2770" cy="662.5" r="3.2" fill="#000" stroke="none"/>
<circle cx="2815" cy="680" r="3.2" fill="#000" stroke="none"/>
<circle cx="2856" cy="697" r="3.2" fill="#000" stroke="none"/>
<circle cx="2894" cy="715" r="3.2" fill="#000" stroke="none"/>
<path d="M2507 562C2515.8 564.2 2536.2 567.8 2560 575C2583.8 582.2 2618.3 593.7 2650 605C2681.7 616.3 2716.7 629.7 2750 643C2783.3 656.3 2823 674.7 2850 685C2877 695.3 2901.7 701.7 2912 705" stroke-width="1.1"/>
<path d="M2541.4 566.8L2542.4 579.8M2584.2 582.3L2585.2 595.3M2626.9 597.9L2627.9 610.9M2669.7 613.4L2670.7 626.4M2712.5 635L2713.5 648M2755.3 650.6L2756.3 663.6M2798.1 666.1L2799.1 679.1M2840.8 681.7L2841.8 694.7M2883.6 697.2L2884.6 710.2" stroke-width="1.1"/>
<path d="M2602 588C2604 587.2 2610.7 583 2614 583C2617.3 583 2620.8 585.8 2622 588C2623.2 590.2 2621.2 594.7 2621 596" stroke-width="1.1"/>
<circle cx="2462.5" cy="588.8" r="8" stroke-width="1.4" fill="none"/>
<path d="M2452 598L2480 571" stroke-width="1.3"/>
<circle cx="2930" cy="668" r="4.5" fill="#000" stroke="none"/>
<path d="M2931 668L2903.5 737.5" stroke-width="1.3"/>
<path d="M2931 668C2934 690 2933 708 2940 715L3097 793L3141 778" stroke-width="2.4"/>
<path d="M3141 778L3150 771" stroke-width="1.3"/>
<path d="M3138 770L3146 782" stroke-width="1.2"/>
<circle cx="2953.5" cy="737.5" r="3.6" fill="#000" stroke="none"/>
<circle cx="2998.5" cy="759" r="3.6" fill="#000" stroke="none"/>
<circle cx="3048.5" cy="781" r="3.6" fill="#000" stroke="none"/>
<circle cx="3098.5" cy="804" r="3.6" fill="#000" stroke="none"/>
<circle cx="3141" cy="790" r="3.6" fill="#000" stroke="none"/>
<path d="M2975 734L2976 743M3020 756L3021 765M3060 777L3061 786" stroke-width="1.1"/>
<path d="M3108 812L3096 842" stroke-width="1.2"/>
<path d="M3141 790C3145.8 790 3160 788.3 3170 790C3180 791.7 3187.5 792.5 3201 800C3214.5 807.5 3237.8 824.7 3251 835C3264.2 845.3 3271.8 854.5 3280 862C3288.2 869.5 3296.7 877 3300 880" stroke-width="1"/>
<path d="M3108 812C3127.7 819.7 3181.3 838.8 3226 858C3270.7 877.2 3337.7 909 3376 927C3414.3 945 3428.7 951.8 3456 966C3483.3 980.2 3516.5 1000.2 3540 1012C3563.5 1023.8 3587.5 1032.8 3597 1037" stroke-width="2.2"/>
<circle cx="3136" cy="829" r="3.2" fill="#000" stroke="none"/>
<circle cx="3176" cy="847" r="3.2" fill="#000" stroke="none"/>
<circle cx="3268" cy="887" r="3.2" fill="#000" stroke="none"/>
<circle cx="3356" cy="920" r="3.2" fill="#000" stroke="none"/>
<circle cx="3406" cy="942" r="3.2" fill="#000" stroke="none"/>
<circle cx="3456" cy="967" r="3.2" fill="#000" stroke="none"/>
<circle cx="3503" cy="992" r="3.2" fill="#000" stroke="none"/>
<circle cx="3541" cy="1012" r="3.2" fill="#000" stroke="none"/>
<circle cx="3588" cy="1032" r="3.2" fill="#000" stroke="none"/>
<path d="M3115 806C3133.5 813.3 3182.5 831.2 3226 850C3269.5 868.8 3337.7 901 3376 919C3414.3 937 3428.7 944 3456 958C3483.3 972 3514.5 991.2 3540 1003C3565.5 1014.8 3597.5 1024.7 3609 1029" stroke-width="1.1"/>
<path d="M3136.8 803.4L3137.8 816.4M3175.9 821.3L3176.9 834.3M3215.1 839.2L3216.1 852.2M3254.2 857.1L3255.2 870.1M3293.4 875L3294.4 888M3332.6 893L3333.6 906M3371.8 910.9L3372.8 923.9M3410.9 928.8L3411.9 941.8M3450.1 946.7L3451.1 959.7M3489.2 964.6L3490.2 977.6M3528.4 982.5L3529.4 995.5M3567.6 1000.5L3568.6 1013.5" stroke-width="1.1"/>
<path d="M3609 1029L3597 1057" stroke-width="1.2"/>
<circle cx="3298.5" cy="882.5" r="8" stroke-width="1.3" fill="none"/>
<path d="M3657 1070L3715 1098M3660 1078L3712 1106M3657 1070L3660 1078M3662 1072L3672 1090M3672 1077L3664 1084M3674 1078L3684 1096M3684 1083L3676 1090M3686 1084L3696 1102M3696 1089L3688 1096M3698 1090L3708 1106M3708 1095L3700 1102" stroke-width="1.2"/>
<path d="M3600 1040C3605 1042 3620.5 1047 3630 1052C3639.5 1057 3652.5 1067 3657 1070" stroke-width="1.1"/>
<path d="M1082.5 1102.5L1110 1180L1137.5 1170L1110 1090" stroke-width="1.2"/>
<path d="M1118 1178L1192.5 1378.5" stroke-width="1.2"/>
<path d="M1126 1174L1200 1371" stroke-width="1.1" stroke-dasharray="26 8"/>
<path d="M1348.8 815L1352.5 866" stroke-width="1.1" stroke-dasharray="22 7"/>
<path d="M1355 815L1359 866" stroke-width="1.1" stroke-dasharray="22 7"/>
<path d="M1352 880L1356 975" stroke-width="1.1" stroke-dasharray="22 7"/>
<path d="M1359 880L1363 975" stroke-width="1.1" stroke-dasharray="22 7"/>
<circle cx="1352" cy="928" r="3.4" fill="#000" stroke="none"/>
<path d="M1382.5 966L1335 985" stroke-width="1.1" stroke-dasharray="36 7 3 7"/>
<path d="M1382.5 966L1422.5 1366" stroke-width="1.1" stroke-dasharray="40 7 3 7"/>
<path d="M1095 1267.5L1052 1289" stroke-width="2.2"/>
<path d="M1045 1292.5L1058 1281L1061 1290Z" stroke-width="1" fill="#000"/>
<path d="M2860 1114L2900 1140" stroke-width="2"/>
<path d="M2856 1111L2868 1113L2863 1121Z" stroke-width="1" fill="#000"/>
<circle cx="1436" cy="772.5" r="8" stroke-width="1.3" fill="none"/>
<circle cx="998" cy="853" r="7" stroke-width="1.2" fill="none"/>
<path d="M3173.8 989L3194.7 993.5M3168.7 1000.1L3192.1 1002.8M3164.1 1011.4L3190 1012.1M3161.5 1023.4L3189.1 1021.7M3160.8 1035.6L3190.7 1031.2M3160.2 1047.8L3194.6 1040M3160 1060L3199 1048.5" stroke-width="1.3"/>
<path d="M3173.8 989L3168.7 1000.1L3164.1 1011.4L3161.5 1023.4L3160.8 1035.6L3160.2 1047.8L3160 1060" stroke-width="1.3"/>
<path d="M3194.7 993.5L3192.1 1002.8L3190 1012.1L3189.1 1021.7L3190.7 1031.2L3194.6 1040L3199 1048.5" stroke-width="1.3"/>
<path d="M3184.2 991.2L3180.4 1001.4L3177 1011.8L3175.3 1022.5L3175.7 1033.4L3177.4 1043.9L3179.5 1054.2" stroke-width="1.3"/>
<path d="M3160 1060L3199 1048.5M3168.3 1068.1L3206.7 1056M3176.5 1076.3L3214.4 1063.5M3184.7 1084.4L3222.1 1071.1M3193 1092.6L3229.8 1078.6M3201.3 1100.7L3237.5 1086.1M3209.5 1108.8L3245.3 1093.6M3217.8 1117L3253 1101.1M3226.1 1125.1L3260.7 1108.7M3234.4 1133.2L3268.4 1116.2M3242.7 1141.2L3276.1 1123.7M3251 1149.3L3283.8 1131.2M3259.4 1157.4L3291.5 1138.7M3267.7 1165.4L3299.3 1146.3M3276 1173.5L3307 1153.8M3284.4 1181.5L3314.7 1161.3M3292.7 1189.6L3322.4 1168.8" stroke-width="1.3"/>
<path d="M3160 1060L3168.3 1068.1L3176.5 1076.3L3184.7 1084.4L3193 1092.6L3201.3 1100.7L3209.5 1108.8L3217.8 1117L3226.1 1125.1L3234.4 1133.2L3242.7 1141.2L3251 1149.3L3259.4 1157.4L3267.7 1165.4L3276 1173.5L3284.4 1181.5L3292.7 1189.6" stroke-width="1.3"/>
<path d="M3199 1048.5L3206.7 1056L3214.4 1063.5L3222.1 1071.1L3229.8 1078.6L3237.5 1086.1L3245.3 1093.6L3253 1101.1L3260.7 1108.7L3268.4 1116.2L3276.1 1123.7L3283.8 1131.2L3291.5 1138.7L3299.3 1146.3L3307 1153.8L3314.7 1161.3L3322.4 1168.8" stroke-width="1.3"/>
<path d="M3173 1056.2L3181.1 1064.1L3189.1 1072L3197.2 1080L3205.3 1087.9L3213.4 1095.8L3221.4 1103.8L3229.5 1111.7L3237.6 1119.6L3245.7 1127.5L3253.8 1135.4L3262 1143.3L3270.1 1151.2L3278.2 1159L3286.3 1166.9L3294.5 1174.8L3302.6 1182.7" stroke-width="1.3"/>
<path d="M3186 1052.3L3193.9 1060.1L3201.8 1067.8L3209.7 1075.5L3217.6 1083.2L3225.5 1091L3233.3 1098.7L3241.2 1106.4L3249.1 1114.1L3257.1 1121.8L3265 1129.5L3272.9 1137.3L3280.8 1144.9L3288.7 1152.6L3296.7 1160.3L3304.6 1168L3312.5 1175.7" stroke-width="1.3"/>
<path d="M3292.7 1189.6L3322.4 1168.8" stroke-width="1.3"/>
<path d="M3361 1245L3383.5 1217.5M3368.4 1252.5L3390.9 1224.9M3375.9 1260L3398.3 1232.4M3383.3 1267.4L3405.6 1239.8M3390.8 1274.9L3413 1247.2M3398.2 1282.4L3420.4 1254.7M3405.6 1289.9L3427.8 1262.1M3413.1 1297.3L3435.2 1269.6M3420.5 1304.8L3442.5 1277M3427.9 1312.3L3449.9 1284.5M3435.3 1319.9L3457.2 1291.9M3442.7 1327.4L3464.6 1299.4M3450 1335L3471.9 1306.9M3457.3 1342.6L3479.2 1314.4M3464.5 1350.3L3486.5 1321.9M3471.7 1358L3493.7 1329.5M3478.8 1365.8L3501 1337.1M3485.9 1373.6L3508.2 1344.7M3492.9 1381.5L3515.4 1352.3M3500 1389.4L3522.5 1360M3507 1397.2L3529.6 1367.7M3514 1405.1L3536.6 1375.5M3520.9 1413.1L3543.5 1383.3M3527.8 1421L3550.4 1391.2M3534.7 1429L3557.3 1399.1M3541.6 1437L3564.1 1407.1M3548.5 1445L3571 1415" stroke-width="1.3"/>
<path d="M3361 1245L3368.4 1252.5L3375.9 1260L3383.3 1267.4L3390.8 1274.9L3398.2 1282.4L3405.6 1289.9L3413.1 1297.3L3420.5 1304.8L3427.9 1312.3L3435.3 1319.9L3442.7 1327.4L3450 1335L3457.3 1342.6L3464.5 1350.3L3471.7 1358L3478.8 1365.8L3485.9 1373.6L3492.9 1381.5L3500 1389.4L3507 1397.2L3514 1405.1L3520.9 1413.1L3527.8 1421L3534.7 1429L3541.6 1437L3548.5 1445" stroke-width="1.3"/>
<path d="M3383.5 1217.5L3390.9 1224.9L3398.3 1232.4L3405.6 1239.8L3413 1247.2L3420.4 1254.7L3427.8 1262.1L3435.2 1269.6L3442.5 1277L3449.9 1284.5L3457.2 1291.9L3464.6 1299.4L3471.9 1306.9L3479.2 1314.4L3486.5 1321.9L3493.7 1329.5L3501 1337.1L3508.2 1344.7L3515.4 1352.3L3522.5 1360L3529.6 1367.7L3536.6 1375.5L3543.5 1383.3L3550.4 1391.2L3557.3 1399.1L3564.1 1407.1L3571 1415" stroke-width="1.3"/>
<path d="M3372.2 1231.2L3379.7 1238.7L3387.1 1246.2L3394.5 1253.6L3401.9 1261.1L3409.3 1268.5L3416.7 1276L3424.1 1283.5L3431.5 1290.9L3438.9 1298.4L3446.3 1305.9L3453.6 1313.4L3461 1321L3468.2 1328.5L3475.5 1336.1L3482.7 1343.8L3489.9 1351.4L3497 1359.2L3504.1 1366.9L3511.2 1374.7L3518.3 1382.5L3525.3 1390.3L3532.2 1398.2L3539.1 1406.1L3546 1414.1L3552.9 1422L3559.8 1430" stroke-width="1.3"/>
<path d="M3361 1245L3383.5 1217.5" stroke-width="1.3"/>
<path d="M3548.5 1445L3571 1415" stroke-width="1.3"/>
<path d="M3368.5 1132.5L3176 1350" stroke-width="1.3"/>
<path d="M3408.5 1167.5L3233.5 1372.5" stroke-width="1.3"/>
<path d="M3293.5 1035L3368.5 1127.5L3408.5 1162.5" stroke-width="1.1" stroke-dasharray="30 6 3 6"/>
<path d="M3408.5 1164C3418 1158 3430 1160 3438 1172L3591 1372.5" stroke-width="1.2"/>
<path d="M3436 1180L3566 1350" stroke-width="1.1" stroke-dasharray="60 30"/>
<path d="M3200 1000C3200 1030 3215 1045 3240 1030" stroke-width="1"/>
<path d="M3222 1003C3228.3 1005.8 3248.7 1014.8 3260 1020C3271.3 1025.2 3285 1031.7 3290 1034" stroke-width="1.2"/>
<path d="M3225 1015L3278 1040" stroke-width="1.1"/>
<path d="M3217.9 1011.5L3254.1 1028.5M3222.4 1017.5L3246.6 1028.8M3227 1023.5L3239.1 1029.2M3231.6 1029.5L3221.4 1051.3" stroke-width="1.1"/>
<path d="M3309.4 1073.6L3334.6 1096.4M3311.2 1080L3328.1 1095.2M3313.1 1086.4L3321.5 1094M3315 1092.8L3300.3 1109.2" stroke-width="1.1"/>
<path d="M3439.7 1184.2L3464.3 1215.8M3441 1191.6L3457.5 1212.7M3442.4 1199.1L3450.6 1209.6M3443.7 1206.5L3424.8 1221.2" stroke-width="1.1"/>
<path d="M3492.9 1257.8L3515.1 1286.2M3493.9 1264.7L3508.6 1283.6M3494.8 1271.6L3502.2 1281M3495.7 1278.5L3476.8 1293.2" stroke-width="1.1"/>
<path d="M3535.5 1316.6L3556.5 1343.4M3536.3 1323.2L3550.2 1341.1M3537 1329.8L3544 1338.8M3537.7 1336.5L3522 1348.8" stroke-width="1.1"/>
<circle cx="3351" cy="1080" r="10" stroke-width="1.5" fill="#000"/>
<path stroke="#fff" d="M3344 1082A7 5 0 0 1 3358 1082" stroke-width="1.6"/>
<circle cx="3315" cy="1021" r="8" stroke-width="1.3" fill="none"/>
<path d="M3315 1012L3315 1047.5" stroke-width="1.4"/>
<circle cx="3368.5" cy="1129" r="3" fill="#000" stroke="none"/>
<circle cx="3292" cy="1034" r="3" fill="#000" stroke="none"/>
<path d="M1690.5 842.8Q1700.9 848.3 1706.2 837.7M1724.1 828.4Q1735.1 831.8 1741.6 822.8M1741.5 822.6Q1754.3 830 1760.7 816.7M1760.9 817.1Q1771.5 822.7 1778.6 811.7M1789.1 809.8Q1797.9 816.2 1800.9 806.2M1801.1 807.1Q1812.3 811.6 1818.8 801.8M1819 802.5Q1832.2 806.7 1840 796.3M1839.2 793.3Q1848.8 798.9 1852.9 789.2M1853.9 792.6Q1866.7 795.4 1873.5 786.7M1872.9 784.8Q1882.9 790.3 1886.4 780.6M1886.7 781.8Q1895.1 786 1898.9 778M1898.9 777.9Q1908.2 782.3 1913.4 773.1M1930.2 766Q1939 772.8 1943.2 761.4M1942.7 760.1Q1951.8 764.4 1955.2 755.5M1956.2 758.1Q1965.7 765.2 1969.9 752.9M1970 753.1Q1979.9 756.6 1983.2 748.1M1999.9 739.3Q2011.3 742 2018.5 732.5" stroke-width="1.2"/>
<path d="M1660.6 871.7Q1670.7 877.7 1675.5 866.8M1689.4 859.2Q1701.6 865.2 1709.5 852.7M1741.3 843.2Q1753.1 846 1761.1 837M1788.3 829.4Q1797.4 833.9 1802.3 825.2M1817.6 820.8Q1828.1 828.4 1834.4 815.8M1857.8 806.8Q1867.6 814.5 1872.8 802.2M1873.5 804.4Q1886.6 807.5 1894.3 797.9M1911.2 789.7Q1923.2 794.6 1929.2 783.6M1930.5 787.3Q1941.8 792.3 1948.7 780.8" stroke-width="1.2"/>
<path d="M1650.3 893.1Q1662.5 899.5 1668.7 887M1668.6 886.8Q1681.9 893.4 1688.7 880.2M1688.9 880.9Q1699.4 887.1 1704.3 875.9M1704 874.9Q1713.5 881.2 1719 870M1719.2 870.5Q1732 876.3 1740 863.7M1740.2 864.2Q1750.6 870.8 1757.2 858.8M1756.7 857.4Q1764.7 864.7 1768.5 853.8M1769 855.5Q1779.2 858.8 1785.2 850.5M1784.4 847.8Q1793.5 855.7 1798.8 843.4M1799.5 846.1Q1810.6 852.4 1817.4 840.8M1817.3 840.4Q1827 848.4 1830.7 836.5M1830.1 834.6Q1839.6 840.5 1845.3 830.1" stroke-width="1.2"/>
<path d="M2040.3 720.6Q2053.2 724.5 2059.6 714.3M2059.1 712.7Q2067.7 718.4 2072.2 708.7M2072.3 708.8Q2083.7 716.8 2089.8 703.8M2126.8 697.1Q2136.4 702.3 2144.2 694.3M2176.8 689.6Q2187 698.5 2195 687.5M2194.8 685.8Q2206.3 691.5 2216.3 683.6" stroke-width="1.2"/>
<path d="M2020.3 748.5Q2028.2 753.4 2031.7 744.5M2031.5 743.8Q2041.6 750.6 2046.1 738.9M2046.6 740.4Q2056.1 748.1 2061.8 735.5M2080.5 727.5Q2091.5 735.1 2098.1 722.5M2098.2 722.8Q2109.9 727.3 2117.5 718.1M2117.7 718.8Q2128.7 723.9 2136.5 715.1M2136.7 716.4Q2148.2 724.8 2157.5 713.4M2157.4 713Q2165.8 718.4 2172.5 711.2M2172.4 710.8Q2181.6 716 2188.7 708.9M2216.7 706Q2224 712.2 2230.3 704.9M2230.3 705.1Q2239.3 715.3 2247.5 704" stroke-width="1.2"/>
<path d="M2049.5 757Q2059.7 762.6 2065.6 751.8M2066.3 753.9Q2075.9 761.5 2080.5 749.5M2080.2 748.5Q2091.4 756.1 2097.1 743.5M2097.7 745.8Q2106.6 752.6 2111.3 742.2M2110.8 740.4Q2119.6 744.8 2124.5 737.2M2124.4 736.8Q2136.6 743.6 2145.7 732.9M2145.6 731.6Q2155 738.5 2162.4 729.3M2162.5 730.1Q2174.1 735.5 2183.9 727.6M2184.2 730.1Q2193.2 736.7 2200.4 728.2M2200.4 728.3Q2208 737.5 2214.2 726.9M2224.1 723.7Q2234 729.5 2242.9 722.3" stroke-width="1.2"/>
<path d="M2146.3 753.6Q2156.6 761.3 2164.4 751.1" stroke-width="1.2"/>
<path d="M2230 676.9Q2240.3 687 2250 675.8M2250.1 678.1Q2257.3 685.1 2264.3 677.7M2264.3 674.5Q2273.8 682.6 2283.5 674.4M2318.3 679.3Q2327 688.7 2337.1 681.1M2337.2 680Q2346 687.4 2356.6 682.3M2371.8 682.2Q2379.3 690.4 2388.8 684.7M2388.3 687.8Q2397.4 695.6 2408.5 690.9M2408.5 690.3Q2417.7 700.3 2429.7 694M2429.8 693.4Q2436.9 704.4 2446.6 696.9M2468 700.5Q2475.4 711.3 2486.7 705.7M2485.9 708Q2488.9 719.6 2497.6 711.6M2497.8 710.8Q2503.5 723.9 2515.1 716.6M2514.6 717.8Q2520.1 730.7 2533.2 725.4M2533.2 725.4Q2538.4 738 2551.7 733.2M2552.5 731.4Q2557.7 741.1 2570.6 739.2M2571.2 737.8Q2575.2 749.3 2585.3 743.9M2583.9 747.3Q2588.7 758 2600.7 754.5M2601.3 753Q2606.9 766.7 2618.5 760.1M2618.2 760.9Q2622.7 770 2635.3 767.8M2636 765.9Q2641.5 775 2652.9 772.6M2653.1 772Q2657 784.3 2666.1 777.1M2664.8 780.3Q2669.7 793.7 2681.1 786.7M2682.4 783.4Q2687.7 795.9 2699.5 790.1M2699.4 790.5Q2702.1 799.1 2711 795.1M2711.1 794.7Q2714.9 805.4 2726.8 801.1M2726.4 802.2Q2731.5 814.1 2742.3 808.8M2741.8 810.1Q2747 819.1 2758 817M2767.8 821.9Q2772.9 831.5 2785.7 829.7M2787 826.6Q2792.9 838.4 2807.1 835.3M2806.9 835.9Q2811.1 849 2822.3 842.6M2821.1 845.3Q2825.9 857.4 2838.7 853M2839.5 851.1Q2842.8 859.4 2851.6 856.3M2868.5 862.7Q2873.6 873.8 2885.7 869.9M2884.5 872.6Q2889.5 885.4 2902.8 880.2M2923.6 886.1Q2929.9 898.6 2941.9 893.8M2941.5 894.8Q2945.8 904.6 2957.8 901.6M2957.3 902.7Q2959.9 911.2 2970.6 908.3M2971.4 906.5Q2973.5 915 2983 911.6M2993.6 917.1Q2998.9 928.6 3010.7 924.9M3010.5 925.3Q3012.6 934 3023.3 931.2M3023.5 930.8Q3025.2 940 3035.4 936.4M3035.1 937.1Q3039 949 3049.7 944.1M3050.2 943.2Q3055.8 957.5 3069.9 952.7M3070.7 951Q3073.5 960.3 3085.4 958.1M3084.7 959.5Q3086.4 969 3096.3 965.1M3126.3 978.4Q3132.2 989.6 3143.7 986.6M3144 986Q3148.7 998.1 3161.4 994.2M3160.1 997.1Q3166.2 1010.7 3179.3 1006.1M3180.1 1004.2Q3182.5 1016.9 3193.8 1010.6M3193.8 1010.5Q3197.1 1020.8 3207 1016.6M3222.9 1026.1Q3228.4 1036.5 3241.1 1034.4" stroke-width="1.2"/>
<path d="M2300.1 693.6Q2309.4 702.7 2319.6 694.7M2319.3 697.5Q2327 708.3 2336.7 699.1M2336.8 698.4Q2342.2 705.5 2349.3 699.9M2349.7 697.2Q2358 705.1 2368.9 699.7M2368.8 700.4Q2377.4 711.5 2388.1 703.2M2388 703.8Q2395.3 715.8 2405 706.4M2404.9 707Q2412.3 718 2423.3 710.2M2423.1 711.3Q2431.3 723.5 2443.8 715.7M2443.7 715.9Q2450.6 727.2 2463.1 720.7M2463.2 720.4Q2469.2 730.5 2479.8 725M2479.6 725.7Q2483.6 734.2 2492.4 729.6M2493.3 727Q2496.3 735.1 2506.6 731.4M2535.2 745.9Q2540.4 755.1 2550.5 752.3M2562.2 754.4Q2568.2 765 2579.8 762M2579.6 762.4Q2582.5 774.3 2592.2 767.7M2615 778.1Q2620.8 789.9 2634.6 786M2655.1 793.9Q2661.3 804.5 2673.7 801.3M2674.2 800.2Q2682.1 812 2694.5 808.2M2693.8 810Q2697.7 819.2 2708.4 815.8M2709.1 814.1Q2711.4 824.6 2721.7 819.3M2721.7 819.3Q2726.8 829.1 2738.6 826.4M2764.7 836.7Q2771.2 849.5 2783.5 844.8M2782.9 846.2Q2784.6 856.9 2794.8 851.3M2794.3 852.5Q2800.5 866.3 2813.2 860.6M2814.1 858.5Q2816.5 869 2825.9 863.7M2825.8 864.1Q2829 872.6 2838.2 869.5M2837.6 871Q2841.4 882.6 2851.4 876.9M2851.8 876Q2853.6 887.9 2863.8 881.1M2947.7 916.5Q2951.6 926.5 2961.4 922.3M2961.9 921.3Q2966.4 933.3 2976.5 927.6M2976 928.7Q2979 938.8 2990 934.9M3003.4 941.7Q3006.3 951.7 3015.1 947.1M3016.2 944.9Q3022.3 955.4 3034.6 953.6M3034.6 953.5Q3036 963.7 3046.6 959.3M3045.4 961.8Q3048.7 972.6 3060.8 969.2M3062.1 966.5Q3065.5 978.4 3075.9 973.1M3074.8 975.5Q3080.7 985.7 3094.4 984.9M3094.4 984.9Q3098.6 995.3 3108.3 991.5M3108 992.1Q3111.9 1001.9 3123.4 999.4M3123.9 998.4Q3129.5 1010.2 3141.7 1006.7M3141 1008.3Q3143.4 1019.8 3153.1 1014M3193.4 1031.6Q3196.7 1044.3 3206.5 1037.7" stroke-width="1.2"/>
<path d="M2620.6 797.9Q2623.8 807 2635.1 803.7M2634.4 805.3Q2641 816 2654 813M2653.6 813.9Q2660.1 824 2673.3 821.7M2701.4 832.9Q2705.4 843.7 2714.7 838.4M2724.2 841.5Q2731.3 854.4 2744.3 850M2744.4 849.8Q2749.4 859.2 2762.2 857.4M2762.9 855.8Q2766.2 866.7 2775.8 861.3M2775.6 861.8Q2778.4 871.5 2788.2 867.2M2809.2 877.7Q2812 887.8 2821.5 883.1M2821.3 883.7Q2825.8 895.1 2838 890.9M2837.8 891.3Q2844.8 903.1 2858 899.9M2858.5 898.7Q2863.4 909.7 2874.8 905.5M2875.5 903.8Q2881.6 917.5 2895 911.9M2893.9 914.4Q2899.9 926.4 2911.7 921.9M2925.1 924.4Q2929.3 935.7 2940.8 931M2940.3 932.3Q2944.1 940.9 2953.5 937.9M2953.1 938.9Q2958.6 950.5 2972.4 947.3M2998 956.3Q3001.8 966.1 3014 963.8M3014.2 963.5Q3018.9 974 3029.9 970.9M3049.8 982.1Q3055 992.1 3068 990.8M3068.1 990.7Q3069.9 1002.9 3079.2 996M3079.3 995.6Q3086 1009.9 3099 1005M3126.3 1017.7Q3128.9 1031 3140.4 1024.3M3140.3 1024.4Q3142.3 1033 3153 1030.4M3152.8 1030.8Q3154.3 1042.9 3164.7 1036.3" stroke-width="1.2"/>
<path d="M2800.7 893.5Q2807.6 904.7 2820.3 902.1M2832.8 910.6Q2836.4 922 2846 916.3M2846.9 914.2Q2853.6 928.1 2866.1 922.3M2887.2 932Q2889.8 942.4 2899.1 936.9M2899.3 936.3Q2902.3 948 2910.8 941.1M2941.1 956.9Q2945 967.3 2953.8 962.4M2953.9 962.2Q2959.4 972.4 2971.8 970M2972.7 968Q2976.8 980.6 2988.7 975.2M2987.9 977Q2991.6 988.4 3003.4 984.2M3031.3 994.8Q3033.8 1006.6 3043.6 1000.7M3043.6 1000.7Q3048.8 1011.4 3061.4 1009.4M3061.8 1008.6Q3065.9 1021.1 3077.8 1016.3M3077.6 1016.9Q3082.7 1026.2 3093.6 1024.5M3093.1 1025.4Q3097.7 1038.1 3108.5 1032.6M3108.3 1033.1Q3110.3 1044.8 3119.8 1038.5" stroke-width="1.2"/>
<path d="M2945.5 979.2Q2948.4 988 2957.3 984.3M2956.3 986.6Q2962.3 997.8 2973.5 994.3M2995.8 1004.6Q2996.7 1013.3 3007 1009.9M3008.3 1007.3Q3012.6 1020.3 3023.2 1014.5M3042.1 1026.7Q3048.9 1038 3061.9 1036.2" stroke-width="1.2"/>
<path d="M2995.8 1026.8Q3002.1 1039.9 3015.4 1036.3" stroke-width="1.2"/>
<path d="M1659.7 860.5Q1668.2 848.6 1680.5 852.3M1680.7 852.7Q1690.8 843.1 1702.8 848.8M1703.1 851.2Q1710.3 843.3 1718.8 849.5M1718.7 848.3Q1727.8 838.4 1737.3 847.3M1737.3 847.5Q1748.7 838 1760 847.4M1759.9 848.9Q1769 841.9 1777.5 849.6M1777.7 846.8Q1787.7 839.9 1795.5 848.5M1795.3 849.9Q1805.2 842 1810.5 852.8M1831.6 860.8Q1839.3 874.6 1836.1 874.5M1790.5 892.8Q1782.7 901.6 1772.6 895.8M1772.6 895.9Q1762.6 904.3 1751.5 897.9M1751.6 898.9Q1741 906.4 1730.5 899.5M1730.6 898.9Q1721.5 904.5 1713.7 897.9M1713.3 900.2Q1700.5 905.6 1693.3 896.5M1694.3 894.4Q1679.5 897.8 1675.5 885.9M1675.9 886.5Q1659.2 879.6 1660.1 869.4" stroke-width="1.3"/>
<path d="M1420.5 921.7Q1426.4 910.6 1437.1 914M1436.8 913.7Q1444.3 903 1455.1 908.8M1454.9 908.5Q1462.1 899.6 1470.4 906M1470.3 904.6Q1479.2 895.4 1488.5 903.7M1509.3 904.7Q1518.8 897 1526.8 906.1M1526.3 906.2Q1540.9 905.8 1544.3 913.2M1545 913Q1548.1 928.2 1542.4 928.5M1542.4 928.8Q1538.5 939.5 1528.1 935.3M1528.1 935.9Q1520.4 947.2 1509 940.7M1508.6 938.7Q1501.1 950.6 1490.8 941.8M1490.8 940.9Q1482.2 950.3 1473.1 942.6M1473.1 946.3Q1464.4 953.3 1456.1 946.4M1456.2 943.4Q1447.4 951.5 1440 942.2M1439.9 943.2Q1427.1 948.8 1422.6 938.8" stroke-width="1.3"/>
<path d="M1449.2 1083.9Q1449.8 1070.7 1463.4 1069.8M1464.6 1071.4Q1466.6 1058.6 1479 1061.5M1477.9 1059.8Q1483.3 1046.3 1495.5 1048.5M1496.3 1050.1Q1502.8 1036.6 1513.2 1041.8M1512.5 1042.2Q1525.7 1037.4 1531 1044.5M1529.9 1044.3Q1542.2 1049 1542.5 1058.3M1544 1057.6Q1552.9 1070.6 1543.1 1078.2M1544.5 1079.1Q1546.4 1090.3 1538 1093.3M1536.6 1092.1Q1534.6 1104.7 1522.7 1104.9M1523.2 1104.7Q1509.4 1117 1503.6 1110.7M1503.5 1111Q1494.9 1108.4 1496.3 1090.4M1495.5 1089.4Q1488.5 1100.9 1474.9 1095.5M1476.3 1095.1Q1464.7 1105.7 1460.8 1096.8" stroke-width="1.3"/>
<path d="M3004.7 999.3Q3011.7 984.7 3024.8 987.1M3024.6 985.9Q3031.5 973.7 3041.6 980M3055.1 980.3Q3065.9 973.5 3076.3 978.9M3076.3 977.9Q3087.1 969 3095.6 979.9M3095.6 979.8Q3109 972.8 3117.4 984.7M3117.9 983.6Q3133.1 979.2 3140 992.3M3138.6 994.2Q3152 993 3151.4 1002.8M3151.7 1001.6Q3162.1 1009.5 3160.2 1017.9M3160.1 1017.4Q3164.9 1028.9 3157.1 1032.4M3157.2 1031.2Q3153 1046.3 3143.9 1042.1M3144.4 1042.5Q3137.5 1055.4 3127.9 1046.6M3128.1 1047.8Q3121.3 1058.9 3112.2 1050.2M3091.7 1052.5Q3082.6 1064.2 3071.4 1055.5M3071.2 1057.7Q3057.2 1063.9 3047.4 1056.8M3048.2 1054.1Q3039 1059.1 3034.7 1049.7M3034.1 1051.2Q3020.7 1051.1 3015.5 1040.4" stroke-width="1.3"/>
<path d="M2039.7 734.1Q2046.4 719 2058 722.9M2058 721.8Q2067.5 708.4 2079.5 716.2M2080 719.1Q2087.7 711.6 2097.8 716.3M2097.6 715.7Q2108 706.3 2117.4 715.5M2117.5 714.5Q2130.3 709 2139.3 717.9M2138.5 719.9Q2152.7 714.6 2160.4 727M2161.2 725.4Q2173.6 723.5 2175.4 733.1M2174.9 733.7Q2186.2 733.7 2186.8 742.8M2186.7 741.8Q2195.5 757.6 2192.5 757.5M2192.8 757.3Q2189.1 767.1 2178.6 764.7M2179.2 767.2Q2169 777.9 2156.1 772.9M2155.7 770.2Q2146 782.2 2134.8 772.8M2134.9 773.1Q2126 780.1 2117.7 773.6M2117.5 774.7Q2106 782.5 2097.3 772.5M2097.2 772.4Q2082.7 776.4 2075.8 764.6M2075.6 764.7Q2064.6 769.1 2062.3 757.5M2063.4 756Q2050.3 757.7 2048.5 745.6" stroke-width="1.3"/>
<path d="M2955.6 621.3Q2962.7 628.7 2971.1 622.7M2971.3 623.3Q2980.9 632.1 2987 622.1M2987.4 622.5Q2999.5 628.9 3006 615.5" stroke-width="1.2"/>
<path d="M2966.8 636.9Q2976.9 645.4 2984 636.9" stroke-width="1.2"/>
<path d="M2951.8 647Q2959.3 657.4 2969.1 650.7M3004.7 643.1Q3016.4 650.3 3022.2 637.8" stroke-width="1.2"/>
<path d="M1429.8 642Q1437.3 650 1447.7 644.6M1457.6 645.5Q1466.1 652.3 1472.4 645.5M1472.3 644.6Q1484 648 1486.6 639.8" stroke-width="1.2"/>
<path d="M1461.8 653.9Q1473.9 660.5 1480.5 651.5M1480.6 652Q1489.7 656.8 1492 647.9" stroke-width="1.2"/>
<path d="M1446.1 660.4Q1453.6 671.7 1462.5 664.3M1473.4 664.7Q1484.9 672.6 1492.2 659.5M1492.2 659.6Q1502.9 664.4 1508.8 654" stroke-width="1.2"/>
<path d="M2170.7 778.7Q2168.8 767.3 2180.2 769.6M2180.2 769.6Q2187.7 760.9 2193.1 770.9M2193.1 770.9Q2203.2 769.8 2201 778.4M2201 778.4Q2208.3 783.8 2199.6 789.4M2199.6 789.4Q2201.5 801.1 2190 798.8M2190 798.8Q2182.5 807.2 2177 796.9M2177 796.9Q2166 798.4 2168 790M2168 790Q2161 784.5 2170.7 778.7M2177.8 782.6Q2180.7 775.4 2189.3 777.5M2180 788.3Q2185 793.4 2190.8 786.9" stroke-width="1.3"/>
<path d="M2271.5 798.1Q2267.6 789.5 2277 788.9M2277 788.9Q2281.3 780.3 2288.7 788.3M2288.7 788.3Q2299.2 784.3 2299.1 792M2299.1 792Q2306.6 795.6 2299.9 802.1M2299.9 802.1Q2303.1 809.9 2292.2 810M2292.2 810Q2287.5 820.6 2280.6 813.7M2280.6 813.7Q2271.8 816.3 2272.5 807.1M2272.5 807.1Q2265.6 803.8 2271.5 798.1M2278.7 798.7Q2281.2 792.4 2288.8 794.3M2280.6 803.8Q2285 808.2 2290 802.5" stroke-width="1.3"/>
<path d="M2503 822.7Q2505.1 815.8 2512.7 821.8M2512.7 821.8Q2521.3 817.5 2522.1 825.3M2522.1 825.3Q2529.8 828.2 2525 833.7M2525 833.7Q2528.5 840.2 2521 841.2M2521 841.2Q2518.6 850.1 2511.1 844.8M2511.1 844.8Q2502.8 848.4 2502.2 838.4M2502.2 838.4Q2493.1 835.5 2497.5 830.1M2497.5 830.1Q2494.3 823.6 2503 822.7M2506.2 830.8Q2508.5 825 2515.5 826.7M2507.9 835.5Q2512 839.6 2516.7 834.3" stroke-width="1.3"/>
<path d="M1998.3 859.9Q1989.6 863.4 1989.4 854.3M1989.4 854.3Q1979 851 1983.7 845.5M1983.7 845.5Q1980.7 838.7 1991.3 838.4M1991.3 838.4Q1994.1 830 2001.7 836.1M2001.7 836.1Q2010.9 832.2 2011.2 841.3M2011.2 841.3Q2021 844.7 2016.1 850.5M2016.1 850.5Q2019.8 858.3 2010.1 859.1M2010.1 859.1Q2007.1 867.5 1998.3 859.9M1993.7 846.7Q1996.2 840.4 2003.8 842.3M1995.6 851.8Q2000 856.2 2005 850.5" stroke-width="1.3"/>
<path d="M2448.5 982.5Q2444.1 967.2 2458.5 968.4M2458.5 968.4Q2467.1 956 2478.2 972.6M2478.2 972.6Q2495.2 969.7 2492.7 982.4M2492.7 982.4Q2504.2 990.3 2493.2 998M2493.2 998Q2496.8 1012.5 2481.1 1010.7M2481.1 1010.7Q2471.3 1025.4 2460.4 1010.2M2460.4 1010.2Q2444 1012.4 2447.5 997.5M2447.5 997.5Q2437.2 990.1 2448.5 982.5M2459.2 987.8Q2463.5 977 2476.5 980.3M2462.4 996.5Q2470 1004 2478.6 994.3" stroke-width="1.3"/>
<path d="M2618.8 1002Q2623.4 1009.6 2616.3 1010.9M2616.3 1010.9Q2614 1018.9 2605.5 1012.5M2605.5 1012.5Q2596.7 1016.8 2595.7 1007M2595.7 1007Q2586.4 1003.8 2591.5 997.7M2591.5 997.7Q2588.1 990.9 2596.5 990M2596.5 990Q2598.7 981.4 2606.5 986.9M2606.5 986.9Q2615.8 982.2 2616.9 992.5M2616.9 992.5Q2624.6 995.7 2618.8 1002M2599.7 998.7Q2602.2 992.4 2609.8 994.3M2601.6 1003.8Q2606 1008.2 2611 1002.5" stroke-width="1.3"/>
<path d="M2855.1 947.4Q2856.9 956.5 2844.5 954.4M2844.5 954.4Q2838.9 964.6 2831 955.5M2831 955.5Q2818.2 958.1 2820.2 945.6M2820.2 945.6Q2810 939 2818.2 933.1M2818.2 933.1Q2815.3 922.3 2826.2 923.4M2826.2 923.4Q2831.1 915.1 2840.1 927.3M2840.1 927.3Q2852.5 924.5 2851.1 934.6M2851.1 934.6Q2862.7 941.6 2855.1 947.4M2828.3 938.5Q2831.4 930.8 2840.6 933.1M2830.6 944.6Q2836 949.9 2842.1 943.1" stroke-width="1.3"/>
<path d="M1553.8 993.9Q1557.4 980.1 1567.4 987.2M1567.4 987.2Q1578.4 982.6 1578.9 995.4M1578.9 995.4Q1589.3 998.6 1583.5 1006.1M1583.5 1006.1Q1588 1014.3 1575.9 1015.9M1575.9 1015.9Q1572.6 1027.5 1562.9 1020.4M1562.9 1020.4Q1550.1 1026.9 1549 1016M1549 1016Q1540.1 1012.6 1547.9 1004M1547.9 1004Q1543.1 995.7 1553.8 993.9M1556.9 1003.4Q1560.1 995.3 1569.9 997.7M1559.3 1009.9Q1565 1015.5 1571.5 1008.2" stroke-width="1.3"/>
<path d="M1554.6 1079.5Q1554.5 1070.8 1563.1 1073.9M1563.1 1073.9Q1569.3 1068.6 1572.1 1076.2M1572.1 1076.2Q1580.6 1076 1578.5 1081.9M1578.5 1081.9Q1583.7 1087 1575.7 1090.7M1575.7 1090.7Q1575.7 1099.4 1566.9 1096.2M1566.9 1096.2Q1560.9 1101.2 1558.1 1093.5M1558.1 1093.5Q1550.5 1093.6 1552.6 1087.8M1552.6 1087.8Q1547.5 1082.9 1554.6 1079.5M1559.6 1083.9Q1561.8 1078.5 1568.2 1080.1M1561.2 1088.2Q1565 1092 1569.3 1087.2" stroke-width="1.3"/>
<path d="M1418 1086.7Q1424.8 1084.1 1424.8 1090.5M1424.8 1090.5Q1429.3 1092.5 1423.7 1097.8M1423.7 1097.8Q1426.4 1103.3 1419.9 1103.9M1419.9 1103.9Q1416.9 1110.8 1412.3 1106.3M1412.3 1106.3Q1406 1108.7 1406 1103M1406 1103Q1401.4 1101 1406 1096.2M1406 1096.2Q1403 1090 1409.5 1089.3M1409.5 1089.3Q1412.8 1081.7 1418 1086.7M1410.5 1096.1Q1412.3 1091.6 1417.7 1093M1411.8 1099.7Q1415 1102.8 1418.6 1098.8" stroke-width="1.3"/>
<path d="M1454.4 1113.3Q1451 1110 1455.2 1108.1M1455.2 1108.1Q1455.3 1103.3 1461 1105.7M1461 1105.7Q1465.1 1102.3 1466.7 1106.7M1466.7 1106.7Q1472 1106.8 1470.5 1110.5M1470.5 1110.5Q1473.4 1113.7 1468.4 1115.7M1468.4 1115.7Q1468.4 1121.4 1463.1 1119.4M1463.1 1119.4Q1458.9 1122.9 1457.1 1117.6M1457.1 1117.6Q1452.5 1117.2 1454.4 1113.3M1458.4 1111.3Q1459.8 1107.7 1464.2 1108.8M1459.5 1114.2Q1462 1116.7 1464.9 1113.4" stroke-width="1.3"/>
<path d="M1381.5 1149.2Q1384 1155.8 1376.3 1155.9M1376.3 1155.9Q1372.5 1163.7 1366.6 1157.4M1366.6 1157.4Q1358.4 1159.8 1358.9 1152.5M1358.9 1152.5Q1351.6 1149.1 1356.5 1144.4M1356.5 1144.4Q1354.4 1138.3 1364.3 1138.9M1364.3 1138.9Q1368.2 1130.3 1373.7 1135.8M1373.7 1135.8Q1381.1 1134 1380.2 1141.9M1380.2 1141.9Q1386.1 1144.9 1381.5 1149.2M1364.6 1145.9Q1366.8 1140.5 1373.2 1142.1M1366.2 1150.2Q1370 1154 1374.3 1149.2" stroke-width="1.3"/>
<path d="M1464.8 1137.7Q1465.1 1130.6 1472.3 1133.6M1472.3 1133.6Q1478.9 1127.6 1482.3 1136M1482.3 1136Q1492.3 1137.1 1488.5 1144.4M1488.5 1144.4Q1492.8 1150 1485.2 1152.3M1485.2 1152.3Q1484.8 1158.3 1477.3 1154.7M1477.3 1154.7Q1471.8 1159.7 1468.9 1152.5M1468.9 1152.5Q1458.9 1151.8 1461.9 1145.6M1461.9 1145.6Q1457.6 1140 1464.8 1137.7M1469.6 1143.9Q1471.8 1138.5 1478.2 1140.1M1471.2 1148.2Q1475 1152 1479.3 1147.2" stroke-width="1.3"/>
<path d="M1526.6 1175.3Q1534.3 1170.4 1535.8 1177.9M1535.8 1177.9Q1542.5 1179.9 1538.2 1185.6M1538.2 1185.6Q1541.6 1190.8 1535.4 1192.2M1535.4 1192.2Q1534.1 1199.1 1527.4 1195.1M1527.4 1195.1Q1518.9 1200.7 1517.2 1192.9M1517.2 1192.9Q1509.2 1190.6 1513.8 1184.3M1513.8 1184.3Q1509.6 1178 1516.9 1176.3M1516.9 1176.3Q1518.3 1169.6 1526.6 1175.3M1521.6 1183.9Q1523.8 1178.5 1530.2 1180.1M1523.2 1188.2Q1527 1192 1531.3 1187.2" stroke-width="1.3"/>
<path d="M1716.1 1091.7Q1706.9 1091.8 1709.6 1084.1M1709.6 1084.1Q1703.6 1078.4 1713.1 1073.8M1713.1 1073.8Q1712.5 1061.2 1722.4 1064.4M1722.4 1064.4Q1730.6 1057.2 1734.5 1067.5M1734.5 1067.5Q1744.3 1067.4 1741.3 1075.6M1741.3 1075.6Q1748.5 1082.1 1738.7 1087.1M1738.7 1087.1Q1739 1099.5 1727.5 1095.5M1727.5 1095.5Q1719.9 1102 1716.1 1091.7M1717.8 1078.6Q1720.7 1071.4 1729.3 1073.5M1720 1084.3Q1725 1089.4 1730.8 1082.9" stroke-width="1.3"/>
<ellipse cx="2262" cy="740" rx="4.6" ry="3.1" stroke-width="1.1" transform="rotate(5.4 2262 740)"/>
<ellipse cx="2320" cy="742" rx="3.8" ry="2.5" stroke-width="1.1" transform="rotate(32.3 2320 742)"/>
<ellipse cx="2402" cy="758" rx="3.6" ry="2.4" stroke-width="1.1" transform="rotate(-16.1 2402 758)"/>
<ellipse cx="2299" cy="835" rx="4.2" ry="2.8" stroke-width="1.1" transform="rotate(-19.3 2299 835)"/>
<ellipse cx="2456" cy="835" rx="3.5" ry="2.4" stroke-width="1.1" transform="rotate(-5.7 2456 835)"/>
<ellipse cx="2577" cy="776" rx="3.7" ry="2.5" stroke-width="1.1" transform="rotate(-11.3 2577 776)"/>
<ellipse cx="2625" cy="790" rx="3.7" ry="2.4" stroke-width="1.1" transform="rotate(-3.9 2625 790)"/>
<ellipse cx="2680" cy="846" rx="3" ry="2" stroke-width="1.1" transform="rotate(26.9 2680 846)"/>
<ellipse cx="2550" cy="860" rx="3" ry="2" stroke-width="1.1" transform="rotate(2.2 2550 860)"/>
<ellipse cx="2718" cy="890" rx="3.9" ry="2.6" stroke-width="1.1" transform="rotate(-8 2718 890)"/>
<ellipse cx="1964" cy="822" rx="3.3" ry="2.2" stroke-width="1.1" transform="rotate(-32.1 1964 822)"/>
<ellipse cx="1993" cy="933" rx="3.5" ry="2.4" stroke-width="1.1" transform="rotate(-14.8 1993 933)"/>
<ellipse cx="2397" cy="778" rx="3.8" ry="2.5" stroke-width="1.1" transform="rotate(-21.6 2397 778)"/>
<ellipse cx="2058" cy="820" rx="4.2" ry="2.8" stroke-width="1.1" transform="rotate(-1 2058 820)"/>
<ellipse cx="2598" cy="745" rx="2.9" ry="1.9" stroke-width="1.1" transform="rotate(-7.5 2598 745)"/>
<ellipse cx="2690" cy="770" rx="4.6" ry="3.1" stroke-width="1.1" transform="rotate(-39.4 2690 770)"/>
<ellipse cx="2866" cy="890" rx="3.9" ry="2.6" stroke-width="1.1" transform="rotate(36.9 2866 890)"/>
<ellipse cx="3086" cy="1108" rx="3.5" ry="2.4" stroke-width="1.1" transform="rotate(7.8 3086 1108)"/>
<ellipse cx="3382" cy="1318" rx="3.5" ry="2.4" stroke-width="1.1" transform="rotate(-15.9 3382 1318)"/>
<ellipse cx="3345" cy="1345" rx="4" ry="2.7" stroke-width="1.1" transform="rotate(7.2 3345 1345)"/>
<ellipse cx="3313" cy="1363" rx="3.4" ry="2.3" stroke-width="1.1" transform="rotate(-0.2 3313 1363)"/>
<ellipse cx="3438" cy="1412" rx="3.8" ry="2.5" stroke-width="1.1" transform="rotate(20.3 3438 1412)"/>
<ellipse cx="1409" cy="1048" rx="3" ry="2" stroke-width="1.1" transform="rotate(-32.6 1409 1048)"/>
<path d="M2093.1 815.1l-1.3 2.7M2282.4 724.9l0.6 0.2M3235.2 1095.8l1.5 0.2M1933 757.9l-0.6 1.4M3157.6 1056.4l-0.5 0.3M2447.5 847.7l0.5 0.3M2997.4 1036l0.2 0.6M1851.3 842.1l-0.5 0.3M2436.9 695.7l-2.9 0.7M2945.9 935.8l2.8 1M2613.9 781.1l-1.3 0.8M2716.2 868.5l0.4 3M2618.5 911.1l0 0.6M2597 808.5l-0.5 0.3M2097.5 801.6l0.1 0.6M3222.2 1134.8l1 2.8M1883.4 773.1l-0.3 0.5M2481 755.1l-0.3 1.5M2560.3 846.5l0.1 0.6M2171.5 803.5l0.5 0.4M2893.2 971.2l-0.8 1.2M3037.9 1043.4l1.4 0.5M2258.5 766.2l-0.8 1.3M2109.7 717.9l0.4 0.5M2844.9 947.3l0.9 1.2M2716.8 951.3l0.4 3M2583 854.4l0.6 0.1M3145.5 1051.4l-1.4 0.5M2924.3 940.6l0.1 0.6M2783.6 986.3l-0.6 0.2M2042.3 816.3l-0.6 0M3181.9 1142.7l-2.9 0.6M1731.5 924.8l-1.5 0.3M1834.8 939.6l0.6 0.2M2164.8 830.4l0.2 0.6M1932.6 773.2l0.6 0M3221.6 1096.7l1.4 2.7M2042.1 876l0.4 0.4M2409.6 797.2l2.6 1.6M1933.9 806.7l2.3 1.9M2757.8 985.1l-0.3 1.5M1734.9 835.4l0.4 0.5M2856.7 917.9l0.6 0.1M2362.8 759.2l0.5 0.4M2000.6 747.8l-0.6 0.2M1887.4 816.5l-0.6 0M1892.1 840.6l0.4 0.5M2108.4 726.1l0.6 0M3157.2 1018.5l0.5 0.3M2425.5 775.4l-3 0.2M2324.8 705.9l0.6 0.1M1738.4 851l0.3 0.5M1764.8 810.3l-0.8 1.2M1959.5 751.8l0.7 2.9M2615.5 808.2l2.2 2M3159.9 1106.5l0.1 0.6M2448 736l-1.6 2.5M2733.9 880.5l-0.7 2.9M2685.7 911.1l0.3 0.5M2137.2 705.3l-2.4 1.8M2484.7 851.2l-0.3 0.5M2775.8 903l-1.5 0.1M3130.7 1022.6l-1.2 0.8M1735.7 935.9l0.1 1.5M1949.2 809.8l-1.4 0.6M2184.6 773l-1.5 0.1M3053.7 1064.3l-0.1 0.6M3171.7 999.6l2.3 1.9M1939.1 895.7l2 2.3M3201.6 1067.1l1.4 0.5M2880.2 943.1l1.2 0.9M2606 800.7l0.5 1.4M3036.4 945.8l0.2 0.6M2889.4 957.5l-0.4 1.4M2354.7 686.1l0.5 0.3M2896.4 1003.9l0.1 0.6M2374.7 733.3l2.5 1.7M2337.8 723.5l0.4 0.4M2589.7 881.3l2.9 0.7M2616.9 837.8l0.3 0.5M2824.7 968.5l-2.8 1.2M1844.3 813.9l0.2 0.5M2341.4 831.9l0.1 0.6M3181.7 1007.9l0.6 2.9M2901.8 949.6l-0.3 1.5M1840.9 869.9l1.8 2.4M3191 1053.7l2.9 0.6M2603.1 805.8l-0.4 3M3093.8 1011.6l-1.4 0.4M3208.8 1018l-0.2 0.6M2293.1 816.8l-0.4 1.5M2929.7 993.2l0.5 0.4M2738.3 825.6l1.2 0.9M2967.2 965l1.1 1M3127.9 1018.5l0.1 0.6M2643.2 854.1l-1.4 0.6M2053.3 862.1l0 0.6M1738.1 842l-1.1 1M2167.6 687.5l0.8 1.2M2623.6 814.3l0.5 0.3M3073.2 1116.4l-1.7 2.5M1734.7 830.5l-0.3 0.5M1761.2 908.1l0.2 0.5M2422 865.7l2.9 0.8M2481.9 793.3l0.6 0.1M2889.3 975.9l0.6 0.1M3243.9 1140.8l0.6 0M2642.2 801.4l0.7 1.3M1768.2 961.6l-2.8 1.1M2724.2 873.8l0.2 0.6M2621.8 815.2l-0.3 0.5M2070 825l-0.6 0M2469.8 709.4l-0.8 2.9M1890.4 806.7l0.6 0.1M2214.8 754.2l0.5 0.4M1766.9 951.3l0.6 0.2M2298.3 792.7l-1.1 2.8M2294.3 723.3l0.5 0.3M2953.2 976.3l0.4 0.5M1998 736.1l0.6 0.1M2514.9 715.3l0.8 2.9M2151.9 823l0.5 0.3M2718.8 811.9l0.9 1.2M1989.7 876.7l-1.1 1M3195.6 1129l-1.5 0M3009.2 1007.9l0.4 0.4M2474.8 724.9l0.1 0.6M2602.9 784.3l2.5 1.7M2229.5 680.5l-0.3 0.5M1742.2 895.6l-0.5 0.4M2919 949.2l-0.6 0.2M2769.1 890.9l-0.1 0.6M2099.6 807.8l-2.7 1.3M2280.6 736.5l0 0.6M2243.2 726.6l-1.5 0.4M2696 800.4l-0.3 0.5M2908 996.4l2.4 1.8M1944.6 813.1l0.3 0.5M2270 728.4l1.5 0.3M2649.2 890l0.5 1.4M1772.3 879.8l-0.6 0.1M2059.2 754.1l0.8 1.2M1963.3 751.1l0.5 0.2M3089 1054.6l-0.1 0.6M1941.5 846.4l-0.2 0.6M2222.9 752l0.6 0.2M2433.8 830.6l2.4 1.8M3140.8 1154.4l0.3 0.5M2486.4 750l1.1 1.1M2561 838.7l-0.2 0.6M2109.6 801.2l-2.7 1.2M1797.7 934.7l0.5 0.3M2989.2 928.1l1.2 2.7M2275.5 768l0.6 0.2M2796.2 979l0.9 2.9M2711.4 867.2l-2.3 1.9M1892.4 805.1l1.3 2.7M3021 1079.9l-0.5 0.3M2091.9 837.7l-0.6 0.1M2463.8 727.2l0.3 0.5M2438.5 780.8l-1.5 0.3M2448.3 784.7l0 1.5M1718.6 889.7l-0.5 0.4M2198.2 697.4l0.6 2.9M2102.2 746.6l0.6 0.2M1844.4 885.3l0.4 0.5M2194.5 828l-1.5 0.2M2882.4 1002.9l2.7 1.2M2187.7 739.8l-2.5 1.7M2893.4 902.4l-0.4 0.4M1918.6 764.5l-0.6 1.4M2468.1 869.1l0.6 0.1M3239.9 1097.7l-1.2 2.8M2538.7 854l3 0.3M3096.2 1014.3l-0.5 0.3M1747.1 838.4l1.4 0.5M2771 989.2l1.3 0.8M2405 857.5l2.9 0.9M3211.2 1147l-0.6 0.2M3009.1 1020.4l0.6 0.2M1752.5 827.9l-1.2 0.9M2321.8 718.5l2.9 0.7M2231.1 793.7l-0.5 0.4M2179.4 815.2l0.5 1.4M2581.4 825.5l0.1 0.6M1770.8 970.8l2.9 0.9M2536.1 761.3l2.8 0.9M2925.1 958.2l2.9 0.9M2302.4 814.8l-2.4 1.8M2832.4 1017l-3 0.4M3099.8 1098.2l-0.5 0.3M2989.1 948.5l-0.2 0.6M2373 844.1l-2.8 1.1M1752.3 919.8l1.3 0.8M2604.5 870.8l2.8 1.1M2395.2 816.7l0.5 0.3M2518.6 746.6l-1.5 0.3M3153.1 1133.7l-0.4 0.5M2724.1 827.3l0.6 0.2M3184.4 1152l0.6 0.2M3063.8 954l-3 0.3M3215.5 1038.3l2.8 1.2M2794.2 885l-0.3 1.5M2839.8 924l-2.7 1.3M2011 838.6l1.2 2.7M3104.1 1041.8l0.4 3M2761.7 954.1l0.5 0.3M3239.8 1139.6l0.5 0.3M3210.6 1090.1l-0.3 0.5M2657.3 857.1l-0.6 1.4M3025.2 954.8l-0.3 0.5M3197.1 1086.3l0.4 3M1722.8 987.2l-0.5 0.3M2655 861.7l-0.3 0.5M2456.3 779l-0.5 0.4M1717.5 842.9l1.5 0.3M2589 838.2l-0.3 0.5M1851.8 832.8l-2.1 2.2M1843.1 934.9l-1.2 0.9M2517.4 813l1.5 0.3M2245 822.3l-0.5 0.2M2300.3 715l0.4 0.4M2040.3 831.3l1.6 2.5M3245.7 1124.5l-1.4 0.5M2964.1 921.1l0.5 0.4M2826.1 972.4l0.6 0.1M3083.2 1089.3l-2.7 1.3M1706.5 913.7l0.3 0.5M1975.1 887.2l0.2 0.6M2520.3 817.8l-0.8 1.2M3364.5 1302.3l0.8 0.5M3387.1 1333.3l0.8 0.5M3320 1538l0.8 0.5M3470.8 1406.8l0.8 0.5M3403.9 1515.6l0.8 0.5M3385.7 1539l0.8 0.5M3359.8 1302l0.8 0.5M3304 1500.4l0.8 0.5M3335.2 1431l0.8 0.5M3391 1422.5l0.8 0.5M3341.5 1391.9l0.8 0.5M3401.9 1372.5l0.8 0.5M3436.3 1413.8l0.8 0.5M3353.6 1312.7l0.8 0.5M3370.9 1501.2l0.8 0.5M3365 1410.8l0.8 0.5M3347.6 1408.1l0.8 0.5M3480.4 1501.1l0.8 0.5M3347.5 1324.3l0.8 0.5M3501.8 1505.7l0.8 0.5M3379 1357.6l0.8 0.5M3327.5 1305.8l0.8 0.5M3462.7 1394.5l0.8 0.5M3327.4 1429.8l0.8 0.5M3419.8 1377.7l0.8 0.5M3353 1396.7l0.8 0.5M3331.2 1406.3l0.8 0.5M3375.7 1503.7l0.8 0.5M3438.9 1400.3l0.8 0.5M3458.4 1535.3l0.8 0.5M3352 1296.3l0.8 0.5M3399.2 1425.9l0.8 0.5M3403.6 1370.1l0.8 0.5M3486.4 1496.3l0.8 0.5M3391.6 1528.8l0.8 0.5M1945.6 596.1l0.8 0.4M1922.2 572l0.8 0.4M1933.4 602.2l0.8 0.4M1875.5 635.5l0.8 0.4M1879.9 584.1l0.8 0.4M1921.2 579.6l0.8 0.4M1893.8 620l0.8 0.4M2004.6 558.1l0.8 0.4M1880.8 620l0.8 0.4M1991.3 559.3l0.8 0.4M1992.1 594.1l0.8 0.4M1949.2 592.2l0.8 0.4M1935.6 567.6l0.8 0.4M1930.8 623.4l0.8 0.4M2001.5 535.9l0.8 0.4M1958.8 613.7l0.8 0.4M1872 586.1l0.8 0.4M1996.6 600l0.8 0.4M2001.1 594.2l0.8 0.4M1969.9 537.7l0.8 0.4M1985.2 586.6l0.8 0.4M1982.5 572.1l0.8 0.4M1953.5 565.6l0.8 0.4M1882 647.1l0.8 0.4M1934.6 614.6l0.8 0.4M1939.9 554.2l0.8 0.4M1881.6 616.6l0.8 0.4M1979.7 547.5l0.8 0.4M1967.4 620.3l0.8 0.4M1943.2 552.2l0.8 0.4M1991.6 520.1l0.8 0.4" stroke-width="1.6"/>
<path d="M781.8 823L781.8 838M797.9 826.8L797.4 828.4L796 829.7L794 830.4L791.7 830.4L789.7 829.7L788.3 828.4L787.8 826.8L788.3 825.1L789.7 823.8L791.7 823.1L794 823.1L796 823.8L797.4 825.1L797.9 826.8M799 834.2L798.4 835.9L796.7 837.2L794.2 837.9L791.5 837.9L789 837.2L787.3 835.9L786.7 834.2L787.3 832.6L789 831.3L791.5 830.6L794.2 830.6L796.7 831.3L798.4 832.6L799 834.2M803.7 823L816.4 823L808.5 838M823.5 837L824.4 837L824.4 838L823.5 838L823.5 837M840.7 823L830.5 823L829.7 829.9L832.3 828.9L834.8 828.4L837.3 828.8L839.4 829.9L840.8 831.6L841.1 833.6L840.3 835.5L838.6 837.1L836.3 837.9L833.7 837.9L831.3 837.1L829.6 835.6" stroke-width="2.3"/>
<path d="M889.3 968L889.3 984M894.3 968L907.9 968L899.4 984M925.4 968L914.5 968L913.6 975.4L916.4 974.3L919 973.8L921.7 974.1L924 975.4L925.5 977.2L925.8 979.3L925 981.4L923.2 983L920.7 983.9L917.9 983.9L915.4 983L913.5 981.4M933.8 982.9L934.8 982.9L934.8 984L933.8 984L933.8 982.9M952.7 973.1L952.2 975.1L950.8 976.7L948.8 977.9L946.3 978.2L943.9 977.9L941.8 976.7L940.4 975.1L940 973.1L940.4 971.2L941.8 969.5L943.9 968.4L946.3 968L948.8 968.4L950.8 969.5L952.2 971.2L952.7 973.1M952.7 972.8L952.4 975.2L950.8 979.2L947 982.7L942.3 983.8M971.1 978.9L970.6 980.8L969.2 982.5L967.1 983.6L964.7 984L962.3 983.6L960.2 982.5L958.8 980.8L958.3 978.9L958.8 976.9L960.2 975.3L962.3 974.1L964.7 973.8L967.1 974.1L969.2 975.3L970.6 976.9L971.1 978.9M969.2 968.3L964.5 969.6L960.2 973.4L958.6 977.6L958.6 979.5" stroke-width="2.3"/>
<path d="M1262.9 867L1262.9 882M1266.9 867L1278 867L1271.1 882M1292.1 867L1283.3 867L1282.6 873.9L1284.8 872.9L1287 872.4L1289.2 872.8L1291 873.9L1292.2 875.6L1292.5 877.6L1291.8 879.5L1290.3 881.1L1288.3 881.9L1286.1 881.9L1284 881.1L1282.5 879.6M1299 881L1299.7 881L1299.7 882L1299 882L1299 881M1314.2 871.8L1313.8 873.6L1312.7 875.2L1311.1 876.2L1309.1 876.6L1307.1 876.2L1305.4 875.2L1304.3 873.6L1303.9 871.8L1304.3 870L1305.4 868.4L1307.1 867.4L1309.1 867L1311.1 867.4L1312.7 868.4L1313.8 870L1314.2 871.8M1314.2 871.5L1314 873.8L1312.7 877.5L1309.7 880.8L1305.8 881.9" stroke-width="2.3"/>
<path d="M1626.4 754L1626.4 769M1630.8 754L1642.7 754L1635.3 769M1658.5 764.2L1658 766L1656.8 767.6L1655 768.6L1652.9 769L1650.7 768.6L1648.9 767.6L1647.7 766L1647.3 764.2L1647.7 762.4L1648.9 760.8L1650.7 759.8L1652.9 759.4L1655 759.8L1656.8 760.8L1658 762.4L1658.5 764.2M1656.8 754.3L1652.7 755.5L1649 759.1L1647.5 763L1647.5 764.8M1665.5 768L1666.3 768L1666.3 769L1665.5 769L1665.5 768M1682 761.5L1681.8 763.8L1681 765.9L1679.7 767.6L1678.2 768.6L1676.5 769L1674.7 768.6L1673.2 767.6L1671.9 765.9L1671.1 763.8L1670.9 761.5L1671.1 759.2L1671.9 757.1L1673.2 755.4L1674.7 754.4L1676.5 754L1678.2 754.4L1679.7 755.4L1681 757.1L1681.8 759.2L1682 761.5M1697.8 754L1688.2 754L1687.4 760.9L1689.9 759.9L1692.2 759.4L1694.6 759.8L1696.6 760.9L1697.9 762.6L1698.2 764.6L1697.4 766.5L1695.8 768.1L1693.6 768.9L1691.2 768.9L1689 768.1L1687.4 766.6" stroke-width="2.3"/>
<path d="M1403 608L1403 622M1419.6 611.5L1419.1 613L1417.6 614.2L1415.5 614.9L1413.2 614.9L1411.1 614.2L1409.7 613L1409.2 611.5L1409.7 610L1411.1 608.8L1413.2 608.1L1415.5 608.1L1417.6 608.8L1419.1 610L1419.6 611.5M1420.7 618.5L1420.1 620L1418.3 621.2L1415.8 621.9L1413 621.9L1410.4 621.2L1408.7 620L1408 618.5L1408.7 617L1410.4 615.8L1413 615.1L1415.8 615.1L1418.3 615.8L1420.1 617L1420.7 618.5M1438.2 617.5L1437.8 619.2L1436.4 620.7L1434.4 621.7L1432.1 622L1429.7 621.7L1427.8 620.7L1426.4 619.2L1426 617.5L1426.4 615.8L1427.8 614.4L1429.7 613.4L1432.1 613L1434.4 613.4L1436.4 614.4L1437.8 615.8L1438.2 617.5M1436.4 608.3L1431.9 609.4L1427.8 612.8L1426.2 616.4L1426.2 618.1M1445.9 621L1446.8 621L1446.8 622L1445.9 622L1445.9 621M1451.8 611.9L1452.3 610.4L1453.6 609.1L1455.6 608.3L1458 608L1460.3 608.3L1462.3 609.1L1463.6 610.4L1464.1 611.9L1464.1 613L1451.8 622L1464.5 622" stroke-width="2.3"/>
<path d="M1873.9 475L1873.9 490M1890.3 478.8L1889.8 480.4L1888.3 481.7L1886.3 482.4L1884 482.4L1881.9 481.7L1880.5 480.4L1880 478.8L1880.5 477.1L1881.9 475.8L1884 475.1L1886.3 475.1L1888.3 475.8L1889.8 477.1L1890.3 478.8M1891.4 486.2L1890.8 487.9L1889 489.2L1886.5 489.9L1883.7 489.9L1881.2 489.2L1879.5 487.9L1878.9 486.2L1879.5 484.6L1881.2 483.3L1883.7 482.6L1886.5 482.6L1889 483.3L1890.8 484.6L1891.4 486.2M1896.9 477.6L1898.2 476.1L1900.2 475.2L1902.6 475L1904.9 475.5L1906.7 476.7L1907.6 478.2L1907.5 479.9L1906.4 481.4L1904.5 482.4L1902.1 482.8L1904.8 482.6L1906.9 483.6L1908.2 485.1L1908.3 486.8L1907.2 488.3L1905.2 489.5L1902.7 490L1900 489.8L1897.7 488.9L1896.2 487.4M1916.2 488.9L1917.1 488.9L1917.1 490L1916.2 490L1916.2 488.9M1922.4 477.6L1923.7 476.1L1925.7 475.2L1928.1 475L1930.4 475.5L1932.2 476.7L1933.1 478.2L1933 479.9L1931.9 481.4L1930 482.4L1927.6 482.8L1930.3 482.6L1932.4 483.6L1933.7 485.1L1933.8 486.8L1932.7 488.3L1930.8 489.5L1928.2 490L1925.5 489.8L1923.2 488.9L1921.7 487.4" stroke-width="2.3"/>
<path d="M2126.8 262.8L2127.3 260.9L2128.5 259.4L2130.4 258.4L2132.5 258L2134.7 258.4L2136.6 259.4L2137.8 260.9L2138.2 262.8L2138.2 264.1L2126.8 275L2138.7 275M2154.7 266.5L2154.4 269.1L2153.6 271.5L2152.3 273.4L2150.8 274.6L2149 275L2147.2 274.6L2145.7 273.4L2144.4 271.5L2143.6 269.1L2143.3 266.5L2143.6 263.9L2144.4 261.5L2145.7 259.6L2147.2 258.4L2149 258L2150.8 258.4L2152.3 259.6L2153.6 261.5L2154.4 263.9L2154.7 266.5M2171.2 266.5L2170.9 269.1L2170.1 271.5L2168.8 273.4L2167.2 274.6L2165.5 275L2163.7 274.6L2162.1 273.4L2160.8 271.5L2160 269.1L2159.8 266.5L2160 263.9L2160.8 261.5L2162.1 259.6L2163.7 258.4L2165.5 258L2167.2 258.4L2168.8 259.6L2170.1 261.5L2170.9 263.9L2171.2 266.5" stroke-width="2.3"/>
<path d="M2135.7 307L2135.7 324M2152.3 312.4L2151.9 314.5L2150.6 316.3L2148.7 317.5L2146.5 317.9L2144.2 317.5L2142.4 316.3L2141.1 314.5L2140.7 312.4L2141.1 310.4L2142.4 308.6L2144.2 307.4L2146.5 307L2148.7 307.4L2150.6 308.6L2151.9 310.4L2152.3 312.4M2152.3 312.1L2152.1 314.6L2150.6 318.9L2147.1 322.6L2142.8 323.8M2168.7 307L2158.8 307L2157.9 314.8L2160.5 313.7L2162.9 313.1L2165.4 313.5L2167.5 314.8L2168.8 316.8L2169.1 319L2168.4 321.2L2166.7 322.9L2164.4 323.9L2161.9 323.9L2159.6 323L2157.9 321.3" stroke-width="2.3"/>
<path d="M2143.2 363L2143.2 380M2158.6 368.4L2158.2 370.5L2157 372.3L2155.3 373.5L2153.2 373.9L2151.1 373.5L2149.4 372.3L2148.2 370.5L2147.8 368.4L2148.2 366.4L2149.4 364.6L2151.1 363.4L2153.2 363L2155.3 363.4L2157 364.6L2158.2 366.4L2158.6 368.4M2158.6 368.1L2158.4 370.6L2157 374.9L2153.8 378.6L2149.8 379.8M2174.2 371.5L2173.9 374.1L2173.2 376.5L2172 378.4L2170.5 379.6L2168.8 380L2167.1 379.6L2165.6 378.4L2164.4 376.5L2163.7 374.1L2163.4 371.5L2163.7 368.9L2164.4 366.5L2165.6 364.6L2167.1 363.4L2168.8 363L2170.5 363.4L2172 364.6L2173.2 366.5L2173.9 368.9L2174.2 371.5" stroke-width="2.3"/>
<path d="M2152.7 414L2152.7 430M2166.2 418L2165.7 419.7L2164.6 421.1L2162.9 421.9L2161 421.9L2159.3 421.1L2158.1 419.7L2157.7 418L2158.1 416.3L2159.3 414.9L2161 414.1L2162.9 414.1L2164.6 414.9L2165.7 416.3L2166.2 418M2167.1 426L2166.6 427.7L2165.1 429.1L2163.1 429.9L2160.8 429.9L2158.7 429.1L2157.3 427.7L2156.8 426L2157.3 424.3L2158.7 422.9L2160.8 422.1L2163.1 422.1L2165.1 422.9L2166.6 424.3L2167.1 426M2180.9 414L2172.4 414L2171.7 421.4L2173.9 420.3L2176 419.8L2178.1 420.1L2179.9 421.4L2181 423.2L2181.2 425.3L2180.6 427.4L2179.2 429L2177.2 429.9L2175.1 429.9L2173.1 429L2171.6 427.4" stroke-width="2.3"/>
<path d="M2458.1 607L2458.1 626M2462.3 607L2473.7 607L2466.6 626M2488.7 619.9L2488.3 622.2L2487.1 624.2L2485.4 625.5L2483.4 626L2481.3 625.5L2479.6 624.2L2478.5 622.2L2478.1 619.9L2478.5 617.6L2479.6 615.6L2481.3 614.3L2483.4 613.8L2485.4 614.3L2487.1 615.6L2488.3 617.6L2488.7 619.9M2487.1 607.4L2483.2 608.9L2479.6 613.5L2478.2 618.4L2478.2 620.7M2495.4 624.7L2496.2 624.7L2496.2 626L2495.4 626L2495.4 624.7M2510.4 611.8L2510 613.8L2508.7 615.5L2506.9 616.4L2504.9 616.4L2503.1 615.5L2501.8 613.8L2501.3 611.8L2501.8 609.7L2503.1 608L2504.9 607.1L2506.9 607.1L2508.7 608L2510 609.7L2510.4 611.8M2511.4 621.2L2510.9 623.3L2509.3 625L2507.1 625.9L2504.7 625.9L2502.4 625L2500.9 623.3L2500.4 621.2L2500.9 619.2L2502.4 617.5L2504.7 616.6L2507.1 616.6L2509.3 617.5L2510.9 619.2L2511.4 621.2" stroke-width="1.4"/>
<path d="M2096.7 776L2096.7 794M2113.5 788.2L2113 790.4L2111.8 792.3L2109.9 793.6L2107.6 794L2105.4 793.6L2103.5 792.3L2102.2 790.4L2101.7 788.2L2102.2 786L2103.5 784.2L2105.4 782.9L2107.6 782.5L2109.9 782.9L2111.8 784.2L2113 786L2113.5 788.2M2111.7 776.4L2107.4 777.8L2103.5 782.1L2102 786.8L2102 789M2130.4 781.8L2130 784L2128.7 785.8L2126.8 787.1L2124.6 787.5L2122.3 787.1L2120.4 785.8L2119.1 784L2118.7 781.8L2119.1 779.6L2120.4 777.7L2122.3 776.4L2124.6 776L2126.8 776.4L2128.7 777.7L2130 779.6L2130.4 781.8M2130.4 781.4L2130.2 784.1L2128.7 788.6L2125.2 792.6L2120.9 793.8M2137.8 792.7L2138.7 792.7L2138.7 794L2137.8 794L2137.8 792.7M2149.3 776L2149.3 794" stroke-width="2.3"/>
<path d="M2361.3 800L2361.3 817M2365.6 800L2377.4 800L2370.1 817M2392.9 808.5L2392.7 811.1L2391.9 813.5L2390.7 815.4L2389.1 816.6L2387.4 817L2385.7 816.6L2384.2 815.4L2383 813.5L2382.2 811.1L2381.9 808.5L2382.2 805.9L2383 803.5L2384.2 801.6L2385.7 800.4L2387.4 800L2389.1 800.4L2390.7 801.6L2391.9 803.5L2392.7 805.9L2392.9 808.5M2399.9 815.8L2400.7 815.8L2400.7 817L2399.9 817L2399.9 815.8M2405.2 804.8L2405.6 802.9L2406.8 801.4L2408.6 800.4L2410.7 800L2412.8 800.4L2414.6 801.4L2415.8 802.9L2416.2 804.8L2416.2 806.1L2405.2 817L2416.6 817" stroke-width="2.3"/>
<path d="M2739.4 935L2739.4 952M2743.8 935L2755.8 935L2748.3 952M2771.5 943.5L2771.3 946.1L2770.5 948.5L2769.2 950.4L2767.7 951.6L2766 952L2764.2 951.6L2762.7 950.4L2761.4 948.5L2760.6 946.1L2760.4 943.5L2760.6 940.9L2761.4 938.5L2762.7 936.6L2764.2 935.4L2766 935L2767.7 935.4L2769.2 936.6L2770.5 938.5L2771.3 940.9L2771.5 943.5M2778.6 950.8L2779.4 950.8L2779.4 952L2778.6 952L2778.6 950.8M2783.6 935L2795.6 935L2788.1 952" stroke-width="2.3"/>
<path d="M2843.4 764L2843.4 780M2847.8 764L2859.8 764L2852.3 780M2875.5 774.9L2875.1 776.8L2873.9 778.5L2872.1 779.6L2870 780L2867.8 779.6L2866 778.5L2864.8 776.8L2864.4 774.9L2864.8 772.9L2866 771.3L2867.8 770.1L2870 769.8L2872.1 770.1L2873.9 771.3L2875.1 772.9L2875.5 774.9M2873.9 764.3L2869.7 765.6L2866 769.4L2864.6 773.6L2864.6 775.5M2882.6 778.9L2883.4 778.9L2883.4 780L2882.6 780L2882.6 778.9M2899.2 774.9L2898.7 776.8L2897.5 778.5L2895.7 779.6L2893.6 780L2891.4 779.6L2889.6 778.5L2888.4 776.8L2888 774.9L2888.4 772.9L2889.6 771.3L2891.4 770.1L2893.6 769.8L2895.7 770.1L2897.5 771.3L2898.7 772.9L2899.2 774.9M2897.5 764.3L2893.4 765.6L2889.6 769.4L2888.2 773.6L2888.2 775.5" stroke-width="2.3"/>
<path d="M2895.8 604L2895.8 620M2909.6 608L2909.2 609.7L2908 611.1L2906.2 611.9L2904.3 611.9L2902.6 611.1L2901.4 609.7L2900.9 608L2901.4 606.3L2902.6 604.9L2904.3 604.1L2906.2 604.1L2908 604.9L2909.2 606.3L2909.6 608M2910.5 616L2910 617.7L2908.6 619.1L2906.4 619.9L2904.1 619.9L2902 619.1L2900.5 617.7L2900 616L2900.5 614.3L2902 612.9L2904.1 612.1L2906.4 612.1L2908.6 612.9L2910 614.3L2910.5 616M2914.5 604L2925.4 604L2918.6 620M2931.4 618.9L2932.2 618.9L2932.2 620L2931.4 620L2931.4 618.9M2941.4 604L2941.4 620" stroke-width="2.3"/>
<path d="M3255.1 715L3255.1 732M3271.9 719.2L3271.4 721.1L3270 722.6L3267.8 723.4L3265.5 723.4L3263.3 722.6L3261.9 721.1L3261.4 719.2L3261.9 717.4L3263.3 715.9L3265.5 715.1L3267.8 715.1L3270 715.9L3271.4 717.4L3271.9 719.2M3273.1 727.8L3272.5 729.6L3270.7 731.1L3268.1 731.9L3265.2 731.9L3262.6 731.1L3260.8 729.6L3260.2 727.8L3260.8 725.9L3262.6 724.4L3265.2 723.6L3268.1 723.6L3270.7 724.4L3272.5 725.9L3273.1 727.8M3290.8 726.6L3290.4 728.6L3289 730.4L3287 731.6L3284.6 732L3282.2 731.6L3280.2 730.4L3278.9 728.6L3278.4 726.6L3278.9 724.5L3280.2 722.7L3282.2 721.5L3284.6 721.1L3287 721.5L3289 722.7L3290.4 724.5L3290.8 726.6M3289 715.3L3284.4 716.7L3280.2 720.8L3278.6 725.2L3278.6 727.2M3298.7 730.8L3299.6 730.8L3299.6 732L3298.7 732L3298.7 730.8M3304.6 719.8L3305.1 717.9L3306.5 716.4L3308.5 715.4L3310.9 715L3313.2 715.4L3315.3 716.4L3316.6 717.9L3317.1 719.8L3317.1 721.1L3304.6 732L3317.5 732" stroke-width="2.3"/>
<path d="M3338.1 997L3338.1 1012M3342.2 997L3353.6 997L3346.5 1012M3357.5 997L3368.9 997L3361.8 1012M3375.2 1011L3376 1011L3376 1012L3375.2 1012L3375.2 1011M3380.3 1001.2L3380.7 999.6L3381.9 998.2L3383.6 997.3L3385.6 997L3387.6 997.3L3389.3 998.2L3390.5 999.6L3390.9 1001.2L3390.9 1002.4L3380.3 1012L3391.3 1012M3395.9 999.6L3397.1 998.1L3398.8 997.2L3400.9 997L3403 997.5L3404.5 998.7L3405.4 1000.2L3405.3 1001.9L3404.3 1003.4L3402.6 1004.4L3400.5 1004.8L3402.8 1004.6L3404.7 1005.6L3405.8 1007.1L3405.9 1008.8L3405 1010.3L3403.3 1011.5L3401 1012L3398.6 1011.8L3396.6 1010.9L3395.4 1009.4" stroke-width="2.3"/>
<path d="M3162.3 1271L3162.3 1286M3166.6 1271L3178.4 1271L3171.1 1286M3182.5 1271L3194.3 1271L3187 1286M3200.9 1285L3201.7 1285L3201.7 1286L3200.9 1286L3200.9 1285M3206.5 1273.6L3207.7 1272.1L3209.5 1271.2L3211.7 1271L3213.8 1271.5L3215.4 1272.7L3216.3 1274.2L3216.2 1275.9L3215.2 1277.4L3213.4 1278.4L3211.3 1278.8L3213.7 1278.6L3215.6 1279.6L3216.8 1281.1L3216.9 1282.8L3215.9 1284.3L3214.1 1285.5L3211.8 1286L3209.3 1285.8L3207.2 1284.9L3205.9 1283.4" stroke-width="2.3"/>
<path d="M1112 987L1117.3 967L1122.5 987M1114 980.2L1120.5 980.2"/>
<path d="M1131.4 976.4L1130.4 975.2L1128.8 974.6L1127.1 974.8L1125.8 975.8L1125.2 977.2L1125.6 978.7L1126.7 979.8L1128.4 980.2L1130 980.7L1131.2 981.7L1131.9 983L1131.8 984.4L1131 985.7L1129.7 986.6L1128.2 986.8L1126.6 986.4"/>
<path d="M2065 642L2070.8 620L2076.6 642M2067.2 634.5L2074.3 634.5"/>
<path d="M2086.3 630.4L2085.2 629L2083.5 628.4L2081.6 628.6L2080.2 629.7L2079.5 631.2L2079.9 632.9L2081.2 634.1L2083 634.5L2084.8 635.1L2086.1 636.1L2086.8 637.6L2086.8 639.2L2086 640.6L2084.5 641.5L2082.8 641.8L2081.1 641.3"/>
<path d="M3043 877L3048.8 855L3054.6 877M3045.2 869.5L3052.3 869.5"/>
<path d="M3064.3 865.4L3063.2 864L3061.5 863.4L3059.6 863.6L3058.2 864.7L3057.5 866.2L3057.9 867.9L3059.2 869.1L3061 869.5L3062.8 870.1L3064.1 871.1L3064.8 872.6L3064.8 874.2L3064 875.6L3062.5 876.5L3060.8 876.8L3059.1 876.3"/>
<path d="M3568 1248L3573.8 1226L3579.6 1248M3570.2 1240.5L3577.3 1240.5"/>
<path d="M3589.3 1236.4L3588.2 1235L3586.5 1234.4L3584.6 1234.6L3583.2 1235.7L3582.5 1237.2L3582.9 1238.9L3584.2 1240.1L3586 1240.5L3587.8 1241.1L3589.1 1242.1L3589.8 1243.6L3589.8 1245.2L3589 1246.6L3587.5 1247.5L3585.8 1247.8L3584.1 1247.3"/>
<path d="M3248 1303L3253.8 1281L3259.6 1303M3250.2 1295.5L3257.3 1295.5"/>
<path d="M3269.3 1291.4L3268.2 1290L3266.5 1289.4L3264.6 1289.6L3263.2 1290.7L3262.5 1292.2L3262.9 1293.9L3264.2 1295.1L3266 1295.5L3267.8 1296.1L3269.1 1297.1L3269.8 1298.6L3269.8 1300.2L3269 1301.6L3267.5 1302.5L3265.8 1302.8L3264.1 1302.3"/>
<path d="M1903.8 657.5L1903.1 660.3L1901.1 662.6L1898.3 663.8L1895.1 663.8L1892.2 662.6L1890.2 660.3L1889.5 657.5L1890.2 654.7L1892.2 652.4L1895.1 651.2L1898.3 651.2L1901.1 652.4L1903.1 654.7L1903.8 657.5M1905.4 670.5L1904.5 673.3L1902.1 675.6L1898.6 676.8L1894.7 676.8L1891.2 675.6L1888.8 673.3L1887.9 670.5L1888.8 667.7L1891.2 665.4L1894.7 664.2L1898.6 664.2L1902.1 665.4L1904.5 667.7L1905.4 670.5" stroke-width="2.4"/>
<path d="M3031.1 824.7L3030.5 827.6L3028.6 830.1L3025.9 831.8L3022.7 832.4L3019.4 831.8L3016.7 830.1L3014.9 827.6L3014.2 824.7L3014.9 821.7L3016.7 819.2L3019.4 817.6L3022.7 817L3025.9 817.6L3028.6 819.2L3030.5 821.7L3031.1 824.7M3031.1 824.2L3030.8 827.8L3028.6 833.8L3023.6 839.1L3017.4 840.8" stroke-width="2.4"/>
<path d="M972.6 1112L972.6 1097L977.4 1097L978.7 1097.3L979.7 1098.1L980.4 1099.3L980.7 1100.8L980.4 1102.2L979.7 1103.4L978.7 1104.2L977.4 1104.5L972.6 1104.5M976.5 1104.5L981 1112" stroke-width="2.6"/>
<path d="M2012.5 687L2012.5 674L2016.7 674L2017.8 674.2L2018.7 675L2019.3 676L2019.5 677.2L2019.3 678.5L2018.7 679.5L2017.8 680.3L2016.7 680.5L2012.5 680.5M2015.9 680.5L2019.8 687" stroke-width="2.6"/>
<path d="M3237.9 991.3L3231.5 977.7L3235.9 975.7L3237.2 975.4L3238.5 975.7L3239.6 976.5L3240.5 977.7L3240.8 979.1L3240.7 980.5L3240.1 981.7L3239.1 982.5L3234.7 984.5M3238.2 982.9L3245.5 987.8" stroke-width="2.6"/>
<path d="M988.1 1067.1L989.6 1068.2L990.5 1069.7L990.8 1071.4L990.4 1072.9L989.4 1074.1L987.8 1074.8L986.1 1074.8L984.3 1074.3L982.8 1073.1L981.8 1071.6L981.5 1070L982 1068.4L983 1067.2L984.5 1066.6L986.3 1066.5L988.1 1067.1M978.8 1063.5L978.4 1066.7L980.3 1070.8L983.3 1073.6L984.9 1074.4M993.8 1064.4L994.1 1063.8L995 1064.3L994.7 1064.9L993.8 1064.4M987 1047.5L983.7 1053.6L989.5 1057.3L989.5 1055.3L989.9 1053.6L991 1052.2L992.7 1051.5L994.6 1051.5L996.5 1052.2L997.9 1053.6L998.7 1055.3L998.7 1057.1L997.9 1058.7L996.4 1059.7L994.6 1060.1" stroke-width="2.4"/>
<path d="M3262 962.9L3263.5 964.1L3264.6 965.7L3264.9 967.5L3264.5 969.1L3263.3 970.4L3261.7 971.1L3259.8 971.2L3257.9 970.5L3256.3 969.3L3255.3 967.7L3255 966L3255.4 964.3L3256.5 963L3258.2 962.3L3260.1 962.3L3262 962.9M3252 959.1L3251.7 962.5L3253.7 966.9L3256.9 969.8L3258.5 970.7M3268 960L3268.3 959.4L3269.3 959.9L3269 960.5L3268 960M3260.8 942L3257.3 948.5L3263.5 952.5L3263.4 950.3L3263.8 948.5L3265.1 947L3266.9 946.2L3268.9 946.2L3270.9 947L3272.5 948.5L3273.3 950.3L3273.3 952.3L3272.4 953.9L3270.9 955L3268.9 955.4" stroke-width="2.6"/>
<path d="M3290 987.9L3291.5 989.1L3292.6 990.7L3292.9 992.5L3292.5 994.1L3291.3 995.4L3289.7 996.1L3287.8 996.2L3285.9 995.5L3284.3 994.3L3283.3 992.7L3283 991L3283.4 989.3L3284.5 988L3286.2 987.3L3288.1 987.3L3290 987.9M3280 984.1L3279.7 987.5L3281.7 991.9L3284.9 994.8L3286.5 995.7M3296 985L3296.3 984.4L3297.3 984.9L3297 985.5L3296 985M3288.8 967L3285.3 973.5L3291.5 977.5L3291.4 975.3L3291.8 973.5L3293.1 972L3294.9 971.2L3296.9 971.2L3298.9 972L3300.5 973.5L3301.3 975.3L3301.3 977.3L3300.4 978.9L3298.9 980L3296.9 980.4" stroke-width="2.6"/>
<path d="M985 1022L1020 1083" stroke-width="1"/>
<path d="M985 1022L984 1031" stroke-width="1"/>
<path d="M1020 1083L1013 1078" stroke-width="1"/>
<path d="M1243 878L1269 943" stroke-width="1"/>
<path d="M1413 838L1433 880" stroke-width="1"/>
<path d="M3284 930L3258 990" stroke-width="1"/>
<path d="M3325 950L3292 1017" stroke-width="1"/>
<circle cx="1752.5" cy="702" r="11" stroke-width="1.2" fill="none"/>
<path d="M1746.5 698L1758.5 698" stroke-width="1.2"/>
<path d="M1752.5 698L1752.5 709" stroke-width="1.2"/>
<circle cx="2338.8" cy="581.2" r="11" stroke-width="1.2" fill="none"/>
<path d="M2332.8 577.2L2344.8 577.2" stroke-width="1.2"/>
<path d="M2338.8 577.2L2338.8 588.2" stroke-width="1.2"/>
<path d="M1044 660L1054 635L1058 660" stroke-width="1.4"/>
<path d="M1050 660L1065 660" stroke-width="1.4"/>
<path d="M1249 778L1259 753L1263 778" stroke-width="1.4"/>
<path d="M1255 778L1270 778" stroke-width="1.4"/>
<path d="M799 888L809 863L813 888" stroke-width="1.4"/>
<path d="M805 888L820 888" stroke-width="1.4"/>
<path d="M1573 467L1583 442L1587 467" stroke-width="1.4"/>
<path d="M1579 467L1594 467" stroke-width="1.4"/>
<path d="M1941 519L1951 494L1955 519" stroke-width="1.4"/>
<path d="M1947 519L1962 519" stroke-width="1.4"/>
<path d="M2046 260L2056 235L2060 260" stroke-width="1.4"/>
<path d="M2052 260L2067 260" stroke-width="1.4"/>
<path d="M2344 472L2354 447L2358 472" stroke-width="1.4"/>
<path d="M2350 472L2365 472" stroke-width="1.4"/>
<path d="M2709 338L2719 313L2723 338" stroke-width="1.4"/>
<path d="M2715 338L2730 338" stroke-width="1.4"/>
<path d="M3077 689L3087 664L3091 689" stroke-width="1.4"/>
<path d="M3083 689L3098 689" stroke-width="1.4"/>
<path d="M3650 765L3660 740L3664 765" stroke-width="1.4"/>
<path d="M3656 765L3671 765" stroke-width="1.4"/>
<path d="M3322 870L3332 845L3336 870" stroke-width="1.4"/>
<path d="M3328 870L3343 870" stroke-width="1.4"/>
<path d="M1882 676L1887 694" stroke-width="1.2"/>
<path d="M2996 855L3012 828" stroke-width="1.2"/>
<path d="M1868 1000L1872 1034L1866 1031" stroke-width="1.4"/>
<path d="M1858 1010L1851 1028" stroke-width="1.4"/>
<path d="M1879 1006L1886 1020" stroke-width="1.4"/>
<path d="M1931 988L1962 981L1965 998L1934 1005L1931 988" stroke-width="1.4"/>
<path d="M1932.5 996.5L1963.5 989.5" stroke-width="1.4"/>
<path d="M1946.5 984.5L1951 1014" stroke-width="1.4"/>
<path d="M1936 1011L1967 1004" stroke-width="1.4"/>
<path d="M1934 1019L1970 1011" stroke-width="1.4"/>
<path d="M2013 964L2017 984L2012 993" stroke-width="1.4"/>
<path d="M2026 961L2031 989" stroke-width="1.4"/>
<path d="M2039 958L2045 990" stroke-width="1.4"/>
<path d="M1539 1030L1546.4 1030L1547 1022.6L1545.2 1023.7L1543.3 1024.2L1541.5 1023.9L1539.9 1022.6L1539 1020.8L1538.7 1018.7L1539.3 1016.6L1540.5 1015L1542.2 1014.1L1544.1 1014.1L1545.8 1015L1547.1 1016.6M1533.3 1015.1L1532.6 1015.1L1532.6 1014L1533.3 1014L1533.3 1015.1M1520.5 1019.1L1520.8 1017.2L1521.7 1015.5L1523.1 1014.4L1524.8 1014L1526.5 1014.4L1527.9 1015.5L1528.8 1017.2L1529.1 1019.1L1528.8 1021.1L1527.9 1022.7L1526.5 1023.9L1524.8 1024.2L1523.1 1023.9L1521.7 1022.7L1520.8 1021.1L1520.5 1019.1M1521.8 1029.7L1525 1028.4L1527.8 1024.6L1529 1020.4L1529 1018.5M1517.3 1014L1512.3 1030L1507.4 1014M1515.4 1019.4L1509.3 1019.4M1495.5 1024.9L1495.8 1022.9L1496.8 1021.3L1498.2 1020.1L1499.8 1019.8L1501.5 1020.1L1502.9 1021.3L1503.8 1022.9L1504.2 1024.9L1503.8 1026.8L1502.9 1028.5L1501.5 1029.6L1499.8 1030L1498.2 1029.6L1496.8 1028.5L1495.8 1026.8L1495.5 1024.9M1495.5 1025.2L1495.7 1022.8L1496.8 1018.8L1499.4 1015.3L1502.6 1014.2" stroke-width="1.3"/>
<path d="M1475 1012C1474.2 1013.3 1469.8 1017 1470 1020C1470.2 1023 1475 1028.3 1476 1030" stroke-width="1.3"/>
</svg>
</body></html>
